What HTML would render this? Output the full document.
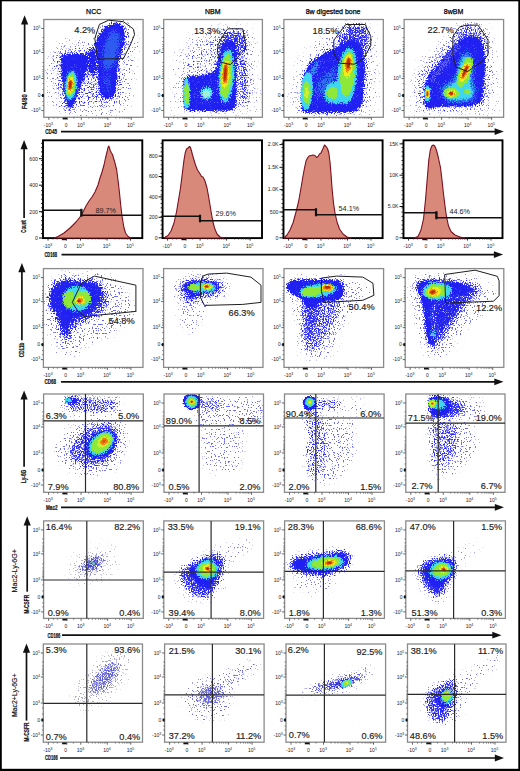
<!DOCTYPE html>
<html><head><meta charset="utf-8"><style>
html,body{margin:0;padding:0;background:#fff;}
svg{display:block;font-family:"Liberation Sans", sans-serif;}
</style></head><body>
<svg width="520" height="771" viewBox="0 0 520 771">
<defs><filter id="b03" x="-50%" y="-50%" width="200%" height="200%"><feGaussianBlur stdDeviation="0.3"/></filter><filter id="b05" x="-50%" y="-50%" width="200%" height="200%"><feGaussianBlur stdDeviation="0.5"/></filter><filter id="b08" x="-50%" y="-50%" width="200%" height="200%"><feGaussianBlur stdDeviation="0.8"/></filter><filter id="b1" x="-50%" y="-50%" width="200%" height="200%"><feGaussianBlur stdDeviation="1.0"/></filter><filter id="b15" x="-50%" y="-50%" width="200%" height="200%"><feGaussianBlur stdDeviation="1.5"/></filter><filter id="b2" x="-50%" y="-50%" width="200%" height="200%"><feGaussianBlur stdDeviation="2.0"/></filter><filter id="b3" x="-50%" y="-50%" width="200%" height="200%"><feGaussianBlur stdDeviation="3.0"/></filter><filter id="b4" x="-50%" y="-50%" width="200%" height="200%"><feGaussianBlur stdDeviation="4.0"/></filter><filter id="d1" x="-40%" y="-40%" width="180%" height="180%" color-interpolation-filters="sRGB"><feGaussianBlur in="SourceGraphic" stdDeviation="1.0" result="b"/><feTurbulence type="fractalNoise" baseFrequency="0.83" numOctaves="1" seed="1" result="n"/><feComponentTransfer in="n" result="n2"><feFuncA type="table" tableValues="0 0 0.03 0.19 0.39 0.57 0.72 0.78 0.78"/></feComponentTransfer><feComposite in="b" in2="n2" operator="arithmetic" k1="0" k2="5" k3="-5" k4="0" result="m"/><feColorMatrix in="b" type="matrix" values="1 0 0 0 0 0 1 0 0 0 0 0 1 0 0 0 0 0 40 0" result="bo"/><feComposite in="bo" in2="m" operator="in"/><feGaussianBlur stdDeviation="0.3"/></filter><filter id="d15" x="-40%" y="-40%" width="180%" height="180%" color-interpolation-filters="sRGB"><feGaussianBlur in="SourceGraphic" stdDeviation="1.5" result="b"/><feTurbulence type="fractalNoise" baseFrequency="0.79" numOctaves="1" seed="2" result="n"/><feComponentTransfer in="n" result="n2"><feFuncA type="table" tableValues="0 0 0.03 0.19 0.39 0.57 0.72 0.78 0.78"/></feComponentTransfer><feComposite in="b" in2="n2" operator="arithmetic" k1="0" k2="5" k3="-5" k4="0" result="m"/><feColorMatrix in="b" type="matrix" values="1 0 0 0 0 0 1 0 0 0 0 0 1 0 0 0 0 0 40 0" result="bo"/><feComposite in="bo" in2="m" operator="in"/><feGaussianBlur stdDeviation="0.3"/></filter><filter id="d2" x="-40%" y="-40%" width="180%" height="180%" color-interpolation-filters="sRGB"><feGaussianBlur in="SourceGraphic" stdDeviation="2.0" result="b"/><feTurbulence type="fractalNoise" baseFrequency="0.87" numOctaves="1" seed="3" result="n"/><feComponentTransfer in="n" result="n2"><feFuncA type="table" tableValues="0 0 0.03 0.19 0.39 0.57 0.72 0.78 0.78"/></feComponentTransfer><feComposite in="b" in2="n2" operator="arithmetic" k1="0" k2="5" k3="-5" k4="0" result="m"/><feColorMatrix in="b" type="matrix" values="1 0 0 0 0 0 1 0 0 0 0 0 1 0 0 0 0 0 40 0" result="bo"/><feComposite in="bo" in2="m" operator="in"/><feGaussianBlur stdDeviation="0.3"/></filter><filter id="d3" x="-40%" y="-40%" width="180%" height="180%" color-interpolation-filters="sRGB"><feGaussianBlur in="SourceGraphic" stdDeviation="3.0" result="b"/><feTurbulence type="fractalNoise" baseFrequency="0.81" numOctaves="1" seed="4" result="n"/><feComponentTransfer in="n" result="n2"><feFuncA type="table" tableValues="0 0 0.03 0.19 0.39 0.57 0.72 0.78 0.78"/></feComponentTransfer><feComposite in="b" in2="n2" operator="arithmetic" k1="0" k2="5" k3="-5" k4="0" result="m"/><feColorMatrix in="b" type="matrix" values="1 0 0 0 0 0 1 0 0 0 0 0 1 0 0 0 0 0 40 0" result="bo"/><feComposite in="bo" in2="m" operator="in"/><feGaussianBlur stdDeviation="0.3"/></filter><filter id="d4" x="-40%" y="-40%" width="180%" height="180%" color-interpolation-filters="sRGB"><feGaussianBlur in="SourceGraphic" stdDeviation="4.0" result="b"/><feTurbulence type="fractalNoise" baseFrequency="0.77" numOctaves="1" seed="5" result="n"/><feComponentTransfer in="n" result="n2"><feFuncA type="table" tableValues="0 0 0.03 0.19 0.39 0.57 0.72 0.78 0.78"/></feComponentTransfer><feComposite in="b" in2="n2" operator="arithmetic" k1="0" k2="5" k3="-5" k4="0" result="m"/><feColorMatrix in="b" type="matrix" values="1 0 0 0 0 0 1 0 0 0 0 0 1 0 0 0 0 0 40 0" result="bo"/><feComposite in="bo" in2="m" operator="in"/><feGaussianBlur stdDeviation="0.3"/></filter><filter id="e1" x="-40%" y="-40%" width="180%" height="180%" color-interpolation-filters="sRGB"><feGaussianBlur in="SourceGraphic" stdDeviation="1.0" result="b"/><feTurbulence type="fractalNoise" baseFrequency="0.85" numOctaves="1" seed="6" result="n"/><feComponentTransfer in="n" result="n2"><feFuncA type="table" tableValues="0 0 0.03 0.19 0.39 0.57 0.72 0.78 0.78"/></feComponentTransfer><feComposite in="b" in2="n2" operator="arithmetic" k1="0" k2="5" k3="-5" k4="0" result="m"/><feColorMatrix in="b" type="matrix" values="1 0 0 0 0 0 1 0 0 0 0 0 1 0 0 0 0 0 40 0" result="bo"/><feComposite in="bo" in2="m" operator="in"/><feGaussianBlur stdDeviation="0.3"/></filter><filter id="e2" x="-40%" y="-40%" width="180%" height="180%" color-interpolation-filters="sRGB"><feGaussianBlur in="SourceGraphic" stdDeviation="2.0" result="b"/><feTurbulence type="fractalNoise" baseFrequency="0.8" numOctaves="1" seed="7" result="n"/><feComponentTransfer in="n" result="n2"><feFuncA type="table" tableValues="0 0 0.03 0.19 0.39 0.57 0.72 0.78 0.78"/></feComponentTransfer><feComposite in="b" in2="n2" operator="arithmetic" k1="0" k2="5" k3="-5" k4="0" result="m"/><feColorMatrix in="b" type="matrix" values="1 0 0 0 0 0 1 0 0 0 0 0 1 0 0 0 0 0 40 0" result="bo"/><feComposite in="bo" in2="m" operator="in"/><feGaussianBlur stdDeviation="0.3"/></filter><filter id="e3" x="-40%" y="-40%" width="180%" height="180%" color-interpolation-filters="sRGB"><feGaussianBlur in="SourceGraphic" stdDeviation="3.0" result="b"/><feTurbulence type="fractalNoise" baseFrequency="0.84" numOctaves="1" seed="8" result="n"/><feComponentTransfer in="n" result="n2"><feFuncA type="table" tableValues="0 0 0.03 0.19 0.39 0.57 0.72 0.78 0.78"/></feComponentTransfer><feComposite in="b" in2="n2" operator="arithmetic" k1="0" k2="5" k3="-5" k4="0" result="m"/><feColorMatrix in="b" type="matrix" values="1 0 0 0 0 0 1 0 0 0 0 0 1 0 0 0 0 0 40 0" result="bo"/><feComposite in="bo" in2="m" operator="in"/><feGaussianBlur stdDeviation="0.3"/></filter><filter id="e4" x="-40%" y="-40%" width="180%" height="180%" color-interpolation-filters="sRGB"><feGaussianBlur in="SourceGraphic" stdDeviation="4.0" result="b"/><feTurbulence type="fractalNoise" baseFrequency="0.86" numOctaves="1" seed="9" result="n"/><feComponentTransfer in="n" result="n2"><feFuncA type="table" tableValues="0 0 0.03 0.19 0.39 0.57 0.72 0.78 0.78"/></feComponentTransfer><feComposite in="b" in2="n2" operator="arithmetic" k1="0" k2="5" k3="-5" k4="0" result="m"/><feColorMatrix in="b" type="matrix" values="1 0 0 0 0 0 1 0 0 0 0 0 1 0 0 0 0 0 40 0" result="bo"/><feComposite in="bo" in2="m" operator="in"/><feGaussianBlur stdDeviation="0.3"/></filter><filter id="s3" x="-40%" y="-40%" width="180%" height="180%" color-interpolation-filters="sRGB"><feGaussianBlur in="SourceGraphic" stdDeviation="3.0" result="b"/><feTurbulence type="fractalNoise" baseFrequency="0.82" numOctaves="1" seed="10" result="n"/><feComponentTransfer in="n" result="n2"><feFuncA type="table" tableValues="0.000 0.000 0.000 0.000 0.004 0.032 0.107 0.237 0.444 0.644 0.769 0.847 0.877 0.880 0.880 0.880 0.880"/></feComponentTransfer><feComposite in="b" in2="n2" operator="arithmetic" k1="0" k2="14" k3="-14" k4="0" result="m"/><feColorMatrix in="b" type="matrix" values="1 0 0 0 0 0 1 0 0 0 0 0 1 0 0 0 0 0 40 0" result="bo"/><feComposite in="bo" in2="m" operator="in"/><feGaussianBlur stdDeviation="0.3"/></filter><filter id="s4" x="-40%" y="-40%" width="180%" height="180%" color-interpolation-filters="sRGB"><feGaussianBlur in="SourceGraphic" stdDeviation="4.0" result="b"/><feTurbulence type="fractalNoise" baseFrequency="0.78" numOctaves="1" seed="11" result="n"/><feComponentTransfer in="n" result="n2"><feFuncA type="table" tableValues="0.000 0.000 0.000 0.000 0.004 0.032 0.107 0.237 0.444 0.644 0.769 0.847 0.877 0.880 0.880 0.880 0.880"/></feComponentTransfer><feComposite in="b" in2="n2" operator="arithmetic" k1="0" k2="14" k3="-14" k4="0" result="m"/><feColorMatrix in="b" type="matrix" values="1 0 0 0 0 0 1 0 0 0 0 0 1 0 0 0 0 0 40 0" result="bo"/><feComposite in="bo" in2="m" operator="in"/><feGaussianBlur stdDeviation="0.3"/></filter></defs>
<rect x="0" y="0" width="520" height="771" fill="#fff"/>
<text x="93.7" y="13.7" font-size="7" text-anchor="middle" font-weight="normal" fill="#000" stroke="#000" stroke-width="0.25">NCC</text>
<text x="212.7" y="13.7" font-size="7" text-anchor="middle" font-weight="normal" fill="#000" stroke="#000" stroke-width="0.25">NBM</text>
<text x="333.1" y="13.7" font-size="7" text-anchor="middle" font-weight="normal" fill="#000" stroke="#000" stroke-width="0.25">8w digested bone</text>
<text x="453.6" y="13.7" font-size="7" text-anchor="middle" font-weight="normal" fill="#000" stroke="#000" stroke-width="0.25">8wBM</text>
<clipPath id="c00"><rect x="43.8" y="19.5" width="99.3" height="97.8"/></clipPath>
<g clip-path="url(#c00)">
<g filter="url(#s4)"><polygon opacity="0.1" points="46,60 60,40 90,38 100,22 130,20 140,40 136,70 130,110 115,116 70,118 50,110 44,80" fill="#6a6aee"/></g>
<g filter="url(#d4)"><polygon opacity="0.34" points="52,56 62,47 93,46 98,28 110,19 128,20 131,40 126,62 122,100 112,108 100,107 90,102 78,114 64,116 58,100 53,76" fill="#2a2af0"/></g>
<g filter="url(#d2)"><polygon opacity="0.75" points="86,52 97,44 99,66 94,80 86,70" fill="#2020f2"/></g>
<g filter="url(#d2)"><polygon points="60.6,54.9 75,53.5 90.2,54.9 86.5,71.5 80,88.2 75.4,101 70.8,109.4 68,108.5 64.3,95.5 61.5,73.4" fill="#2020f2"/></g>
<g filter="url(#d2)"><polygon points="104.9,27.2 97.5,36.5 95.7,45.7 96.6,64.2 98.5,82.6 100.3,95.5 106.8,99.2 114.2,97.4 116.9,82.6 117.8,64.2 123.4,45.7 125.2,32.8 121.5,23.5 114.2,22.6" fill="#2020f2"/></g>
<g filter="url(#e4)"><polygon opacity="0.2" points="62,58 88,56 84,72 76,96 70,106 64,96" fill="#6070f6"/></g>
<g filter="url(#e4)"><polygon opacity="0.22" points="98,40 106,28 120,25 122,45 116,70 114,95 102,96 98,70" fill="#6070f6"/></g>
<g filter="url(#e3)"><ellipse cx="111" cy="50" rx="7.5" ry="22" fill="#2e5cf0" fill-opacity="0.85" transform="rotate(12 111 50)"/></g>
<g filter="url(#e3)"><ellipse cx="107" cy="82" rx="4.5" ry="12" fill="#2e5cf0" fill-opacity="0.6"/></g>
<g filter="url(#e2)"><ellipse cx="71" cy="85.2" rx="6.2" ry="15.5" fill="#2e7cf2" transform="rotate(6 71 85.2)"/></g>
<g filter="url(#e1)"><ellipse cx="71" cy="85.2" rx="5.4" ry="14" fill="#3fd6ee" transform="rotate(6 71 85.2)"/></g>
<g filter="url(#d1)"><ellipse cx="70.8" cy="85" rx="4.2" ry="11.5" fill="#8ee83a" transform="rotate(6 70.8 85)"/></g>
<g filter="url(#e1)"><ellipse cx="70.5" cy="85" rx="3" ry="8.5" fill="#f2ea1a" transform="rotate(6 70.5 85)"/></g>
<g filter="url(#d1)"><ellipse cx="70.3" cy="84.9" rx="2.2" ry="6" fill="#f08010" transform="rotate(6 70.3 84.9)"/></g>
<ellipse cx="70.2" cy="84.8" rx="1.4" ry="4.2" fill="#b82a05" transform="rotate(6 70.2 84.8)" filter="url(#b05)"/>
</g>
<rect x="43.8" y="19.5" width="99.3" height="97.8" fill="none" stroke="#8a8a8a" stroke-width="1.3"/>
<line x1="48.8" y1="117.3" x2="48.8" y2="119.8" stroke="#555" stroke-width="0.9"/>
<text x="48.4" y="127.3" font-size="5" text-anchor="middle" fill="#222">-10<tspan font-size="3.5" dy="-2">3</tspan></text>
<line x1="67.3" y1="117.3" x2="67.3" y2="119.8" stroke="#555" stroke-width="0.9"/>
<text x="66.1" y="127.3" font-size="5" text-anchor="middle" fill="#222">0</text>
<line x1="81.3" y1="117.3" x2="81.3" y2="119.8" stroke="#555" stroke-width="0.9"/>
<text x="80.9" y="127.3" font-size="5" text-anchor="middle" fill="#222">10<tspan font-size="3.5" dy="-2">3</tspan></text>
<line x1="107.8" y1="117.3" x2="107.8" y2="119.8" stroke="#555" stroke-width="0.9"/>
<text x="107.4" y="127.3" font-size="5" text-anchor="middle" fill="#222">10<tspan font-size="3.5" dy="-2">4</tspan></text>
<line x1="131.3" y1="117.3" x2="131.3" y2="119.8" stroke="#555" stroke-width="0.9"/>
<text x="130.9" y="127.3" font-size="5" text-anchor="middle" fill="#222">10<tspan font-size="3.5" dy="-2">5</tspan></text>
<line x1="53.8" y1="117.3" x2="53.8" y2="118.7" stroke="#555" stroke-width="0.7"/>
<line x1="57.8" y1="117.3" x2="57.8" y2="118.7" stroke="#555" stroke-width="0.7"/>
<line x1="73.8" y1="117.3" x2="73.8" y2="118.7" stroke="#555" stroke-width="0.7"/>
<line x1="88.8" y1="117.3" x2="88.8" y2="118.7" stroke="#555" stroke-width="0.7"/>
<line x1="92.8" y1="117.3" x2="92.8" y2="118.7" stroke="#555" stroke-width="0.7"/>
<line x1="95.8" y1="117.3" x2="95.8" y2="118.7" stroke="#555" stroke-width="0.7"/>
<line x1="98.8" y1="117.3" x2="98.8" y2="118.7" stroke="#555" stroke-width="0.7"/>
<line x1="100.8" y1="117.3" x2="100.8" y2="118.7" stroke="#555" stroke-width="0.7"/>
<line x1="102.8" y1="117.3" x2="102.8" y2="118.7" stroke="#555" stroke-width="0.7"/>
<line x1="104.8" y1="117.3" x2="104.8" y2="118.7" stroke="#555" stroke-width="0.7"/>
<line x1="106.3" y1="117.3" x2="106.3" y2="118.7" stroke="#555" stroke-width="0.7"/>
<line x1="115.8" y1="117.3" x2="115.8" y2="118.7" stroke="#555" stroke-width="0.7"/>
<line x1="119.8" y1="117.3" x2="119.8" y2="118.7" stroke="#555" stroke-width="0.7"/>
<line x1="122.8" y1="117.3" x2="122.8" y2="118.7" stroke="#555" stroke-width="0.7"/>
<line x1="124.8" y1="117.3" x2="124.8" y2="118.7" stroke="#555" stroke-width="0.7"/>
<line x1="126.8" y1="117.3" x2="126.8" y2="118.7" stroke="#555" stroke-width="0.7"/>
<line x1="128.3" y1="117.3" x2="128.3" y2="118.7" stroke="#555" stroke-width="0.7"/>
<line x1="129.8" y1="117.3" x2="129.8" y2="118.7" stroke="#555" stroke-width="0.7"/>
<rect x="62.6" y="117.6" width="4.5" height="1.8" fill="#111"/>
<line x1="41.3" y1="28.5" x2="43.8" y2="28.5" stroke="#555" stroke-width="0.9"/>
<text x="40.5" y="30.2" font-size="5" text-anchor="end" fill="#222">10<tspan font-size="3.5" dy="-2">5</tspan></text>
<line x1="41.3" y1="52.5" x2="43.8" y2="52.5" stroke="#555" stroke-width="0.9"/>
<text x="40.5" y="54.2" font-size="5" text-anchor="end" fill="#222">10<tspan font-size="3.5" dy="-2">4</tspan></text>
<line x1="41.3" y1="78.5" x2="43.8" y2="78.5" stroke="#555" stroke-width="0.9"/>
<text x="40.5" y="80.2" font-size="5" text-anchor="end" fill="#222">10<tspan font-size="3.5" dy="-2">3</tspan></text>
<line x1="41.3" y1="95.5" x2="43.8" y2="95.5" stroke="#555" stroke-width="0.9"/>
<text x="40.5" y="97.2" font-size="5" text-anchor="end" fill="#222">0</text>
<line x1="41.3" y1="110.5" x2="43.8" y2="110.5" stroke="#555" stroke-width="0.9"/>
<text x="40.5" y="112.2" font-size="5" text-anchor="end" fill="#222">-10<tspan font-size="3.5" dy="-2">3</tspan></text>
<line x1="42.4" y1="37.5" x2="43.8" y2="37.5" stroke="#555" stroke-width="0.7"/>
<line x1="42.4" y1="41.5" x2="43.8" y2="41.5" stroke="#555" stroke-width="0.7"/>
<line x1="42.4" y1="44.5" x2="43.8" y2="44.5" stroke="#555" stroke-width="0.7"/>
<line x1="42.4" y1="46.5" x2="43.8" y2="46.5" stroke="#555" stroke-width="0.7"/>
<line x1="42.4" y1="48.5" x2="43.8" y2="48.5" stroke="#555" stroke-width="0.7"/>
<line x1="42.4" y1="50" x2="43.8" y2="50" stroke="#555" stroke-width="0.7"/>
<line x1="42.4" y1="62.5" x2="43.8" y2="62.5" stroke="#555" stroke-width="0.7"/>
<line x1="42.4" y1="66.5" x2="43.8" y2="66.5" stroke="#555" stroke-width="0.7"/>
<line x1="42.4" y1="69.5" x2="43.8" y2="69.5" stroke="#555" stroke-width="0.7"/>
<line x1="42.4" y1="71.5" x2="43.8" y2="71.5" stroke="#555" stroke-width="0.7"/>
<line x1="42.4" y1="73.5" x2="43.8" y2="73.5" stroke="#555" stroke-width="0.7"/>
<line x1="42.4" y1="75" x2="43.8" y2="75" stroke="#555" stroke-width="0.7"/>
<line x1="42.4" y1="76.5" x2="43.8" y2="76.5" stroke="#555" stroke-width="0.7"/>
<line x1="42.4" y1="83.5" x2="43.8" y2="83.5" stroke="#555" stroke-width="0.7"/>
<line x1="42.4" y1="89.5" x2="43.8" y2="89.5" stroke="#555" stroke-width="0.7"/>
<line x1="42.4" y1="101.5" x2="43.8" y2="101.5" stroke="#555" stroke-width="0.7"/>
<line x1="42.4" y1="105.5" x2="43.8" y2="105.5" stroke="#555" stroke-width="0.7"/>
<rect x="42" y="94" width="1.8" height="3" fill="#111"/>
<clipPath id="c01"><rect x="163.7" y="19.5" width="98.7" height="97.8"/></clipPath>
<g clip-path="url(#c01)">
<g filter="url(#s4)"><polygon opacity="0.08" points="170,60 190,35 215,25 250,22 262,50 262,115 170,115" fill="#6a6aee"/></g>
<g filter="url(#d4)"><polygon opacity="0.26" points="184,50 196,38 212,34 222,26 248,28 254,60 254,108 186,112 182,80" fill="#2a2af0"/></g>
<g filter="url(#d3)"><polygon opacity="0.55" points="220,30 246,30 248,50 236,62 222,60 217,50" fill="#2a2af0"/></g>
<g filter="url(#d3)"><polygon opacity="0.5" points="236,50 248,60 250,100 240,108" fill="#2a2af0"/></g>
<g filter="url(#d2)"><polygon points="183.5,77.3 193,76 200,75.8 208,74 215,71 219,56 222,44 230,40 236,44 237,70 236,108 228,111 200,111 184,110" fill="#2020f2"/></g>
<g filter="url(#e4)"><polygon opacity="0.22" points="184,80 215,72 222,44 234,44 236,108 186,110" fill="#6070f6"/></g>
<g filter="url(#e1)"><ellipse cx="186.6" cy="93.5" rx="3.6" ry="15.5" fill="#3fd6ee"/></g>
<g filter="url(#d1)"><ellipse cx="186.6" cy="93.5" rx="2.4" ry="11" fill="#8ee83a"/></g>
<g filter="url(#e2)"><ellipse cx="206.5" cy="93.5" rx="6.4" ry="6.4" fill="#3fd6ee"/></g>
<g filter="url(#d1)"><ellipse cx="206.5" cy="93.5" rx="4.2" ry="4.2" fill="#a0f0d8"/></g>
<g filter="url(#e2)"><ellipse cx="226.5" cy="76" rx="7.4" ry="27.5" fill="#3fd6ee" transform="rotate(4 226.5 76)"/></g>
<g filter="url(#d1)"><ellipse cx="226" cy="76" rx="5.6" ry="22.5" fill="#8ee83a" transform="rotate(4 226 76)"/></g>
<g filter="url(#e1)"><ellipse cx="225.5" cy="74" rx="3.8" ry="14" fill="#f2ea1a" transform="rotate(4 225.5 74)"/></g>
<g filter="url(#d1)"><ellipse cx="225.3" cy="73.5" rx="2.6" ry="11" fill="#f08010" transform="rotate(4 225.3 73.5)"/></g>
<ellipse cx="225.3" cy="73.5" rx="1.4" ry="8.5" fill="#b82a05" transform="rotate(4 225.3 73.5)" filter="url(#b05)"/>
</g>
<rect x="163.7" y="19.5" width="98.7" height="97.8" fill="none" stroke="#8a8a8a" stroke-width="1.3"/>
<line x1="168.7" y1="117.3" x2="168.7" y2="119.8" stroke="#555" stroke-width="0.9"/>
<text x="168.3" y="127.3" font-size="5" text-anchor="middle" fill="#222">-10<tspan font-size="3.5" dy="-2">3</tspan></text>
<line x1="187.2" y1="117.3" x2="187.2" y2="119.8" stroke="#555" stroke-width="0.9"/>
<text x="186" y="127.3" font-size="5" text-anchor="middle" fill="#222">0</text>
<line x1="201.2" y1="117.3" x2="201.2" y2="119.8" stroke="#555" stroke-width="0.9"/>
<text x="200.8" y="127.3" font-size="5" text-anchor="middle" fill="#222">10<tspan font-size="3.5" dy="-2">3</tspan></text>
<line x1="227.7" y1="117.3" x2="227.7" y2="119.8" stroke="#555" stroke-width="0.9"/>
<text x="227.3" y="127.3" font-size="5" text-anchor="middle" fill="#222">10<tspan font-size="3.5" dy="-2">4</tspan></text>
<line x1="251.2" y1="117.3" x2="251.2" y2="119.8" stroke="#555" stroke-width="0.9"/>
<text x="250.8" y="127.3" font-size="5" text-anchor="middle" fill="#222">10<tspan font-size="3.5" dy="-2">5</tspan></text>
<line x1="173.7" y1="117.3" x2="173.7" y2="118.7" stroke="#555" stroke-width="0.7"/>
<line x1="177.7" y1="117.3" x2="177.7" y2="118.7" stroke="#555" stroke-width="0.7"/>
<line x1="193.7" y1="117.3" x2="193.7" y2="118.7" stroke="#555" stroke-width="0.7"/>
<line x1="208.7" y1="117.3" x2="208.7" y2="118.7" stroke="#555" stroke-width="0.7"/>
<line x1="212.7" y1="117.3" x2="212.7" y2="118.7" stroke="#555" stroke-width="0.7"/>
<line x1="215.7" y1="117.3" x2="215.7" y2="118.7" stroke="#555" stroke-width="0.7"/>
<line x1="218.7" y1="117.3" x2="218.7" y2="118.7" stroke="#555" stroke-width="0.7"/>
<line x1="220.7" y1="117.3" x2="220.7" y2="118.7" stroke="#555" stroke-width="0.7"/>
<line x1="222.7" y1="117.3" x2="222.7" y2="118.7" stroke="#555" stroke-width="0.7"/>
<line x1="224.7" y1="117.3" x2="224.7" y2="118.7" stroke="#555" stroke-width="0.7"/>
<line x1="226.2" y1="117.3" x2="226.2" y2="118.7" stroke="#555" stroke-width="0.7"/>
<line x1="235.7" y1="117.3" x2="235.7" y2="118.7" stroke="#555" stroke-width="0.7"/>
<line x1="239.7" y1="117.3" x2="239.7" y2="118.7" stroke="#555" stroke-width="0.7"/>
<line x1="242.7" y1="117.3" x2="242.7" y2="118.7" stroke="#555" stroke-width="0.7"/>
<line x1="244.7" y1="117.3" x2="244.7" y2="118.7" stroke="#555" stroke-width="0.7"/>
<line x1="246.7" y1="117.3" x2="246.7" y2="118.7" stroke="#555" stroke-width="0.7"/>
<line x1="248.2" y1="117.3" x2="248.2" y2="118.7" stroke="#555" stroke-width="0.7"/>
<line x1="249.7" y1="117.3" x2="249.7" y2="118.7" stroke="#555" stroke-width="0.7"/>
<rect x="182.5" y="117.6" width="4.5" height="1.8" fill="#111"/>
<line x1="161.2" y1="28.5" x2="163.7" y2="28.5" stroke="#555" stroke-width="0.9"/>
<text x="160.4" y="30.2" font-size="5" text-anchor="end" fill="#222">10<tspan font-size="3.5" dy="-2">5</tspan></text>
<line x1="161.2" y1="52.5" x2="163.7" y2="52.5" stroke="#555" stroke-width="0.9"/>
<text x="160.4" y="54.2" font-size="5" text-anchor="end" fill="#222">10<tspan font-size="3.5" dy="-2">4</tspan></text>
<line x1="161.2" y1="78.5" x2="163.7" y2="78.5" stroke="#555" stroke-width="0.9"/>
<text x="160.4" y="80.2" font-size="5" text-anchor="end" fill="#222">10<tspan font-size="3.5" dy="-2">3</tspan></text>
<line x1="161.2" y1="95.5" x2="163.7" y2="95.5" stroke="#555" stroke-width="0.9"/>
<text x="160.4" y="97.2" font-size="5" text-anchor="end" fill="#222">0</text>
<line x1="161.2" y1="110.5" x2="163.7" y2="110.5" stroke="#555" stroke-width="0.9"/>
<text x="160.4" y="112.2" font-size="5" text-anchor="end" fill="#222">-10<tspan font-size="3.5" dy="-2">3</tspan></text>
<line x1="162.3" y1="37.5" x2="163.7" y2="37.5" stroke="#555" stroke-width="0.7"/>
<line x1="162.3" y1="41.5" x2="163.7" y2="41.5" stroke="#555" stroke-width="0.7"/>
<line x1="162.3" y1="44.5" x2="163.7" y2="44.5" stroke="#555" stroke-width="0.7"/>
<line x1="162.3" y1="46.5" x2="163.7" y2="46.5" stroke="#555" stroke-width="0.7"/>
<line x1="162.3" y1="48.5" x2="163.7" y2="48.5" stroke="#555" stroke-width="0.7"/>
<line x1="162.3" y1="50" x2="163.7" y2="50" stroke="#555" stroke-width="0.7"/>
<line x1="162.3" y1="62.5" x2="163.7" y2="62.5" stroke="#555" stroke-width="0.7"/>
<line x1="162.3" y1="66.5" x2="163.7" y2="66.5" stroke="#555" stroke-width="0.7"/>
<line x1="162.3" y1="69.5" x2="163.7" y2="69.5" stroke="#555" stroke-width="0.7"/>
<line x1="162.3" y1="71.5" x2="163.7" y2="71.5" stroke="#555" stroke-width="0.7"/>
<line x1="162.3" y1="73.5" x2="163.7" y2="73.5" stroke="#555" stroke-width="0.7"/>
<line x1="162.3" y1="75" x2="163.7" y2="75" stroke="#555" stroke-width="0.7"/>
<line x1="162.3" y1="76.5" x2="163.7" y2="76.5" stroke="#555" stroke-width="0.7"/>
<line x1="162.3" y1="83.5" x2="163.7" y2="83.5" stroke="#555" stroke-width="0.7"/>
<line x1="162.3" y1="89.5" x2="163.7" y2="89.5" stroke="#555" stroke-width="0.7"/>
<line x1="162.3" y1="101.5" x2="163.7" y2="101.5" stroke="#555" stroke-width="0.7"/>
<line x1="162.3" y1="105.5" x2="163.7" y2="105.5" stroke="#555" stroke-width="0.7"/>
<rect x="161.9" y="94" width="1.8" height="3" fill="#111"/>
<clipPath id="c02"><rect x="283.9" y="19.5" width="99.4" height="97.8"/></clipPath>
<g clip-path="url(#c02)">
<g filter="url(#s4)"><polygon opacity="0.08" points="290,80 300,55 320,35 340,20 375,20 380,60 378,115 290,115" fill="#6a6aee"/></g>
<g filter="url(#d4)"><polygon opacity="0.33" points="296,112 298,80 306,62 320,50 334,36 346,22 366,22 373,40 370,80 368,110 356,116 306,116" fill="#2a2af0"/></g>
<g filter="url(#d3)"><polygon opacity="0.55" points="336,40 348,24 366,24 372,38 366,57 350,56 340,52" fill="#2a2af0"/></g>
<g filter="url(#d2)"><polygon points="301.5,112.1 301.5,91.8 304.3,73.4 309.8,62.3 320.9,54.9 332,50 344.9,42 354.2,38.3 361.5,45.7 365.2,64.2 363.4,91.8 361.5,106.6 354.2,112.1 320.9,113.1" fill="#2020f2"/></g>
<g filter="url(#e4)"><polygon opacity="0.22" points="302,110 303,80 312,62 332,52 354,40 362,48 364,92 358,110" fill="#6070f6"/></g>
<g filter="url(#e2)"><polygon opacity="0.7" points="306,76 314,62 322,58 318,70 310,84" fill="#3a8af2"/></g>
<g filter="url(#e3)"><polygon opacity="0.6" points="312,96 318,80 328,70 336,64 338,80 330,88 320,98" fill="#3070f0"/></g>
<g filter="url(#e1)"><ellipse cx="306.8" cy="91" rx="6" ry="19" fill="#3fd6ee" transform="rotate(4 306.8 91)"/></g>
<g filter="url(#d1)"><ellipse cx="306.7" cy="92.5" rx="3.8" ry="12" fill="#8ee83a"/></g>
<g filter="url(#e1)"><ellipse cx="306.7" cy="93" rx="2" ry="6" fill="#d8ec30"/></g>
<g filter="url(#e2)"><polygon points="324,92 328,84 338,81 350,83 354,92 350,102 336,104 326,102" fill="#3fd6ee"/></g>
<g filter="url(#d1)"><ellipse cx="333" cy="93" rx="5.8" ry="6" fill="#8ee83a"/></g>
<g filter="url(#d1)"><ellipse cx="345.5" cy="95" rx="4.5" ry="5" fill="#8ee83a"/></g>
<g filter="url(#e2)"><ellipse cx="347" cy="76" rx="9.6" ry="28.5" fill="#3fd6ee" transform="rotate(5 347 76)"/></g>
<g filter="url(#d1)"><ellipse cx="347.5" cy="74" rx="7" ry="22.5" fill="#8ee83a" transform="rotate(5 347.5 74)"/></g>
<g filter="url(#e1)"><ellipse cx="348" cy="66" rx="4.4" ry="12" fill="#f2ea1a" transform="rotate(5 348 66)"/></g>
<g filter="url(#d1)"><ellipse cx="348.2" cy="64.5" rx="3" ry="8" fill="#f08010" transform="rotate(5 348.2 64.5)"/></g>
<ellipse cx="348.4" cy="63.5" rx="1.7" ry="5.2" fill="#b82a05" transform="rotate(5 348.4 63.5)" filter="url(#b05)"/>
</g>
<rect x="283.9" y="19.5" width="99.4" height="97.8" fill="none" stroke="#8a8a8a" stroke-width="1.3"/>
<line x1="288.9" y1="117.3" x2="288.9" y2="119.8" stroke="#555" stroke-width="0.9"/>
<text x="288.5" y="127.3" font-size="5" text-anchor="middle" fill="#222">-10<tspan font-size="3.5" dy="-2">3</tspan></text>
<line x1="307.4" y1="117.3" x2="307.4" y2="119.8" stroke="#555" stroke-width="0.9"/>
<text x="306.2" y="127.3" font-size="5" text-anchor="middle" fill="#222">0</text>
<line x1="321.4" y1="117.3" x2="321.4" y2="119.8" stroke="#555" stroke-width="0.9"/>
<text x="321" y="127.3" font-size="5" text-anchor="middle" fill="#222">10<tspan font-size="3.5" dy="-2">3</tspan></text>
<line x1="347.9" y1="117.3" x2="347.9" y2="119.8" stroke="#555" stroke-width="0.9"/>
<text x="347.5" y="127.3" font-size="5" text-anchor="middle" fill="#222">10<tspan font-size="3.5" dy="-2">4</tspan></text>
<line x1="371.4" y1="117.3" x2="371.4" y2="119.8" stroke="#555" stroke-width="0.9"/>
<text x="371" y="127.3" font-size="5" text-anchor="middle" fill="#222">10<tspan font-size="3.5" dy="-2">5</tspan></text>
<line x1="293.9" y1="117.3" x2="293.9" y2="118.7" stroke="#555" stroke-width="0.7"/>
<line x1="297.9" y1="117.3" x2="297.9" y2="118.7" stroke="#555" stroke-width="0.7"/>
<line x1="313.9" y1="117.3" x2="313.9" y2="118.7" stroke="#555" stroke-width="0.7"/>
<line x1="328.9" y1="117.3" x2="328.9" y2="118.7" stroke="#555" stroke-width="0.7"/>
<line x1="332.9" y1="117.3" x2="332.9" y2="118.7" stroke="#555" stroke-width="0.7"/>
<line x1="335.9" y1="117.3" x2="335.9" y2="118.7" stroke="#555" stroke-width="0.7"/>
<line x1="338.9" y1="117.3" x2="338.9" y2="118.7" stroke="#555" stroke-width="0.7"/>
<line x1="340.9" y1="117.3" x2="340.9" y2="118.7" stroke="#555" stroke-width="0.7"/>
<line x1="342.9" y1="117.3" x2="342.9" y2="118.7" stroke="#555" stroke-width="0.7"/>
<line x1="344.9" y1="117.3" x2="344.9" y2="118.7" stroke="#555" stroke-width="0.7"/>
<line x1="346.4" y1="117.3" x2="346.4" y2="118.7" stroke="#555" stroke-width="0.7"/>
<line x1="355.9" y1="117.3" x2="355.9" y2="118.7" stroke="#555" stroke-width="0.7"/>
<line x1="359.9" y1="117.3" x2="359.9" y2="118.7" stroke="#555" stroke-width="0.7"/>
<line x1="362.9" y1="117.3" x2="362.9" y2="118.7" stroke="#555" stroke-width="0.7"/>
<line x1="364.9" y1="117.3" x2="364.9" y2="118.7" stroke="#555" stroke-width="0.7"/>
<line x1="366.9" y1="117.3" x2="366.9" y2="118.7" stroke="#555" stroke-width="0.7"/>
<line x1="368.4" y1="117.3" x2="368.4" y2="118.7" stroke="#555" stroke-width="0.7"/>
<line x1="369.9" y1="117.3" x2="369.9" y2="118.7" stroke="#555" stroke-width="0.7"/>
<rect x="302.7" y="117.6" width="4.5" height="1.8" fill="#111"/>
<line x1="281.4" y1="28.5" x2="283.9" y2="28.5" stroke="#555" stroke-width="0.9"/>
<text x="280.6" y="30.2" font-size="5" text-anchor="end" fill="#222">10<tspan font-size="3.5" dy="-2">5</tspan></text>
<line x1="281.4" y1="52.5" x2="283.9" y2="52.5" stroke="#555" stroke-width="0.9"/>
<text x="280.6" y="54.2" font-size="5" text-anchor="end" fill="#222">10<tspan font-size="3.5" dy="-2">4</tspan></text>
<line x1="281.4" y1="78.5" x2="283.9" y2="78.5" stroke="#555" stroke-width="0.9"/>
<text x="280.6" y="80.2" font-size="5" text-anchor="end" fill="#222">10<tspan font-size="3.5" dy="-2">3</tspan></text>
<line x1="281.4" y1="95.5" x2="283.9" y2="95.5" stroke="#555" stroke-width="0.9"/>
<text x="280.6" y="97.2" font-size="5" text-anchor="end" fill="#222">0</text>
<line x1="281.4" y1="110.5" x2="283.9" y2="110.5" stroke="#555" stroke-width="0.9"/>
<text x="280.6" y="112.2" font-size="5" text-anchor="end" fill="#222">-10<tspan font-size="3.5" dy="-2">3</tspan></text>
<line x1="282.5" y1="37.5" x2="283.9" y2="37.5" stroke="#555" stroke-width="0.7"/>
<line x1="282.5" y1="41.5" x2="283.9" y2="41.5" stroke="#555" stroke-width="0.7"/>
<line x1="282.5" y1="44.5" x2="283.9" y2="44.5" stroke="#555" stroke-width="0.7"/>
<line x1="282.5" y1="46.5" x2="283.9" y2="46.5" stroke="#555" stroke-width="0.7"/>
<line x1="282.5" y1="48.5" x2="283.9" y2="48.5" stroke="#555" stroke-width="0.7"/>
<line x1="282.5" y1="50" x2="283.9" y2="50" stroke="#555" stroke-width="0.7"/>
<line x1="282.5" y1="62.5" x2="283.9" y2="62.5" stroke="#555" stroke-width="0.7"/>
<line x1="282.5" y1="66.5" x2="283.9" y2="66.5" stroke="#555" stroke-width="0.7"/>
<line x1="282.5" y1="69.5" x2="283.9" y2="69.5" stroke="#555" stroke-width="0.7"/>
<line x1="282.5" y1="71.5" x2="283.9" y2="71.5" stroke="#555" stroke-width="0.7"/>
<line x1="282.5" y1="73.5" x2="283.9" y2="73.5" stroke="#555" stroke-width="0.7"/>
<line x1="282.5" y1="75" x2="283.9" y2="75" stroke="#555" stroke-width="0.7"/>
<line x1="282.5" y1="76.5" x2="283.9" y2="76.5" stroke="#555" stroke-width="0.7"/>
<line x1="282.5" y1="83.5" x2="283.9" y2="83.5" stroke="#555" stroke-width="0.7"/>
<line x1="282.5" y1="89.5" x2="283.9" y2="89.5" stroke="#555" stroke-width="0.7"/>
<line x1="282.5" y1="101.5" x2="283.9" y2="101.5" stroke="#555" stroke-width="0.7"/>
<line x1="282.5" y1="105.5" x2="283.9" y2="105.5" stroke="#555" stroke-width="0.7"/>
<rect x="282.1" y="94" width="1.8" height="3" fill="#111"/>
<clipPath id="c03"><rect x="404.1" y="19.5" width="99.5" height="97.8"/></clipPath>
<g clip-path="url(#c03)">
<g filter="url(#s4)"><polygon opacity="0.08" points="408,80 420,60 440,40 460,20 490,20 500,60 500,115 408,115" fill="#6a6aee"/></g>
<g filter="url(#d4)"><polygon opacity="0.33" points="414,104 414,72 426,60 440,46 452,30 462,21 480,22 492,38 492,70 490,106 476,113 420,113" fill="#2a2af0"/></g>
<g filter="url(#d3)"><polygon opacity="0.42" points="455,32 466,24 480,26 488,40 488,56 472,70 458,66 452,50" fill="#2a2af0"/></g>
<g filter="url(#d2)"><polygon points="424.3,106.6 424.3,84.5 429.8,73.4 440.9,60.5 452,47 459.4,40 468.6,36 477.8,37 483.4,45 485.2,64.2 483.4,91.8 481.5,102.9 468.6,106.6 440.9,106.6 426.2,108.5" fill="#2020f2"/></g>
<g filter="url(#e4)"><polygon opacity="0.22" points="426,104 426,84 442,62 456,44 470,38 482,46 484,90 480,104" fill="#6070f6"/></g>
<g filter="url(#d2)"><polygon opacity="0.55" points="428,80 440,63 452,46 460,40 462,46 450,62 438,78 432,84" fill="#6a6af0"/></g>
<g filter="url(#e3)"><polygon opacity="0.9" points="440,90 446,82 455,80 458,62 463,52 470,51 474,62 473,80 476,90 474,101 462,103 445,102" fill="#2a78f0"/></g>
<g filter="url(#e2)"><polygon points="443,92 449,85 456,84 459,66 464,56 469,56 471,66 470,82 473,92 471,99 460,100 447,99" fill="#3fd6ee"/></g>
<g filter="url(#e1)"><ellipse cx="427.5" cy="93.7" rx="3" ry="8.5" fill="#3fd6ee"/></g>
<g filter="url(#d1)"><ellipse cx="427.5" cy="93.7" rx="1.9" ry="5.2" fill="#f2ea1a"/></g>
<ellipse cx="427.4" cy="93.7" rx="1.1" ry="2.8" fill="#d04010" filter="url(#b05)"/>
<g filter="url(#d1)"><ellipse cx="465" cy="72.5" rx="5.8" ry="16" fill="#8ee83a" transform="rotate(20 465 72.5)"/></g>
<g filter="url(#e1)"><ellipse cx="465" cy="72" rx="3.8" ry="11" fill="#f2ea1a" transform="rotate(22 465 72)"/></g>
<g filter="url(#d1)"><ellipse cx="465" cy="71.5" rx="2.4" ry="8.5" fill="#f08010" transform="rotate(25 465 71.5)"/></g>
<ellipse cx="465" cy="71.5" rx="1.3" ry="6.2" fill="#b82a05" transform="rotate(25 465 71.5)" filter="url(#b05)"/>
<g filter="url(#d1)"><ellipse cx="451.5" cy="93" rx="8" ry="5.6" fill="#8ee83a"/></g>
<g filter="url(#d1)"><ellipse cx="467.7" cy="91.8" rx="3.2" ry="3.2" fill="#8ee83a"/></g>
<g filter="url(#e1)"><ellipse cx="451.3" cy="93.3" rx="4.4" ry="3.4" fill="#f2ea1a"/></g>
<g filter="url(#d1)"><ellipse cx="451.2" cy="93.3" rx="3" ry="2.4" fill="#f08010"/></g>
<ellipse cx="451.2" cy="93.3" rx="1.8" ry="1.5" fill="#b82a05" filter="url(#b05)"/>
</g>
<rect x="404.1" y="19.5" width="99.5" height="97.8" fill="none" stroke="#8a8a8a" stroke-width="1.3"/>
<line x1="409.1" y1="117.3" x2="409.1" y2="119.8" stroke="#555" stroke-width="0.9"/>
<text x="408.7" y="127.3" font-size="5" text-anchor="middle" fill="#222">-10<tspan font-size="3.5" dy="-2">3</tspan></text>
<line x1="427.6" y1="117.3" x2="427.6" y2="119.8" stroke="#555" stroke-width="0.9"/>
<text x="426.4" y="127.3" font-size="5" text-anchor="middle" fill="#222">0</text>
<line x1="441.6" y1="117.3" x2="441.6" y2="119.8" stroke="#555" stroke-width="0.9"/>
<text x="441.2" y="127.3" font-size="5" text-anchor="middle" fill="#222">10<tspan font-size="3.5" dy="-2">3</tspan></text>
<line x1="468.1" y1="117.3" x2="468.1" y2="119.8" stroke="#555" stroke-width="0.9"/>
<text x="467.7" y="127.3" font-size="5" text-anchor="middle" fill="#222">10<tspan font-size="3.5" dy="-2">4</tspan></text>
<line x1="491.6" y1="117.3" x2="491.6" y2="119.8" stroke="#555" stroke-width="0.9"/>
<text x="491.2" y="127.3" font-size="5" text-anchor="middle" fill="#222">10<tspan font-size="3.5" dy="-2">5</tspan></text>
<line x1="414.1" y1="117.3" x2="414.1" y2="118.7" stroke="#555" stroke-width="0.7"/>
<line x1="418.1" y1="117.3" x2="418.1" y2="118.7" stroke="#555" stroke-width="0.7"/>
<line x1="434.1" y1="117.3" x2="434.1" y2="118.7" stroke="#555" stroke-width="0.7"/>
<line x1="449.1" y1="117.3" x2="449.1" y2="118.7" stroke="#555" stroke-width="0.7"/>
<line x1="453.1" y1="117.3" x2="453.1" y2="118.7" stroke="#555" stroke-width="0.7"/>
<line x1="456.1" y1="117.3" x2="456.1" y2="118.7" stroke="#555" stroke-width="0.7"/>
<line x1="459.1" y1="117.3" x2="459.1" y2="118.7" stroke="#555" stroke-width="0.7"/>
<line x1="461.1" y1="117.3" x2="461.1" y2="118.7" stroke="#555" stroke-width="0.7"/>
<line x1="463.1" y1="117.3" x2="463.1" y2="118.7" stroke="#555" stroke-width="0.7"/>
<line x1="465.1" y1="117.3" x2="465.1" y2="118.7" stroke="#555" stroke-width="0.7"/>
<line x1="466.6" y1="117.3" x2="466.6" y2="118.7" stroke="#555" stroke-width="0.7"/>
<line x1="476.1" y1="117.3" x2="476.1" y2="118.7" stroke="#555" stroke-width="0.7"/>
<line x1="480.1" y1="117.3" x2="480.1" y2="118.7" stroke="#555" stroke-width="0.7"/>
<line x1="483.1" y1="117.3" x2="483.1" y2="118.7" stroke="#555" stroke-width="0.7"/>
<line x1="485.1" y1="117.3" x2="485.1" y2="118.7" stroke="#555" stroke-width="0.7"/>
<line x1="487.1" y1="117.3" x2="487.1" y2="118.7" stroke="#555" stroke-width="0.7"/>
<line x1="488.6" y1="117.3" x2="488.6" y2="118.7" stroke="#555" stroke-width="0.7"/>
<line x1="490.1" y1="117.3" x2="490.1" y2="118.7" stroke="#555" stroke-width="0.7"/>
<rect x="422.9" y="117.6" width="4.5" height="1.8" fill="#111"/>
<line x1="401.6" y1="28.5" x2="404.1" y2="28.5" stroke="#555" stroke-width="0.9"/>
<text x="400.8" y="30.2" font-size="5" text-anchor="end" fill="#222">10<tspan font-size="3.5" dy="-2">5</tspan></text>
<line x1="401.6" y1="52.5" x2="404.1" y2="52.5" stroke="#555" stroke-width="0.9"/>
<text x="400.8" y="54.2" font-size="5" text-anchor="end" fill="#222">10<tspan font-size="3.5" dy="-2">4</tspan></text>
<line x1="401.6" y1="78.5" x2="404.1" y2="78.5" stroke="#555" stroke-width="0.9"/>
<text x="400.8" y="80.2" font-size="5" text-anchor="end" fill="#222">10<tspan font-size="3.5" dy="-2">3</tspan></text>
<line x1="401.6" y1="95.5" x2="404.1" y2="95.5" stroke="#555" stroke-width="0.9"/>
<text x="400.8" y="97.2" font-size="5" text-anchor="end" fill="#222">0</text>
<line x1="401.6" y1="110.5" x2="404.1" y2="110.5" stroke="#555" stroke-width="0.9"/>
<text x="400.8" y="112.2" font-size="5" text-anchor="end" fill="#222">-10<tspan font-size="3.5" dy="-2">3</tspan></text>
<line x1="402.7" y1="37.5" x2="404.1" y2="37.5" stroke="#555" stroke-width="0.7"/>
<line x1="402.7" y1="41.5" x2="404.1" y2="41.5" stroke="#555" stroke-width="0.7"/>
<line x1="402.7" y1="44.5" x2="404.1" y2="44.5" stroke="#555" stroke-width="0.7"/>
<line x1="402.7" y1="46.5" x2="404.1" y2="46.5" stroke="#555" stroke-width="0.7"/>
<line x1="402.7" y1="48.5" x2="404.1" y2="48.5" stroke="#555" stroke-width="0.7"/>
<line x1="402.7" y1="50" x2="404.1" y2="50" stroke="#555" stroke-width="0.7"/>
<line x1="402.7" y1="62.5" x2="404.1" y2="62.5" stroke="#555" stroke-width="0.7"/>
<line x1="402.7" y1="66.5" x2="404.1" y2="66.5" stroke="#555" stroke-width="0.7"/>
<line x1="402.7" y1="69.5" x2="404.1" y2="69.5" stroke="#555" stroke-width="0.7"/>
<line x1="402.7" y1="71.5" x2="404.1" y2="71.5" stroke="#555" stroke-width="0.7"/>
<line x1="402.7" y1="73.5" x2="404.1" y2="73.5" stroke="#555" stroke-width="0.7"/>
<line x1="402.7" y1="75" x2="404.1" y2="75" stroke="#555" stroke-width="0.7"/>
<line x1="402.7" y1="76.5" x2="404.1" y2="76.5" stroke="#555" stroke-width="0.7"/>
<line x1="402.7" y1="83.5" x2="404.1" y2="83.5" stroke="#555" stroke-width="0.7"/>
<line x1="402.7" y1="89.5" x2="404.1" y2="89.5" stroke="#555" stroke-width="0.7"/>
<line x1="402.7" y1="101.5" x2="404.1" y2="101.5" stroke="#555" stroke-width="0.7"/>
<line x1="402.7" y1="105.5" x2="404.1" y2="105.5" stroke="#555" stroke-width="0.7"/>
<rect x="402.3" y="94" width="1.8" height="3" fill="#111"/>
<clipPath id="c10"><rect x="43" y="140.3" width="99.3" height="97.8"/></clipPath>
<g clip-path="url(#c10)">
</g>
<rect x="43" y="140.3" width="99.3" height="97.8" fill="none" stroke="#000" stroke-width="1.9"/>
<line x1="48" y1="238.1" x2="48" y2="240.6" stroke="#222" stroke-width="0.9"/>
<text x="47.6" y="248.1" font-size="5" text-anchor="middle" fill="#222">-10<tspan font-size="3.5" dy="-2">3</tspan></text>
<line x1="66.5" y1="238.1" x2="66.5" y2="240.6" stroke="#222" stroke-width="0.9"/>
<text x="65.3" y="248.1" font-size="5" text-anchor="middle" fill="#222">0</text>
<line x1="80.5" y1="238.1" x2="80.5" y2="240.6" stroke="#222" stroke-width="0.9"/>
<text x="80.1" y="248.1" font-size="5" text-anchor="middle" fill="#222">10<tspan font-size="3.5" dy="-2">3</tspan></text>
<line x1="107" y1="238.1" x2="107" y2="240.6" stroke="#222" stroke-width="0.9"/>
<text x="106.6" y="248.1" font-size="5" text-anchor="middle" fill="#222">10<tspan font-size="3.5" dy="-2">4</tspan></text>
<line x1="130.5" y1="238.1" x2="130.5" y2="240.6" stroke="#222" stroke-width="0.9"/>
<text x="130.1" y="248.1" font-size="5" text-anchor="middle" fill="#222">10<tspan font-size="3.5" dy="-2">5</tspan></text>
<line x1="53" y1="238.1" x2="53" y2="239.5" stroke="#222" stroke-width="0.7"/>
<line x1="57" y1="238.1" x2="57" y2="239.5" stroke="#222" stroke-width="0.7"/>
<line x1="73" y1="238.1" x2="73" y2="239.5" stroke="#222" stroke-width="0.7"/>
<line x1="88" y1="238.1" x2="88" y2="239.5" stroke="#222" stroke-width="0.7"/>
<line x1="92" y1="238.1" x2="92" y2="239.5" stroke="#222" stroke-width="0.7"/>
<line x1="95" y1="238.1" x2="95" y2="239.5" stroke="#222" stroke-width="0.7"/>
<line x1="98" y1="238.1" x2="98" y2="239.5" stroke="#222" stroke-width="0.7"/>
<line x1="100" y1="238.1" x2="100" y2="239.5" stroke="#222" stroke-width="0.7"/>
<line x1="102" y1="238.1" x2="102" y2="239.5" stroke="#222" stroke-width="0.7"/>
<line x1="104" y1="238.1" x2="104" y2="239.5" stroke="#222" stroke-width="0.7"/>
<line x1="105.5" y1="238.1" x2="105.5" y2="239.5" stroke="#222" stroke-width="0.7"/>
<line x1="115" y1="238.1" x2="115" y2="239.5" stroke="#222" stroke-width="0.7"/>
<line x1="119" y1="238.1" x2="119" y2="239.5" stroke="#222" stroke-width="0.7"/>
<line x1="122" y1="238.1" x2="122" y2="239.5" stroke="#222" stroke-width="0.7"/>
<line x1="124" y1="238.1" x2="124" y2="239.5" stroke="#222" stroke-width="0.7"/>
<line x1="126" y1="238.1" x2="126" y2="239.5" stroke="#222" stroke-width="0.7"/>
<line x1="127.5" y1="238.1" x2="127.5" y2="239.5" stroke="#222" stroke-width="0.7"/>
<line x1="129" y1="238.1" x2="129" y2="239.5" stroke="#222" stroke-width="0.7"/>
<rect x="61.8" y="238.4" width="4.5" height="1.8" fill="#111"/>
<clipPath id="c11"><rect x="162.6" y="140.3" width="99.4" height="97.8"/></clipPath>
<g clip-path="url(#c11)">
</g>
<rect x="162.6" y="140.3" width="99.4" height="97.8" fill="none" stroke="#000" stroke-width="1.9"/>
<line x1="167.6" y1="238.1" x2="167.6" y2="240.6" stroke="#222" stroke-width="0.9"/>
<text x="167.2" y="248.1" font-size="5" text-anchor="middle" fill="#222">-10<tspan font-size="3.5" dy="-2">3</tspan></text>
<line x1="186.1" y1="238.1" x2="186.1" y2="240.6" stroke="#222" stroke-width="0.9"/>
<text x="184.9" y="248.1" font-size="5" text-anchor="middle" fill="#222">0</text>
<line x1="200.1" y1="238.1" x2="200.1" y2="240.6" stroke="#222" stroke-width="0.9"/>
<text x="199.7" y="248.1" font-size="5" text-anchor="middle" fill="#222">10<tspan font-size="3.5" dy="-2">3</tspan></text>
<line x1="226.6" y1="238.1" x2="226.6" y2="240.6" stroke="#222" stroke-width="0.9"/>
<text x="226.2" y="248.1" font-size="5" text-anchor="middle" fill="#222">10<tspan font-size="3.5" dy="-2">4</tspan></text>
<line x1="250.1" y1="238.1" x2="250.1" y2="240.6" stroke="#222" stroke-width="0.9"/>
<text x="249.7" y="248.1" font-size="5" text-anchor="middle" fill="#222">10<tspan font-size="3.5" dy="-2">5</tspan></text>
<line x1="172.6" y1="238.1" x2="172.6" y2="239.5" stroke="#222" stroke-width="0.7"/>
<line x1="176.6" y1="238.1" x2="176.6" y2="239.5" stroke="#222" stroke-width="0.7"/>
<line x1="192.6" y1="238.1" x2="192.6" y2="239.5" stroke="#222" stroke-width="0.7"/>
<line x1="207.6" y1="238.1" x2="207.6" y2="239.5" stroke="#222" stroke-width="0.7"/>
<line x1="211.6" y1="238.1" x2="211.6" y2="239.5" stroke="#222" stroke-width="0.7"/>
<line x1="214.6" y1="238.1" x2="214.6" y2="239.5" stroke="#222" stroke-width="0.7"/>
<line x1="217.6" y1="238.1" x2="217.6" y2="239.5" stroke="#222" stroke-width="0.7"/>
<line x1="219.6" y1="238.1" x2="219.6" y2="239.5" stroke="#222" stroke-width="0.7"/>
<line x1="221.6" y1="238.1" x2="221.6" y2="239.5" stroke="#222" stroke-width="0.7"/>
<line x1="223.6" y1="238.1" x2="223.6" y2="239.5" stroke="#222" stroke-width="0.7"/>
<line x1="225.1" y1="238.1" x2="225.1" y2="239.5" stroke="#222" stroke-width="0.7"/>
<line x1="234.6" y1="238.1" x2="234.6" y2="239.5" stroke="#222" stroke-width="0.7"/>
<line x1="238.6" y1="238.1" x2="238.6" y2="239.5" stroke="#222" stroke-width="0.7"/>
<line x1="241.6" y1="238.1" x2="241.6" y2="239.5" stroke="#222" stroke-width="0.7"/>
<line x1="243.6" y1="238.1" x2="243.6" y2="239.5" stroke="#222" stroke-width="0.7"/>
<line x1="245.6" y1="238.1" x2="245.6" y2="239.5" stroke="#222" stroke-width="0.7"/>
<line x1="247.1" y1="238.1" x2="247.1" y2="239.5" stroke="#222" stroke-width="0.7"/>
<line x1="248.6" y1="238.1" x2="248.6" y2="239.5" stroke="#222" stroke-width="0.7"/>
<rect x="181.4" y="238.4" width="4.5" height="1.8" fill="#111"/>
<clipPath id="c12"><rect x="283.5" y="140.3" width="99.1" height="97.8"/></clipPath>
<g clip-path="url(#c12)">
</g>
<rect x="283.5" y="140.3" width="99.1" height="97.8" fill="none" stroke="#000" stroke-width="1.9"/>
<line x1="288.5" y1="238.1" x2="288.5" y2="240.6" stroke="#222" stroke-width="0.9"/>
<text x="288.1" y="248.1" font-size="5" text-anchor="middle" fill="#222">-10<tspan font-size="3.5" dy="-2">3</tspan></text>
<line x1="307" y1="238.1" x2="307" y2="240.6" stroke="#222" stroke-width="0.9"/>
<text x="305.8" y="248.1" font-size="5" text-anchor="middle" fill="#222">0</text>
<line x1="321" y1="238.1" x2="321" y2="240.6" stroke="#222" stroke-width="0.9"/>
<text x="320.6" y="248.1" font-size="5" text-anchor="middle" fill="#222">10<tspan font-size="3.5" dy="-2">3</tspan></text>
<line x1="347.5" y1="238.1" x2="347.5" y2="240.6" stroke="#222" stroke-width="0.9"/>
<text x="347.1" y="248.1" font-size="5" text-anchor="middle" fill="#222">10<tspan font-size="3.5" dy="-2">4</tspan></text>
<line x1="371" y1="238.1" x2="371" y2="240.6" stroke="#222" stroke-width="0.9"/>
<text x="370.6" y="248.1" font-size="5" text-anchor="middle" fill="#222">10<tspan font-size="3.5" dy="-2">5</tspan></text>
<line x1="293.5" y1="238.1" x2="293.5" y2="239.5" stroke="#222" stroke-width="0.7"/>
<line x1="297.5" y1="238.1" x2="297.5" y2="239.5" stroke="#222" stroke-width="0.7"/>
<line x1="313.5" y1="238.1" x2="313.5" y2="239.5" stroke="#222" stroke-width="0.7"/>
<line x1="328.5" y1="238.1" x2="328.5" y2="239.5" stroke="#222" stroke-width="0.7"/>
<line x1="332.5" y1="238.1" x2="332.5" y2="239.5" stroke="#222" stroke-width="0.7"/>
<line x1="335.5" y1="238.1" x2="335.5" y2="239.5" stroke="#222" stroke-width="0.7"/>
<line x1="338.5" y1="238.1" x2="338.5" y2="239.5" stroke="#222" stroke-width="0.7"/>
<line x1="340.5" y1="238.1" x2="340.5" y2="239.5" stroke="#222" stroke-width="0.7"/>
<line x1="342.5" y1="238.1" x2="342.5" y2="239.5" stroke="#222" stroke-width="0.7"/>
<line x1="344.5" y1="238.1" x2="344.5" y2="239.5" stroke="#222" stroke-width="0.7"/>
<line x1="346" y1="238.1" x2="346" y2="239.5" stroke="#222" stroke-width="0.7"/>
<line x1="355.5" y1="238.1" x2="355.5" y2="239.5" stroke="#222" stroke-width="0.7"/>
<line x1="359.5" y1="238.1" x2="359.5" y2="239.5" stroke="#222" stroke-width="0.7"/>
<line x1="362.5" y1="238.1" x2="362.5" y2="239.5" stroke="#222" stroke-width="0.7"/>
<line x1="364.5" y1="238.1" x2="364.5" y2="239.5" stroke="#222" stroke-width="0.7"/>
<line x1="366.5" y1="238.1" x2="366.5" y2="239.5" stroke="#222" stroke-width="0.7"/>
<line x1="368" y1="238.1" x2="368" y2="239.5" stroke="#222" stroke-width="0.7"/>
<line x1="369.5" y1="238.1" x2="369.5" y2="239.5" stroke="#222" stroke-width="0.7"/>
<rect x="302.3" y="238.4" width="4.5" height="1.8" fill="#111"/>
<clipPath id="c13"><rect x="403.5" y="140.3" width="99" height="97.8"/></clipPath>
<g clip-path="url(#c13)">
</g>
<rect x="403.5" y="140.3" width="99" height="97.8" fill="none" stroke="#000" stroke-width="1.9"/>
<line x1="408.5" y1="238.1" x2="408.5" y2="240.6" stroke="#222" stroke-width="0.9"/>
<text x="408.1" y="248.1" font-size="5" text-anchor="middle" fill="#222">-10<tspan font-size="3.5" dy="-2">3</tspan></text>
<line x1="427" y1="238.1" x2="427" y2="240.6" stroke="#222" stroke-width="0.9"/>
<text x="425.8" y="248.1" font-size="5" text-anchor="middle" fill="#222">0</text>
<line x1="441" y1="238.1" x2="441" y2="240.6" stroke="#222" stroke-width="0.9"/>
<text x="440.6" y="248.1" font-size="5" text-anchor="middle" fill="#222">10<tspan font-size="3.5" dy="-2">3</tspan></text>
<line x1="467.5" y1="238.1" x2="467.5" y2="240.6" stroke="#222" stroke-width="0.9"/>
<text x="467.1" y="248.1" font-size="5" text-anchor="middle" fill="#222">10<tspan font-size="3.5" dy="-2">4</tspan></text>
<line x1="491" y1="238.1" x2="491" y2="240.6" stroke="#222" stroke-width="0.9"/>
<text x="490.6" y="248.1" font-size="5" text-anchor="middle" fill="#222">10<tspan font-size="3.5" dy="-2">5</tspan></text>
<line x1="413.5" y1="238.1" x2="413.5" y2="239.5" stroke="#222" stroke-width="0.7"/>
<line x1="417.5" y1="238.1" x2="417.5" y2="239.5" stroke="#222" stroke-width="0.7"/>
<line x1="433.5" y1="238.1" x2="433.5" y2="239.5" stroke="#222" stroke-width="0.7"/>
<line x1="448.5" y1="238.1" x2="448.5" y2="239.5" stroke="#222" stroke-width="0.7"/>
<line x1="452.5" y1="238.1" x2="452.5" y2="239.5" stroke="#222" stroke-width="0.7"/>
<line x1="455.5" y1="238.1" x2="455.5" y2="239.5" stroke="#222" stroke-width="0.7"/>
<line x1="458.5" y1="238.1" x2="458.5" y2="239.5" stroke="#222" stroke-width="0.7"/>
<line x1="460.5" y1="238.1" x2="460.5" y2="239.5" stroke="#222" stroke-width="0.7"/>
<line x1="462.5" y1="238.1" x2="462.5" y2="239.5" stroke="#222" stroke-width="0.7"/>
<line x1="464.5" y1="238.1" x2="464.5" y2="239.5" stroke="#222" stroke-width="0.7"/>
<line x1="466" y1="238.1" x2="466" y2="239.5" stroke="#222" stroke-width="0.7"/>
<line x1="475.5" y1="238.1" x2="475.5" y2="239.5" stroke="#222" stroke-width="0.7"/>
<line x1="479.5" y1="238.1" x2="479.5" y2="239.5" stroke="#222" stroke-width="0.7"/>
<line x1="482.5" y1="238.1" x2="482.5" y2="239.5" stroke="#222" stroke-width="0.7"/>
<line x1="484.5" y1="238.1" x2="484.5" y2="239.5" stroke="#222" stroke-width="0.7"/>
<line x1="486.5" y1="238.1" x2="486.5" y2="239.5" stroke="#222" stroke-width="0.7"/>
<line x1="488" y1="238.1" x2="488" y2="239.5" stroke="#222" stroke-width="0.7"/>
<line x1="489.5" y1="238.1" x2="489.5" y2="239.5" stroke="#222" stroke-width="0.7"/>
<rect x="422.3" y="238.4" width="4.5" height="1.8" fill="#111"/>
<clipPath id="c20"><rect x="43.4" y="268.6" width="99.6" height="98.8"/></clipPath>
<g clip-path="url(#c20)">
<g filter="url(#s4)"><polygon opacity="0.16" points="44,300 56,274 104,272 124,290 136,312 112,334 84,344 74,356 58,354 46,322" fill="#6a6aee"/></g>
<g filter="url(#d3)"><polygon opacity="0.55" points="46,296 51,284 60,278 72,277 81,280 91,278 101,282 108,292 110,304 102,314 92,320 82,324 74,330 70,342 63,344 59,330 54,318 48,308" fill="#2a2af0"/></g>
<g filter="url(#d3)"><polygon opacity="0.9" points="49.5,295.7 53.2,286.5 60.6,280.9 71.7,280 80.9,282.8 90.2,280.9 99.4,284.6 103.1,293.8 99.4,304.9 90.2,314.2 80.9,317.8 71.7,321.5 68,332.6 64.3,338.1 61.5,328.9 56.9,316 51.4,306.8" fill="#2424ee" stroke="#2424ee" stroke-width="2" stroke-linejoin="round"/></g>
<g filter="url(#d2)"><polygon points="56,296 59,288 64,284 72,284 81,286 90,284 96,288 97,294 94,303 87,310 80,313 72,317 67,322 61,313 57,304" fill="#2020f2"/></g>
<g filter="url(#e4)"><polygon opacity="0.2" points="52,294 60,282 96,282 102,294 92,312 70,322 66,336 56,312" fill="#6070f6"/></g>
<g filter="url(#e2)"><ellipse cx="77" cy="298.5" rx="14" ry="12.5" fill="#3fd6ee"/></g>
<g filter="url(#d2)"><ellipse cx="68.9" cy="299.4" rx="5.5" ry="9" fill="#8ee83a"/></g>
<g filter="url(#e2)"><ellipse cx="83" cy="297.8" rx="8" ry="7.5" fill="#8ee83a"/></g>
<g filter="url(#d1)"><ellipse cx="80" cy="300.5" rx="4.8" ry="4.2" fill="#f2ea1a" transform="rotate(-20 80 300.5)"/></g>
<g filter="url(#e1)"><ellipse cx="79.5" cy="300.8" rx="3.2" ry="2.6" fill="#f08010" transform="rotate(-20 79.5 300.8)"/></g>
<ellipse cx="79" cy="301" rx="1.8" ry="1.4" fill="#b82a05" filter="url(#b05)"/>
</g>
<rect x="43.4" y="268.6" width="99.6" height="98.8" fill="none" stroke="#8a8a8a" stroke-width="1.3"/>
<line x1="48.4" y1="367.4" x2="48.4" y2="369.9" stroke="#555" stroke-width="0.9"/>
<text x="48" y="377.4" font-size="5" text-anchor="middle" fill="#222">-10<tspan font-size="3.5" dy="-2">3</tspan></text>
<line x1="66.9" y1="367.4" x2="66.9" y2="369.9" stroke="#555" stroke-width="0.9"/>
<text x="65.7" y="377.4" font-size="5" text-anchor="middle" fill="#222">0</text>
<line x1="80.9" y1="367.4" x2="80.9" y2="369.9" stroke="#555" stroke-width="0.9"/>
<text x="80.5" y="377.4" font-size="5" text-anchor="middle" fill="#222">10<tspan font-size="3.5" dy="-2">3</tspan></text>
<line x1="107.4" y1="367.4" x2="107.4" y2="369.9" stroke="#555" stroke-width="0.9"/>
<text x="107" y="377.4" font-size="5" text-anchor="middle" fill="#222">10<tspan font-size="3.5" dy="-2">4</tspan></text>
<line x1="130.9" y1="367.4" x2="130.9" y2="369.9" stroke="#555" stroke-width="0.9"/>
<text x="130.5" y="377.4" font-size="5" text-anchor="middle" fill="#222">10<tspan font-size="3.5" dy="-2">5</tspan></text>
<line x1="53.4" y1="367.4" x2="53.4" y2="368.8" stroke="#555" stroke-width="0.7"/>
<line x1="57.4" y1="367.4" x2="57.4" y2="368.8" stroke="#555" stroke-width="0.7"/>
<line x1="73.4" y1="367.4" x2="73.4" y2="368.8" stroke="#555" stroke-width="0.7"/>
<line x1="88.4" y1="367.4" x2="88.4" y2="368.8" stroke="#555" stroke-width="0.7"/>
<line x1="92.4" y1="367.4" x2="92.4" y2="368.8" stroke="#555" stroke-width="0.7"/>
<line x1="95.4" y1="367.4" x2="95.4" y2="368.8" stroke="#555" stroke-width="0.7"/>
<line x1="98.4" y1="367.4" x2="98.4" y2="368.8" stroke="#555" stroke-width="0.7"/>
<line x1="100.4" y1="367.4" x2="100.4" y2="368.8" stroke="#555" stroke-width="0.7"/>
<line x1="102.4" y1="367.4" x2="102.4" y2="368.8" stroke="#555" stroke-width="0.7"/>
<line x1="104.4" y1="367.4" x2="104.4" y2="368.8" stroke="#555" stroke-width="0.7"/>
<line x1="105.9" y1="367.4" x2="105.9" y2="368.8" stroke="#555" stroke-width="0.7"/>
<line x1="115.4" y1="367.4" x2="115.4" y2="368.8" stroke="#555" stroke-width="0.7"/>
<line x1="119.4" y1="367.4" x2="119.4" y2="368.8" stroke="#555" stroke-width="0.7"/>
<line x1="122.4" y1="367.4" x2="122.4" y2="368.8" stroke="#555" stroke-width="0.7"/>
<line x1="124.4" y1="367.4" x2="124.4" y2="368.8" stroke="#555" stroke-width="0.7"/>
<line x1="126.4" y1="367.4" x2="126.4" y2="368.8" stroke="#555" stroke-width="0.7"/>
<line x1="127.9" y1="367.4" x2="127.9" y2="368.8" stroke="#555" stroke-width="0.7"/>
<line x1="129.4" y1="367.4" x2="129.4" y2="368.8" stroke="#555" stroke-width="0.7"/>
<rect x="62.2" y="367.7" width="4.5" height="1.8" fill="#111"/>
<line x1="40.9" y1="277.6" x2="43.4" y2="277.6" stroke="#555" stroke-width="0.9"/>
<text x="40.1" y="279.3" font-size="5" text-anchor="end" fill="#222">10<tspan font-size="3.5" dy="-2">5</tspan></text>
<line x1="40.9" y1="301.6" x2="43.4" y2="301.6" stroke="#555" stroke-width="0.9"/>
<text x="40.1" y="303.3" font-size="5" text-anchor="end" fill="#222">10<tspan font-size="3.5" dy="-2">4</tspan></text>
<line x1="40.9" y1="327.6" x2="43.4" y2="327.6" stroke="#555" stroke-width="0.9"/>
<text x="40.1" y="329.3" font-size="5" text-anchor="end" fill="#222">10<tspan font-size="3.5" dy="-2">3</tspan></text>
<line x1="40.9" y1="344.6" x2="43.4" y2="344.6" stroke="#555" stroke-width="0.9"/>
<text x="40.1" y="346.3" font-size="5" text-anchor="end" fill="#222">0</text>
<line x1="40.9" y1="359.6" x2="43.4" y2="359.6" stroke="#555" stroke-width="0.9"/>
<text x="40.1" y="361.3" font-size="5" text-anchor="end" fill="#222">-10<tspan font-size="3.5" dy="-2">3</tspan></text>
<line x1="42" y1="286.6" x2="43.4" y2="286.6" stroke="#555" stroke-width="0.7"/>
<line x1="42" y1="290.6" x2="43.4" y2="290.6" stroke="#555" stroke-width="0.7"/>
<line x1="42" y1="293.6" x2="43.4" y2="293.6" stroke="#555" stroke-width="0.7"/>
<line x1="42" y1="295.6" x2="43.4" y2="295.6" stroke="#555" stroke-width="0.7"/>
<line x1="42" y1="297.6" x2="43.4" y2="297.6" stroke="#555" stroke-width="0.7"/>
<line x1="42" y1="299.1" x2="43.4" y2="299.1" stroke="#555" stroke-width="0.7"/>
<line x1="42" y1="311.6" x2="43.4" y2="311.6" stroke="#555" stroke-width="0.7"/>
<line x1="42" y1="315.6" x2="43.4" y2="315.6" stroke="#555" stroke-width="0.7"/>
<line x1="42" y1="318.6" x2="43.4" y2="318.6" stroke="#555" stroke-width="0.7"/>
<line x1="42" y1="320.6" x2="43.4" y2="320.6" stroke="#555" stroke-width="0.7"/>
<line x1="42" y1="322.6" x2="43.4" y2="322.6" stroke="#555" stroke-width="0.7"/>
<line x1="42" y1="324.1" x2="43.4" y2="324.1" stroke="#555" stroke-width="0.7"/>
<line x1="42" y1="325.6" x2="43.4" y2="325.6" stroke="#555" stroke-width="0.7"/>
<line x1="42" y1="332.6" x2="43.4" y2="332.6" stroke="#555" stroke-width="0.7"/>
<line x1="42" y1="338.6" x2="43.4" y2="338.6" stroke="#555" stroke-width="0.7"/>
<line x1="42" y1="350.6" x2="43.4" y2="350.6" stroke="#555" stroke-width="0.7"/>
<line x1="42" y1="354.6" x2="43.4" y2="354.6" stroke="#555" stroke-width="0.7"/>
<rect x="41.6" y="343.1" width="1.8" height="3" fill="#111"/>
<clipPath id="c21"><rect x="163.6" y="268.6" width="99.4" height="98.8"/></clipPath>
<g clip-path="url(#c21)">
<g filter="url(#s4)"><polygon opacity="0.12" points="172,284 196,274 226,276 232,292 210,302 198,326 186,338 178,312" fill="#6a6aee"/></g>
<g filter="url(#d3)"><polygon opacity="0.45" points="177,286 183,279 196,277 210,277 221,280 225,288 220,296 205,298 196,303 188,306 181,298" fill="#2a2af0" stroke="#2a2af0" stroke-width="2" stroke-linejoin="round"/></g>
<g filter="url(#d2)"><polygon opacity="0.72" points="182,286 186,281 196,280 210,280 218,282 220,288 216,293 205,295 196,298 189,300 184,294" fill="#2020f2"/></g>
<g filter="url(#e2)"><ellipse cx="203" cy="287.4" rx="14" ry="4.6" fill="#3fd6ee"/></g>
<g filter="url(#d1)"><ellipse cx="194" cy="287.6" rx="6" ry="3.3" fill="#8ee83a"/></g>
<g filter="url(#e1)"><ellipse cx="207" cy="286.8" rx="6.8" ry="3.2" fill="#8ee83a"/></g>
<g filter="url(#d1)"><ellipse cx="207.4" cy="286.5" rx="4.5" ry="2.5" fill="#f2ea1a"/></g>
<g filter="url(#e1)"><ellipse cx="207" cy="286.5" rx="3" ry="1.7" fill="#f08010"/></g>
<ellipse cx="206.6" cy="286.5" rx="1.6" ry="1.1" fill="#b82a05" filter="url(#b05)"/>
</g>
<rect x="163.6" y="268.6" width="99.4" height="98.8" fill="none" stroke="#8a8a8a" stroke-width="1.3"/>
<line x1="168.6" y1="367.4" x2="168.6" y2="369.9" stroke="#555" stroke-width="0.9"/>
<text x="168.2" y="377.4" font-size="5" text-anchor="middle" fill="#222">-10<tspan font-size="3.5" dy="-2">3</tspan></text>
<line x1="187.1" y1="367.4" x2="187.1" y2="369.9" stroke="#555" stroke-width="0.9"/>
<text x="185.9" y="377.4" font-size="5" text-anchor="middle" fill="#222">0</text>
<line x1="201.1" y1="367.4" x2="201.1" y2="369.9" stroke="#555" stroke-width="0.9"/>
<text x="200.7" y="377.4" font-size="5" text-anchor="middle" fill="#222">10<tspan font-size="3.5" dy="-2">3</tspan></text>
<line x1="227.6" y1="367.4" x2="227.6" y2="369.9" stroke="#555" stroke-width="0.9"/>
<text x="227.2" y="377.4" font-size="5" text-anchor="middle" fill="#222">10<tspan font-size="3.5" dy="-2">4</tspan></text>
<line x1="251.1" y1="367.4" x2="251.1" y2="369.9" stroke="#555" stroke-width="0.9"/>
<text x="250.7" y="377.4" font-size="5" text-anchor="middle" fill="#222">10<tspan font-size="3.5" dy="-2">5</tspan></text>
<line x1="173.6" y1="367.4" x2="173.6" y2="368.8" stroke="#555" stroke-width="0.7"/>
<line x1="177.6" y1="367.4" x2="177.6" y2="368.8" stroke="#555" stroke-width="0.7"/>
<line x1="193.6" y1="367.4" x2="193.6" y2="368.8" stroke="#555" stroke-width="0.7"/>
<line x1="208.6" y1="367.4" x2="208.6" y2="368.8" stroke="#555" stroke-width="0.7"/>
<line x1="212.6" y1="367.4" x2="212.6" y2="368.8" stroke="#555" stroke-width="0.7"/>
<line x1="215.6" y1="367.4" x2="215.6" y2="368.8" stroke="#555" stroke-width="0.7"/>
<line x1="218.6" y1="367.4" x2="218.6" y2="368.8" stroke="#555" stroke-width="0.7"/>
<line x1="220.6" y1="367.4" x2="220.6" y2="368.8" stroke="#555" stroke-width="0.7"/>
<line x1="222.6" y1="367.4" x2="222.6" y2="368.8" stroke="#555" stroke-width="0.7"/>
<line x1="224.6" y1="367.4" x2="224.6" y2="368.8" stroke="#555" stroke-width="0.7"/>
<line x1="226.1" y1="367.4" x2="226.1" y2="368.8" stroke="#555" stroke-width="0.7"/>
<line x1="235.6" y1="367.4" x2="235.6" y2="368.8" stroke="#555" stroke-width="0.7"/>
<line x1="239.6" y1="367.4" x2="239.6" y2="368.8" stroke="#555" stroke-width="0.7"/>
<line x1="242.6" y1="367.4" x2="242.6" y2="368.8" stroke="#555" stroke-width="0.7"/>
<line x1="244.6" y1="367.4" x2="244.6" y2="368.8" stroke="#555" stroke-width="0.7"/>
<line x1="246.6" y1="367.4" x2="246.6" y2="368.8" stroke="#555" stroke-width="0.7"/>
<line x1="248.1" y1="367.4" x2="248.1" y2="368.8" stroke="#555" stroke-width="0.7"/>
<line x1="249.6" y1="367.4" x2="249.6" y2="368.8" stroke="#555" stroke-width="0.7"/>
<rect x="182.4" y="367.7" width="4.5" height="1.8" fill="#111"/>
<line x1="161.1" y1="277.6" x2="163.6" y2="277.6" stroke="#555" stroke-width="0.9"/>
<text x="160.3" y="279.3" font-size="5" text-anchor="end" fill="#222">10<tspan font-size="3.5" dy="-2">5</tspan></text>
<line x1="161.1" y1="301.6" x2="163.6" y2="301.6" stroke="#555" stroke-width="0.9"/>
<text x="160.3" y="303.3" font-size="5" text-anchor="end" fill="#222">10<tspan font-size="3.5" dy="-2">4</tspan></text>
<line x1="161.1" y1="327.6" x2="163.6" y2="327.6" stroke="#555" stroke-width="0.9"/>
<text x="160.3" y="329.3" font-size="5" text-anchor="end" fill="#222">10<tspan font-size="3.5" dy="-2">3</tspan></text>
<line x1="161.1" y1="344.6" x2="163.6" y2="344.6" stroke="#555" stroke-width="0.9"/>
<text x="160.3" y="346.3" font-size="5" text-anchor="end" fill="#222">0</text>
<line x1="161.1" y1="359.6" x2="163.6" y2="359.6" stroke="#555" stroke-width="0.9"/>
<text x="160.3" y="361.3" font-size="5" text-anchor="end" fill="#222">-10<tspan font-size="3.5" dy="-2">3</tspan></text>
<line x1="162.2" y1="286.6" x2="163.6" y2="286.6" stroke="#555" stroke-width="0.7"/>
<line x1="162.2" y1="290.6" x2="163.6" y2="290.6" stroke="#555" stroke-width="0.7"/>
<line x1="162.2" y1="293.6" x2="163.6" y2="293.6" stroke="#555" stroke-width="0.7"/>
<line x1="162.2" y1="295.6" x2="163.6" y2="295.6" stroke="#555" stroke-width="0.7"/>
<line x1="162.2" y1="297.6" x2="163.6" y2="297.6" stroke="#555" stroke-width="0.7"/>
<line x1="162.2" y1="299.1" x2="163.6" y2="299.1" stroke="#555" stroke-width="0.7"/>
<line x1="162.2" y1="311.6" x2="163.6" y2="311.6" stroke="#555" stroke-width="0.7"/>
<line x1="162.2" y1="315.6" x2="163.6" y2="315.6" stroke="#555" stroke-width="0.7"/>
<line x1="162.2" y1="318.6" x2="163.6" y2="318.6" stroke="#555" stroke-width="0.7"/>
<line x1="162.2" y1="320.6" x2="163.6" y2="320.6" stroke="#555" stroke-width="0.7"/>
<line x1="162.2" y1="322.6" x2="163.6" y2="322.6" stroke="#555" stroke-width="0.7"/>
<line x1="162.2" y1="324.1" x2="163.6" y2="324.1" stroke="#555" stroke-width="0.7"/>
<line x1="162.2" y1="325.6" x2="163.6" y2="325.6" stroke="#555" stroke-width="0.7"/>
<line x1="162.2" y1="332.6" x2="163.6" y2="332.6" stroke="#555" stroke-width="0.7"/>
<line x1="162.2" y1="338.6" x2="163.6" y2="338.6" stroke="#555" stroke-width="0.7"/>
<line x1="162.2" y1="350.6" x2="163.6" y2="350.6" stroke="#555" stroke-width="0.7"/>
<line x1="162.2" y1="354.6" x2="163.6" y2="354.6" stroke="#555" stroke-width="0.7"/>
<rect x="161.8" y="343.1" width="1.8" height="3" fill="#111"/>
<clipPath id="c22"><rect x="284" y="268.6" width="99.6" height="98.8"/></clipPath>
<g clip-path="url(#c22)">
<g filter="url(#s4)"><polygon opacity="0.16" points="284,284 300,276 346,277 364,290 352,308 342,328 334,352 318,360 300,356 298,320" fill="#6a6aee"/></g>
<g filter="url(#s4)"><polygon opacity="0.1" points="330,282 372,282 374,296 340,300" fill="#6a6aee"/></g>
<g filter="url(#d3)"><polygon opacity="0.45" points="299,298 342,298 340,314 330,334 320,350 305,354 301,330" fill="#2a2af0"/></g>
<g filter="url(#d2)"><polygon opacity="0.5" points="303,300 322,300 318,320 312,340 306,344 304,325" fill="#2a2af0"/></g>
<g filter="url(#d2)"><polygon points="285,286.5 291,280 310,279.5 330,279.5 342,281 345,292 340,300 320.9,302 313.5,309 307,309 301.5,299 290,293" fill="#2020f2"/></g>
<g filter="url(#e4)"><polygon opacity="0.2" points="287,286 300,281 340,281 343,293 322,301 312,308 302,298" fill="#6070f6"/></g>
<g filter="url(#e2)"><ellipse cx="318" cy="290.5" rx="18.5" ry="6.5" fill="#3fd6ee" transform="rotate(-6 318 290.5)"/></g>
<g filter="url(#d1)"><ellipse cx="312" cy="291.5" rx="12" ry="4.8" fill="#8ee83a" transform="rotate(-8 312 291.5)"/></g>
<g filter="url(#e1)"><ellipse cx="327.4" cy="287.8" rx="7" ry="3.4" fill="#f2ea1a"/></g>
<g filter="url(#d1)"><ellipse cx="327.4" cy="287.6" rx="4.8" ry="2.3" fill="#f08010"/></g>
<ellipse cx="327.4" cy="287.4" rx="2.8" ry="1.4" fill="#b82a05" filter="url(#b05)"/>
</g>
<rect x="284" y="268.6" width="99.6" height="98.8" fill="none" stroke="#8a8a8a" stroke-width="1.3"/>
<line x1="289" y1="367.4" x2="289" y2="369.9" stroke="#555" stroke-width="0.9"/>
<text x="288.6" y="377.4" font-size="5" text-anchor="middle" fill="#222">-10<tspan font-size="3.5" dy="-2">3</tspan></text>
<line x1="307.5" y1="367.4" x2="307.5" y2="369.9" stroke="#555" stroke-width="0.9"/>
<text x="306.3" y="377.4" font-size="5" text-anchor="middle" fill="#222">0</text>
<line x1="321.5" y1="367.4" x2="321.5" y2="369.9" stroke="#555" stroke-width="0.9"/>
<text x="321.1" y="377.4" font-size="5" text-anchor="middle" fill="#222">10<tspan font-size="3.5" dy="-2">3</tspan></text>
<line x1="348" y1="367.4" x2="348" y2="369.9" stroke="#555" stroke-width="0.9"/>
<text x="347.6" y="377.4" font-size="5" text-anchor="middle" fill="#222">10<tspan font-size="3.5" dy="-2">4</tspan></text>
<line x1="371.5" y1="367.4" x2="371.5" y2="369.9" stroke="#555" stroke-width="0.9"/>
<text x="371.1" y="377.4" font-size="5" text-anchor="middle" fill="#222">10<tspan font-size="3.5" dy="-2">5</tspan></text>
<line x1="294" y1="367.4" x2="294" y2="368.8" stroke="#555" stroke-width="0.7"/>
<line x1="298" y1="367.4" x2="298" y2="368.8" stroke="#555" stroke-width="0.7"/>
<line x1="314" y1="367.4" x2="314" y2="368.8" stroke="#555" stroke-width="0.7"/>
<line x1="329" y1="367.4" x2="329" y2="368.8" stroke="#555" stroke-width="0.7"/>
<line x1="333" y1="367.4" x2="333" y2="368.8" stroke="#555" stroke-width="0.7"/>
<line x1="336" y1="367.4" x2="336" y2="368.8" stroke="#555" stroke-width="0.7"/>
<line x1="339" y1="367.4" x2="339" y2="368.8" stroke="#555" stroke-width="0.7"/>
<line x1="341" y1="367.4" x2="341" y2="368.8" stroke="#555" stroke-width="0.7"/>
<line x1="343" y1="367.4" x2="343" y2="368.8" stroke="#555" stroke-width="0.7"/>
<line x1="345" y1="367.4" x2="345" y2="368.8" stroke="#555" stroke-width="0.7"/>
<line x1="346.5" y1="367.4" x2="346.5" y2="368.8" stroke="#555" stroke-width="0.7"/>
<line x1="356" y1="367.4" x2="356" y2="368.8" stroke="#555" stroke-width="0.7"/>
<line x1="360" y1="367.4" x2="360" y2="368.8" stroke="#555" stroke-width="0.7"/>
<line x1="363" y1="367.4" x2="363" y2="368.8" stroke="#555" stroke-width="0.7"/>
<line x1="365" y1="367.4" x2="365" y2="368.8" stroke="#555" stroke-width="0.7"/>
<line x1="367" y1="367.4" x2="367" y2="368.8" stroke="#555" stroke-width="0.7"/>
<line x1="368.5" y1="367.4" x2="368.5" y2="368.8" stroke="#555" stroke-width="0.7"/>
<line x1="370" y1="367.4" x2="370" y2="368.8" stroke="#555" stroke-width="0.7"/>
<rect x="302.8" y="367.7" width="4.5" height="1.8" fill="#111"/>
<line x1="281.5" y1="277.6" x2="284" y2="277.6" stroke="#555" stroke-width="0.9"/>
<text x="280.7" y="279.3" font-size="5" text-anchor="end" fill="#222">10<tspan font-size="3.5" dy="-2">5</tspan></text>
<line x1="281.5" y1="301.6" x2="284" y2="301.6" stroke="#555" stroke-width="0.9"/>
<text x="280.7" y="303.3" font-size="5" text-anchor="end" fill="#222">10<tspan font-size="3.5" dy="-2">4</tspan></text>
<line x1="281.5" y1="327.6" x2="284" y2="327.6" stroke="#555" stroke-width="0.9"/>
<text x="280.7" y="329.3" font-size="5" text-anchor="end" fill="#222">10<tspan font-size="3.5" dy="-2">3</tspan></text>
<line x1="281.5" y1="344.6" x2="284" y2="344.6" stroke="#555" stroke-width="0.9"/>
<text x="280.7" y="346.3" font-size="5" text-anchor="end" fill="#222">0</text>
<line x1="281.5" y1="359.6" x2="284" y2="359.6" stroke="#555" stroke-width="0.9"/>
<text x="280.7" y="361.3" font-size="5" text-anchor="end" fill="#222">-10<tspan font-size="3.5" dy="-2">3</tspan></text>
<line x1="282.6" y1="286.6" x2="284" y2="286.6" stroke="#555" stroke-width="0.7"/>
<line x1="282.6" y1="290.6" x2="284" y2="290.6" stroke="#555" stroke-width="0.7"/>
<line x1="282.6" y1="293.6" x2="284" y2="293.6" stroke="#555" stroke-width="0.7"/>
<line x1="282.6" y1="295.6" x2="284" y2="295.6" stroke="#555" stroke-width="0.7"/>
<line x1="282.6" y1="297.6" x2="284" y2="297.6" stroke="#555" stroke-width="0.7"/>
<line x1="282.6" y1="299.1" x2="284" y2="299.1" stroke="#555" stroke-width="0.7"/>
<line x1="282.6" y1="311.6" x2="284" y2="311.6" stroke="#555" stroke-width="0.7"/>
<line x1="282.6" y1="315.6" x2="284" y2="315.6" stroke="#555" stroke-width="0.7"/>
<line x1="282.6" y1="318.6" x2="284" y2="318.6" stroke="#555" stroke-width="0.7"/>
<line x1="282.6" y1="320.6" x2="284" y2="320.6" stroke="#555" stroke-width="0.7"/>
<line x1="282.6" y1="322.6" x2="284" y2="322.6" stroke="#555" stroke-width="0.7"/>
<line x1="282.6" y1="324.1" x2="284" y2="324.1" stroke="#555" stroke-width="0.7"/>
<line x1="282.6" y1="325.6" x2="284" y2="325.6" stroke="#555" stroke-width="0.7"/>
<line x1="282.6" y1="332.6" x2="284" y2="332.6" stroke="#555" stroke-width="0.7"/>
<line x1="282.6" y1="338.6" x2="284" y2="338.6" stroke="#555" stroke-width="0.7"/>
<line x1="282.6" y1="350.6" x2="284" y2="350.6" stroke="#555" stroke-width="0.7"/>
<line x1="282.6" y1="354.6" x2="284" y2="354.6" stroke="#555" stroke-width="0.7"/>
<rect x="282.2" y="343.1" width="1.8" height="3" fill="#111"/>
<clipPath id="c23"><rect x="405.2" y="268.6" width="98.6" height="98.8"/></clipPath>
<g clip-path="url(#c23)">
<g filter="url(#s4)"><polygon opacity="0.16" points="408,284 420,274 472,276 498,292 482,312 462,332 446,356 428,358 418,330 412,300" fill="#6a6aee"/></g>
<g filter="url(#d3)"><polygon opacity="0.62" points="415.2,284.6 419.8,280.9 432.7,279.1 451.2,280.9 469.6,282.8 480,288.3 478,294 465.9,304.9 456.7,317.8 447.5,330.8 440.1,343.7 430.8,349.2 427.2,341.8 425.3,323.4 423.5,304.9 419.8,295.7 416.1,290.2" fill="#2a2af0" stroke="#2a2af0" stroke-width="2" stroke-linejoin="round"/></g>
<g filter="url(#d2)"><polygon points="417,285 422,281 433,280 450,281.5 466,284 472,289 464,295 450,297 436,300 430,310 432,330 436,342 430,347 427,338 425,320 423,305 420,296" fill="#2020f2"/></g>
<g filter="url(#d2)"><polygon opacity="0.6" points="436,298 452,296 464,298 456,312 446,326 438,338 434,320" fill="#2020f2"/></g>
<g filter="url(#e4)"><polygon opacity="0.2" points="417,285 430,280 470,284 476,292 462,302 448,324 438,344 428,346 424,310" fill="#6070f6"/></g>
<g filter="url(#e2)"><ellipse cx="437" cy="291" rx="15" ry="8.8" fill="#3fd6ee" transform="rotate(-5 437 291)"/></g>
<g filter="url(#d1)"><ellipse cx="436" cy="291" rx="11" ry="6.8" fill="#8ee83a" transform="rotate(-5 436 291)"/></g>
<g filter="url(#e1)"><ellipse cx="434.5" cy="291.5" rx="6.8" ry="4.6" fill="#f2ea1a" transform="rotate(-10 434.5 291.5)"/></g>
<g filter="url(#d1)"><ellipse cx="433" cy="292" rx="4.3" ry="3" fill="#f08010" transform="rotate(-20 433 292)"/></g>
<ellipse cx="432.7" cy="292" rx="2.6" ry="1.8" fill="#b82a05" transform="rotate(-20 432.7 292)" filter="url(#b05)"/>
<g filter="url(#e2)"><ellipse cx="432.7" cy="334.5" rx="2.8" ry="6" fill="#3fd6ee" fill-opacity="0.8"/></g>
<g filter="url(#e2)"><ellipse cx="430" cy="315" rx="2" ry="10" fill="#3fd6ee" fill-opacity="0.4"/></g>
</g>
<rect x="405.2" y="268.6" width="98.6" height="98.8" fill="none" stroke="#8a8a8a" stroke-width="1.3"/>
<line x1="410.2" y1="367.4" x2="410.2" y2="369.9" stroke="#555" stroke-width="0.9"/>
<text x="409.8" y="377.4" font-size="5" text-anchor="middle" fill="#222">-10<tspan font-size="3.5" dy="-2">3</tspan></text>
<line x1="428.7" y1="367.4" x2="428.7" y2="369.9" stroke="#555" stroke-width="0.9"/>
<text x="427.5" y="377.4" font-size="5" text-anchor="middle" fill="#222">0</text>
<line x1="442.7" y1="367.4" x2="442.7" y2="369.9" stroke="#555" stroke-width="0.9"/>
<text x="442.3" y="377.4" font-size="5" text-anchor="middle" fill="#222">10<tspan font-size="3.5" dy="-2">3</tspan></text>
<line x1="469.2" y1="367.4" x2="469.2" y2="369.9" stroke="#555" stroke-width="0.9"/>
<text x="468.8" y="377.4" font-size="5" text-anchor="middle" fill="#222">10<tspan font-size="3.5" dy="-2">4</tspan></text>
<line x1="492.7" y1="367.4" x2="492.7" y2="369.9" stroke="#555" stroke-width="0.9"/>
<text x="492.3" y="377.4" font-size="5" text-anchor="middle" fill="#222">10<tspan font-size="3.5" dy="-2">5</tspan></text>
<line x1="415.2" y1="367.4" x2="415.2" y2="368.8" stroke="#555" stroke-width="0.7"/>
<line x1="419.2" y1="367.4" x2="419.2" y2="368.8" stroke="#555" stroke-width="0.7"/>
<line x1="435.2" y1="367.4" x2="435.2" y2="368.8" stroke="#555" stroke-width="0.7"/>
<line x1="450.2" y1="367.4" x2="450.2" y2="368.8" stroke="#555" stroke-width="0.7"/>
<line x1="454.2" y1="367.4" x2="454.2" y2="368.8" stroke="#555" stroke-width="0.7"/>
<line x1="457.2" y1="367.4" x2="457.2" y2="368.8" stroke="#555" stroke-width="0.7"/>
<line x1="460.2" y1="367.4" x2="460.2" y2="368.8" stroke="#555" stroke-width="0.7"/>
<line x1="462.2" y1="367.4" x2="462.2" y2="368.8" stroke="#555" stroke-width="0.7"/>
<line x1="464.2" y1="367.4" x2="464.2" y2="368.8" stroke="#555" stroke-width="0.7"/>
<line x1="466.2" y1="367.4" x2="466.2" y2="368.8" stroke="#555" stroke-width="0.7"/>
<line x1="467.7" y1="367.4" x2="467.7" y2="368.8" stroke="#555" stroke-width="0.7"/>
<line x1="477.2" y1="367.4" x2="477.2" y2="368.8" stroke="#555" stroke-width="0.7"/>
<line x1="481.2" y1="367.4" x2="481.2" y2="368.8" stroke="#555" stroke-width="0.7"/>
<line x1="484.2" y1="367.4" x2="484.2" y2="368.8" stroke="#555" stroke-width="0.7"/>
<line x1="486.2" y1="367.4" x2="486.2" y2="368.8" stroke="#555" stroke-width="0.7"/>
<line x1="488.2" y1="367.4" x2="488.2" y2="368.8" stroke="#555" stroke-width="0.7"/>
<line x1="489.7" y1="367.4" x2="489.7" y2="368.8" stroke="#555" stroke-width="0.7"/>
<line x1="491.2" y1="367.4" x2="491.2" y2="368.8" stroke="#555" stroke-width="0.7"/>
<rect x="424" y="367.7" width="4.5" height="1.8" fill="#111"/>
<line x1="402.7" y1="277.6" x2="405.2" y2="277.6" stroke="#555" stroke-width="0.9"/>
<text x="401.9" y="279.3" font-size="5" text-anchor="end" fill="#222">10<tspan font-size="3.5" dy="-2">5</tspan></text>
<line x1="402.7" y1="301.6" x2="405.2" y2="301.6" stroke="#555" stroke-width="0.9"/>
<text x="401.9" y="303.3" font-size="5" text-anchor="end" fill="#222">10<tspan font-size="3.5" dy="-2">4</tspan></text>
<line x1="402.7" y1="327.6" x2="405.2" y2="327.6" stroke="#555" stroke-width="0.9"/>
<text x="401.9" y="329.3" font-size="5" text-anchor="end" fill="#222">10<tspan font-size="3.5" dy="-2">3</tspan></text>
<line x1="402.7" y1="344.6" x2="405.2" y2="344.6" stroke="#555" stroke-width="0.9"/>
<text x="401.9" y="346.3" font-size="5" text-anchor="end" fill="#222">0</text>
<line x1="402.7" y1="359.6" x2="405.2" y2="359.6" stroke="#555" stroke-width="0.9"/>
<text x="401.9" y="361.3" font-size="5" text-anchor="end" fill="#222">-10<tspan font-size="3.5" dy="-2">3</tspan></text>
<line x1="403.8" y1="286.6" x2="405.2" y2="286.6" stroke="#555" stroke-width="0.7"/>
<line x1="403.8" y1="290.6" x2="405.2" y2="290.6" stroke="#555" stroke-width="0.7"/>
<line x1="403.8" y1="293.6" x2="405.2" y2="293.6" stroke="#555" stroke-width="0.7"/>
<line x1="403.8" y1="295.6" x2="405.2" y2="295.6" stroke="#555" stroke-width="0.7"/>
<line x1="403.8" y1="297.6" x2="405.2" y2="297.6" stroke="#555" stroke-width="0.7"/>
<line x1="403.8" y1="299.1" x2="405.2" y2="299.1" stroke="#555" stroke-width="0.7"/>
<line x1="403.8" y1="311.6" x2="405.2" y2="311.6" stroke="#555" stroke-width="0.7"/>
<line x1="403.8" y1="315.6" x2="405.2" y2="315.6" stroke="#555" stroke-width="0.7"/>
<line x1="403.8" y1="318.6" x2="405.2" y2="318.6" stroke="#555" stroke-width="0.7"/>
<line x1="403.8" y1="320.6" x2="405.2" y2="320.6" stroke="#555" stroke-width="0.7"/>
<line x1="403.8" y1="322.6" x2="405.2" y2="322.6" stroke="#555" stroke-width="0.7"/>
<line x1="403.8" y1="324.1" x2="405.2" y2="324.1" stroke="#555" stroke-width="0.7"/>
<line x1="403.8" y1="325.6" x2="405.2" y2="325.6" stroke="#555" stroke-width="0.7"/>
<line x1="403.8" y1="332.6" x2="405.2" y2="332.6" stroke="#555" stroke-width="0.7"/>
<line x1="403.8" y1="338.6" x2="405.2" y2="338.6" stroke="#555" stroke-width="0.7"/>
<line x1="403.8" y1="350.6" x2="405.2" y2="350.6" stroke="#555" stroke-width="0.7"/>
<line x1="403.8" y1="354.6" x2="405.2" y2="354.6" stroke="#555" stroke-width="0.7"/>
<rect x="403.4" y="343.1" width="1.8" height="3" fill="#111"/>
<clipPath id="c30"><rect x="43.6" y="394" width="99.7" height="98.3"/></clipPath>
<g clip-path="url(#c30)">
<g filter="url(#s4)"><polygon opacity="0.14" points="60,396 122,396 122,416 60,416" fill="#6a6aee"/></g>
<g filter="url(#d2)"><polygon opacity="0.45" points="64.3,396 85,396 100,397 117.8,400 117,410 100,413 80,412 66,408" fill="#2a2af0"/></g>
<g filter="url(#d1)"><polygon opacity="0.6" points="65,396 78,396 80,403 70,406 65,403" fill="#2020f2"/></g>
<g filter="url(#e1)"><ellipse cx="68" cy="400.5" rx="4" ry="3" fill="#3fd6ee" fill-opacity="0.75"/></g>
<g filter="url(#s4)"><polygon opacity="0.16" points="56,445 70,428 95,419 122,419 128,440 118,468 95,476 70,472 58,460" fill="#6a6aee"/></g>
<g filter="url(#d3)"><polygon opacity="0.5" points="66.2,449.4 75.4,436.5 86.5,427.2 99.4,421.7 114.2,421.7 119.7,430.9 117.8,449.4 108.6,462.3 99.4,467.8 86.5,467.8 75.4,464.1 68,458.6" fill="#2a2af0"/></g>
<g filter="url(#d2)"><ellipse cx="101.2" cy="444.5" rx="17.5" ry="12.5" fill="#2020f2" transform="rotate(-40 101.2 444.5)"/></g>
<g filter="url(#e2)"><ellipse cx="101.5" cy="443.5" rx="14.5" ry="9.6" fill="#3fd6ee" transform="rotate(-40 101.5 443.5)"/></g>
<g filter="url(#d1)"><ellipse cx="102" cy="443" rx="12" ry="7.8" fill="#8ee83a" transform="rotate(-40 102 443)"/></g>
<g filter="url(#e1)"><ellipse cx="103.5" cy="441.8" rx="7.5" ry="4.8" fill="#c8ee30" transform="rotate(-40 103.5 441.8)"/></g>
<g filter="url(#d1)"><ellipse cx="104" cy="441.3" rx="4.4" ry="3" fill="#f08010" transform="rotate(-40 104 441.3)"/></g>
<ellipse cx="104" cy="441.3" rx="2" ry="1.4" fill="#d85010" transform="rotate(-40 104 441.3)" filter="url(#b05)"/>
</g>
<rect x="43.6" y="394" width="99.7" height="98.3" fill="none" stroke="#8a8a8a" stroke-width="1.3"/>
<line x1="48.6" y1="492.3" x2="48.6" y2="494.8" stroke="#555" stroke-width="0.9"/>
<text x="48.2" y="502.3" font-size="5" text-anchor="middle" fill="#222">-10<tspan font-size="3.5" dy="-2">3</tspan></text>
<line x1="67.1" y1="492.3" x2="67.1" y2="494.8" stroke="#555" stroke-width="0.9"/>
<text x="65.9" y="502.3" font-size="5" text-anchor="middle" fill="#222">0</text>
<line x1="81.1" y1="492.3" x2="81.1" y2="494.8" stroke="#555" stroke-width="0.9"/>
<text x="80.7" y="502.3" font-size="5" text-anchor="middle" fill="#222">10<tspan font-size="3.5" dy="-2">3</tspan></text>
<line x1="107.6" y1="492.3" x2="107.6" y2="494.8" stroke="#555" stroke-width="0.9"/>
<text x="107.2" y="502.3" font-size="5" text-anchor="middle" fill="#222">10<tspan font-size="3.5" dy="-2">4</tspan></text>
<line x1="131.1" y1="492.3" x2="131.1" y2="494.8" stroke="#555" stroke-width="0.9"/>
<text x="130.7" y="502.3" font-size="5" text-anchor="middle" fill="#222">10<tspan font-size="3.5" dy="-2">5</tspan></text>
<line x1="53.6" y1="492.3" x2="53.6" y2="493.7" stroke="#555" stroke-width="0.7"/>
<line x1="57.6" y1="492.3" x2="57.6" y2="493.7" stroke="#555" stroke-width="0.7"/>
<line x1="73.6" y1="492.3" x2="73.6" y2="493.7" stroke="#555" stroke-width="0.7"/>
<line x1="88.6" y1="492.3" x2="88.6" y2="493.7" stroke="#555" stroke-width="0.7"/>
<line x1="92.6" y1="492.3" x2="92.6" y2="493.7" stroke="#555" stroke-width="0.7"/>
<line x1="95.6" y1="492.3" x2="95.6" y2="493.7" stroke="#555" stroke-width="0.7"/>
<line x1="98.6" y1="492.3" x2="98.6" y2="493.7" stroke="#555" stroke-width="0.7"/>
<line x1="100.6" y1="492.3" x2="100.6" y2="493.7" stroke="#555" stroke-width="0.7"/>
<line x1="102.6" y1="492.3" x2="102.6" y2="493.7" stroke="#555" stroke-width="0.7"/>
<line x1="104.6" y1="492.3" x2="104.6" y2="493.7" stroke="#555" stroke-width="0.7"/>
<line x1="106.1" y1="492.3" x2="106.1" y2="493.7" stroke="#555" stroke-width="0.7"/>
<line x1="115.6" y1="492.3" x2="115.6" y2="493.7" stroke="#555" stroke-width="0.7"/>
<line x1="119.6" y1="492.3" x2="119.6" y2="493.7" stroke="#555" stroke-width="0.7"/>
<line x1="122.6" y1="492.3" x2="122.6" y2="493.7" stroke="#555" stroke-width="0.7"/>
<line x1="124.6" y1="492.3" x2="124.6" y2="493.7" stroke="#555" stroke-width="0.7"/>
<line x1="126.6" y1="492.3" x2="126.6" y2="493.7" stroke="#555" stroke-width="0.7"/>
<line x1="128.1" y1="492.3" x2="128.1" y2="493.7" stroke="#555" stroke-width="0.7"/>
<line x1="129.6" y1="492.3" x2="129.6" y2="493.7" stroke="#555" stroke-width="0.7"/>
<rect x="62.4" y="492.6" width="4.5" height="1.8" fill="#111"/>
<line x1="41.1" y1="403" x2="43.6" y2="403" stroke="#555" stroke-width="0.9"/>
<text x="40.3" y="404.7" font-size="5" text-anchor="end" fill="#222">10<tspan font-size="3.5" dy="-2">5</tspan></text>
<line x1="41.1" y1="427" x2="43.6" y2="427" stroke="#555" stroke-width="0.9"/>
<text x="40.3" y="428.7" font-size="5" text-anchor="end" fill="#222">10<tspan font-size="3.5" dy="-2">4</tspan></text>
<line x1="41.1" y1="453" x2="43.6" y2="453" stroke="#555" stroke-width="0.9"/>
<text x="40.3" y="454.7" font-size="5" text-anchor="end" fill="#222">10<tspan font-size="3.5" dy="-2">3</tspan></text>
<line x1="41.1" y1="470" x2="43.6" y2="470" stroke="#555" stroke-width="0.9"/>
<text x="40.3" y="471.7" font-size="5" text-anchor="end" fill="#222">0</text>
<line x1="41.1" y1="485" x2="43.6" y2="485" stroke="#555" stroke-width="0.9"/>
<text x="40.3" y="486.7" font-size="5" text-anchor="end" fill="#222">-10<tspan font-size="3.5" dy="-2">3</tspan></text>
<line x1="42.2" y1="412" x2="43.6" y2="412" stroke="#555" stroke-width="0.7"/>
<line x1="42.2" y1="416" x2="43.6" y2="416" stroke="#555" stroke-width="0.7"/>
<line x1="42.2" y1="419" x2="43.6" y2="419" stroke="#555" stroke-width="0.7"/>
<line x1="42.2" y1="421" x2="43.6" y2="421" stroke="#555" stroke-width="0.7"/>
<line x1="42.2" y1="423" x2="43.6" y2="423" stroke="#555" stroke-width="0.7"/>
<line x1="42.2" y1="424.5" x2="43.6" y2="424.5" stroke="#555" stroke-width="0.7"/>
<line x1="42.2" y1="437" x2="43.6" y2="437" stroke="#555" stroke-width="0.7"/>
<line x1="42.2" y1="441" x2="43.6" y2="441" stroke="#555" stroke-width="0.7"/>
<line x1="42.2" y1="444" x2="43.6" y2="444" stroke="#555" stroke-width="0.7"/>
<line x1="42.2" y1="446" x2="43.6" y2="446" stroke="#555" stroke-width="0.7"/>
<line x1="42.2" y1="448" x2="43.6" y2="448" stroke="#555" stroke-width="0.7"/>
<line x1="42.2" y1="449.5" x2="43.6" y2="449.5" stroke="#555" stroke-width="0.7"/>
<line x1="42.2" y1="451" x2="43.6" y2="451" stroke="#555" stroke-width="0.7"/>
<line x1="42.2" y1="458" x2="43.6" y2="458" stroke="#555" stroke-width="0.7"/>
<line x1="42.2" y1="464" x2="43.6" y2="464" stroke="#555" stroke-width="0.7"/>
<line x1="42.2" y1="476" x2="43.6" y2="476" stroke="#555" stroke-width="0.7"/>
<line x1="42.2" y1="480" x2="43.6" y2="480" stroke="#555" stroke-width="0.7"/>
<rect x="41.8" y="468.5" width="1.8" height="3" fill="#111"/>
<clipPath id="c31"><rect x="164" y="394" width="99.5" height="98.3"/></clipPath>
<g clip-path="url(#c31)">
<g filter="url(#d3)"><polygon opacity="0.45" points="196,396 212,398 226,404 218,410 205,410 196,408" fill="#2a2af0"/></g>
<g filter="url(#s4)"><polygon opacity="0.17" points="196,398 262,398 262,425 196,425" fill="#6a6aee"/></g>
<g filter="url(#s4)"><polygon opacity="0.13" points="200,427 245,427 240,472 205,472" fill="#6a6aee"/></g>
<g filter="url(#d1)"><ellipse cx="191.7" cy="401.8" rx="8.8" ry="8.4" fill="#2020f2"/></g>
<g filter="url(#e1)"><ellipse cx="191.7" cy="401.8" rx="6.4" ry="6.2" fill="#3fd6ee"/></g>
<g filter="url(#d1)"><ellipse cx="191.7" cy="401.8" rx="4.2" ry="4.1" fill="#8ee83a"/></g>
<g filter="url(#e1)"><ellipse cx="191.7" cy="401.8" rx="2.5" ry="2.4" fill="#f2ea1a"/></g>
<ellipse cx="191.7" cy="401.8" rx="1.2" ry="1.2" fill="#b82a05" filter="url(#b05)"/>
</g>
<rect x="164" y="394" width="99.5" height="98.3" fill="none" stroke="#8a8a8a" stroke-width="1.3"/>
<line x1="169" y1="492.3" x2="169" y2="494.8" stroke="#555" stroke-width="0.9"/>
<text x="168.6" y="502.3" font-size="5" text-anchor="middle" fill="#222">-10<tspan font-size="3.5" dy="-2">3</tspan></text>
<line x1="187.5" y1="492.3" x2="187.5" y2="494.8" stroke="#555" stroke-width="0.9"/>
<text x="186.3" y="502.3" font-size="5" text-anchor="middle" fill="#222">0</text>
<line x1="201.5" y1="492.3" x2="201.5" y2="494.8" stroke="#555" stroke-width="0.9"/>
<text x="201.1" y="502.3" font-size="5" text-anchor="middle" fill="#222">10<tspan font-size="3.5" dy="-2">3</tspan></text>
<line x1="228" y1="492.3" x2="228" y2="494.8" stroke="#555" stroke-width="0.9"/>
<text x="227.6" y="502.3" font-size="5" text-anchor="middle" fill="#222">10<tspan font-size="3.5" dy="-2">4</tspan></text>
<line x1="251.5" y1="492.3" x2="251.5" y2="494.8" stroke="#555" stroke-width="0.9"/>
<text x="251.1" y="502.3" font-size="5" text-anchor="middle" fill="#222">10<tspan font-size="3.5" dy="-2">5</tspan></text>
<line x1="174" y1="492.3" x2="174" y2="493.7" stroke="#555" stroke-width="0.7"/>
<line x1="178" y1="492.3" x2="178" y2="493.7" stroke="#555" stroke-width="0.7"/>
<line x1="194" y1="492.3" x2="194" y2="493.7" stroke="#555" stroke-width="0.7"/>
<line x1="209" y1="492.3" x2="209" y2="493.7" stroke="#555" stroke-width="0.7"/>
<line x1="213" y1="492.3" x2="213" y2="493.7" stroke="#555" stroke-width="0.7"/>
<line x1="216" y1="492.3" x2="216" y2="493.7" stroke="#555" stroke-width="0.7"/>
<line x1="219" y1="492.3" x2="219" y2="493.7" stroke="#555" stroke-width="0.7"/>
<line x1="221" y1="492.3" x2="221" y2="493.7" stroke="#555" stroke-width="0.7"/>
<line x1="223" y1="492.3" x2="223" y2="493.7" stroke="#555" stroke-width="0.7"/>
<line x1="225" y1="492.3" x2="225" y2="493.7" stroke="#555" stroke-width="0.7"/>
<line x1="226.5" y1="492.3" x2="226.5" y2="493.7" stroke="#555" stroke-width="0.7"/>
<line x1="236" y1="492.3" x2="236" y2="493.7" stroke="#555" stroke-width="0.7"/>
<line x1="240" y1="492.3" x2="240" y2="493.7" stroke="#555" stroke-width="0.7"/>
<line x1="243" y1="492.3" x2="243" y2="493.7" stroke="#555" stroke-width="0.7"/>
<line x1="245" y1="492.3" x2="245" y2="493.7" stroke="#555" stroke-width="0.7"/>
<line x1="247" y1="492.3" x2="247" y2="493.7" stroke="#555" stroke-width="0.7"/>
<line x1="248.5" y1="492.3" x2="248.5" y2="493.7" stroke="#555" stroke-width="0.7"/>
<line x1="250" y1="492.3" x2="250" y2="493.7" stroke="#555" stroke-width="0.7"/>
<rect x="182.8" y="492.6" width="4.5" height="1.8" fill="#111"/>
<line x1="161.5" y1="403" x2="164" y2="403" stroke="#555" stroke-width="0.9"/>
<text x="160.7" y="404.7" font-size="5" text-anchor="end" fill="#222">10<tspan font-size="3.5" dy="-2">5</tspan></text>
<line x1="161.5" y1="427" x2="164" y2="427" stroke="#555" stroke-width="0.9"/>
<text x="160.7" y="428.7" font-size="5" text-anchor="end" fill="#222">10<tspan font-size="3.5" dy="-2">4</tspan></text>
<line x1="161.5" y1="453" x2="164" y2="453" stroke="#555" stroke-width="0.9"/>
<text x="160.7" y="454.7" font-size="5" text-anchor="end" fill="#222">10<tspan font-size="3.5" dy="-2">3</tspan></text>
<line x1="161.5" y1="470" x2="164" y2="470" stroke="#555" stroke-width="0.9"/>
<text x="160.7" y="471.7" font-size="5" text-anchor="end" fill="#222">0</text>
<line x1="161.5" y1="485" x2="164" y2="485" stroke="#555" stroke-width="0.9"/>
<text x="160.7" y="486.7" font-size="5" text-anchor="end" fill="#222">-10<tspan font-size="3.5" dy="-2">3</tspan></text>
<line x1="162.6" y1="412" x2="164" y2="412" stroke="#555" stroke-width="0.7"/>
<line x1="162.6" y1="416" x2="164" y2="416" stroke="#555" stroke-width="0.7"/>
<line x1="162.6" y1="419" x2="164" y2="419" stroke="#555" stroke-width="0.7"/>
<line x1="162.6" y1="421" x2="164" y2="421" stroke="#555" stroke-width="0.7"/>
<line x1="162.6" y1="423" x2="164" y2="423" stroke="#555" stroke-width="0.7"/>
<line x1="162.6" y1="424.5" x2="164" y2="424.5" stroke="#555" stroke-width="0.7"/>
<line x1="162.6" y1="437" x2="164" y2="437" stroke="#555" stroke-width="0.7"/>
<line x1="162.6" y1="441" x2="164" y2="441" stroke="#555" stroke-width="0.7"/>
<line x1="162.6" y1="444" x2="164" y2="444" stroke="#555" stroke-width="0.7"/>
<line x1="162.6" y1="446" x2="164" y2="446" stroke="#555" stroke-width="0.7"/>
<line x1="162.6" y1="448" x2="164" y2="448" stroke="#555" stroke-width="0.7"/>
<line x1="162.6" y1="449.5" x2="164" y2="449.5" stroke="#555" stroke-width="0.7"/>
<line x1="162.6" y1="451" x2="164" y2="451" stroke="#555" stroke-width="0.7"/>
<line x1="162.6" y1="458" x2="164" y2="458" stroke="#555" stroke-width="0.7"/>
<line x1="162.6" y1="464" x2="164" y2="464" stroke="#555" stroke-width="0.7"/>
<line x1="162.6" y1="476" x2="164" y2="476" stroke="#555" stroke-width="0.7"/>
<line x1="162.6" y1="480" x2="164" y2="480" stroke="#555" stroke-width="0.7"/>
<rect x="162.2" y="468.5" width="1.8" height="3" fill="#111"/>
<clipPath id="c32"><rect x="284.5" y="394" width="99.6" height="98.3"/></clipPath>
<g clip-path="url(#c32)">
<g filter="url(#d3)"><polygon opacity="0.45" points="314,397 324,397 345,402 340,410 324,411 314,411" fill="#2a2af0"/></g>
<g filter="url(#s4)"><polygon opacity="0.08" points="316,398 370,398 370,415 316,415" fill="#6a6aee"/></g>
<g filter="url(#s4)"><polygon opacity="0.16" points="316,418 352,418 356,450 338,480 316,484" fill="#6a6aee"/></g>
<g filter="url(#d3)"><polygon opacity="0.38" points="304,408 320,408 326,425 328,450 322,476 312,482 305,470" fill="#2a2af0"/></g>
<g filter="url(#d1)"><ellipse cx="310" cy="405" rx="6.5" ry="5.5" fill="#2020f2"/></g>
<g filter="url(#d1)"><ellipse cx="309.8" cy="402.3" rx="6.8" ry="6.5" fill="#2020f2"/></g>
<g filter="url(#e1)"><ellipse cx="309.8" cy="402.3" rx="4.8" ry="4.6" fill="#3fd6ee"/></g>
<g filter="url(#d1)"><ellipse cx="309.8" cy="402.3" rx="2.9" ry="2.8" fill="#8ee83a"/></g>
<ellipse cx="309.8" cy="402.3" rx="1.4" ry="1.4" fill="#f2ea1a" filter="url(#b05)"/>
</g>
<rect x="284.5" y="394" width="99.6" height="98.3" fill="none" stroke="#8a8a8a" stroke-width="1.3"/>
<line x1="289.5" y1="492.3" x2="289.5" y2="494.8" stroke="#555" stroke-width="0.9"/>
<text x="289.1" y="502.3" font-size="5" text-anchor="middle" fill="#222">-10<tspan font-size="3.5" dy="-2">3</tspan></text>
<line x1="308" y1="492.3" x2="308" y2="494.8" stroke="#555" stroke-width="0.9"/>
<text x="306.8" y="502.3" font-size="5" text-anchor="middle" fill="#222">0</text>
<line x1="322" y1="492.3" x2="322" y2="494.8" stroke="#555" stroke-width="0.9"/>
<text x="321.6" y="502.3" font-size="5" text-anchor="middle" fill="#222">10<tspan font-size="3.5" dy="-2">3</tspan></text>
<line x1="348.5" y1="492.3" x2="348.5" y2="494.8" stroke="#555" stroke-width="0.9"/>
<text x="348.1" y="502.3" font-size="5" text-anchor="middle" fill="#222">10<tspan font-size="3.5" dy="-2">4</tspan></text>
<line x1="372" y1="492.3" x2="372" y2="494.8" stroke="#555" stroke-width="0.9"/>
<text x="371.6" y="502.3" font-size="5" text-anchor="middle" fill="#222">10<tspan font-size="3.5" dy="-2">5</tspan></text>
<line x1="294.5" y1="492.3" x2="294.5" y2="493.7" stroke="#555" stroke-width="0.7"/>
<line x1="298.5" y1="492.3" x2="298.5" y2="493.7" stroke="#555" stroke-width="0.7"/>
<line x1="314.5" y1="492.3" x2="314.5" y2="493.7" stroke="#555" stroke-width="0.7"/>
<line x1="329.5" y1="492.3" x2="329.5" y2="493.7" stroke="#555" stroke-width="0.7"/>
<line x1="333.5" y1="492.3" x2="333.5" y2="493.7" stroke="#555" stroke-width="0.7"/>
<line x1="336.5" y1="492.3" x2="336.5" y2="493.7" stroke="#555" stroke-width="0.7"/>
<line x1="339.5" y1="492.3" x2="339.5" y2="493.7" stroke="#555" stroke-width="0.7"/>
<line x1="341.5" y1="492.3" x2="341.5" y2="493.7" stroke="#555" stroke-width="0.7"/>
<line x1="343.5" y1="492.3" x2="343.5" y2="493.7" stroke="#555" stroke-width="0.7"/>
<line x1="345.5" y1="492.3" x2="345.5" y2="493.7" stroke="#555" stroke-width="0.7"/>
<line x1="347" y1="492.3" x2="347" y2="493.7" stroke="#555" stroke-width="0.7"/>
<line x1="356.5" y1="492.3" x2="356.5" y2="493.7" stroke="#555" stroke-width="0.7"/>
<line x1="360.5" y1="492.3" x2="360.5" y2="493.7" stroke="#555" stroke-width="0.7"/>
<line x1="363.5" y1="492.3" x2="363.5" y2="493.7" stroke="#555" stroke-width="0.7"/>
<line x1="365.5" y1="492.3" x2="365.5" y2="493.7" stroke="#555" stroke-width="0.7"/>
<line x1="367.5" y1="492.3" x2="367.5" y2="493.7" stroke="#555" stroke-width="0.7"/>
<line x1="369" y1="492.3" x2="369" y2="493.7" stroke="#555" stroke-width="0.7"/>
<line x1="370.5" y1="492.3" x2="370.5" y2="493.7" stroke="#555" stroke-width="0.7"/>
<rect x="303.3" y="492.6" width="4.5" height="1.8" fill="#111"/>
<line x1="282" y1="403" x2="284.5" y2="403" stroke="#555" stroke-width="0.9"/>
<text x="281.2" y="404.7" font-size="5" text-anchor="end" fill="#222">10<tspan font-size="3.5" dy="-2">5</tspan></text>
<line x1="282" y1="427" x2="284.5" y2="427" stroke="#555" stroke-width="0.9"/>
<text x="281.2" y="428.7" font-size="5" text-anchor="end" fill="#222">10<tspan font-size="3.5" dy="-2">4</tspan></text>
<line x1="282" y1="453" x2="284.5" y2="453" stroke="#555" stroke-width="0.9"/>
<text x="281.2" y="454.7" font-size="5" text-anchor="end" fill="#222">10<tspan font-size="3.5" dy="-2">3</tspan></text>
<line x1="282" y1="470" x2="284.5" y2="470" stroke="#555" stroke-width="0.9"/>
<text x="281.2" y="471.7" font-size="5" text-anchor="end" fill="#222">0</text>
<line x1="282" y1="485" x2="284.5" y2="485" stroke="#555" stroke-width="0.9"/>
<text x="281.2" y="486.7" font-size="5" text-anchor="end" fill="#222">-10<tspan font-size="3.5" dy="-2">3</tspan></text>
<line x1="283.1" y1="412" x2="284.5" y2="412" stroke="#555" stroke-width="0.7"/>
<line x1="283.1" y1="416" x2="284.5" y2="416" stroke="#555" stroke-width="0.7"/>
<line x1="283.1" y1="419" x2="284.5" y2="419" stroke="#555" stroke-width="0.7"/>
<line x1="283.1" y1="421" x2="284.5" y2="421" stroke="#555" stroke-width="0.7"/>
<line x1="283.1" y1="423" x2="284.5" y2="423" stroke="#555" stroke-width="0.7"/>
<line x1="283.1" y1="424.5" x2="284.5" y2="424.5" stroke="#555" stroke-width="0.7"/>
<line x1="283.1" y1="437" x2="284.5" y2="437" stroke="#555" stroke-width="0.7"/>
<line x1="283.1" y1="441" x2="284.5" y2="441" stroke="#555" stroke-width="0.7"/>
<line x1="283.1" y1="444" x2="284.5" y2="444" stroke="#555" stroke-width="0.7"/>
<line x1="283.1" y1="446" x2="284.5" y2="446" stroke="#555" stroke-width="0.7"/>
<line x1="283.1" y1="448" x2="284.5" y2="448" stroke="#555" stroke-width="0.7"/>
<line x1="283.1" y1="449.5" x2="284.5" y2="449.5" stroke="#555" stroke-width="0.7"/>
<line x1="283.1" y1="451" x2="284.5" y2="451" stroke="#555" stroke-width="0.7"/>
<line x1="283.1" y1="458" x2="284.5" y2="458" stroke="#555" stroke-width="0.7"/>
<line x1="283.1" y1="464" x2="284.5" y2="464" stroke="#555" stroke-width="0.7"/>
<line x1="283.1" y1="476" x2="284.5" y2="476" stroke="#555" stroke-width="0.7"/>
<line x1="283.1" y1="480" x2="284.5" y2="480" stroke="#555" stroke-width="0.7"/>
<rect x="282.7" y="468.5" width="1.8" height="3" fill="#111"/>
<clipPath id="c33"><rect x="405.8" y="394" width="99.2" height="98.3"/></clipPath>
<g clip-path="url(#c33)">
<g filter="url(#s4)"><polygon opacity="0.14" points="428,396 480,398 485,420 428,420" fill="#6a6aee"/></g>
<g filter="url(#d3)"><polygon opacity="0.6" points="429,397 440,396 455,399 468,405 462,416 445,419 432,419 429,410" fill="#2a2af0"/></g>
<g filter="url(#d2)"><polygon opacity="0.95" points="429,397 440,396 450,400 452,410 445,416 432,417 429,410" fill="#2020f2"/></g>
<g filter="url(#s4)"><polygon opacity="0.16" points="428,420 470,420 478,445 460,470 438,478 430,460" fill="#6a6aee"/></g>
<g filter="url(#d3)"><polygon opacity="0.42" points="430.8,420 445,420 460,424 460,440 454,456 445,466 438,470 432,460 430,440" fill="#2a2af0"/></g>
<g filter="url(#e2)"><ellipse cx="439" cy="404.5" rx="7.5" ry="5.2" fill="#3fd6ee" fill-opacity="0.9"/></g>
<g filter="url(#d1)"><ellipse cx="432.6" cy="403.8" rx="4.2" ry="4.8" fill="#8ee83a"/></g>
<g filter="url(#e1)"><ellipse cx="432.3" cy="403.6" rx="2.6" ry="2.8" fill="#f2ea1a"/></g>
<ellipse cx="432.3" cy="403.6" rx="1.2" ry="1.2" fill="#c04008" filter="url(#b05)"/>
</g>
<rect x="405.8" y="394" width="99.2" height="98.3" fill="none" stroke="#8a8a8a" stroke-width="1.3"/>
<line x1="410.8" y1="492.3" x2="410.8" y2="494.8" stroke="#555" stroke-width="0.9"/>
<text x="410.4" y="502.3" font-size="5" text-anchor="middle" fill="#222">-10<tspan font-size="3.5" dy="-2">3</tspan></text>
<line x1="429.3" y1="492.3" x2="429.3" y2="494.8" stroke="#555" stroke-width="0.9"/>
<text x="428.1" y="502.3" font-size="5" text-anchor="middle" fill="#222">0</text>
<line x1="443.3" y1="492.3" x2="443.3" y2="494.8" stroke="#555" stroke-width="0.9"/>
<text x="442.9" y="502.3" font-size="5" text-anchor="middle" fill="#222">10<tspan font-size="3.5" dy="-2">3</tspan></text>
<line x1="469.8" y1="492.3" x2="469.8" y2="494.8" stroke="#555" stroke-width="0.9"/>
<text x="469.4" y="502.3" font-size="5" text-anchor="middle" fill="#222">10<tspan font-size="3.5" dy="-2">4</tspan></text>
<line x1="493.3" y1="492.3" x2="493.3" y2="494.8" stroke="#555" stroke-width="0.9"/>
<text x="492.9" y="502.3" font-size="5" text-anchor="middle" fill="#222">10<tspan font-size="3.5" dy="-2">5</tspan></text>
<line x1="415.8" y1="492.3" x2="415.8" y2="493.7" stroke="#555" stroke-width="0.7"/>
<line x1="419.8" y1="492.3" x2="419.8" y2="493.7" stroke="#555" stroke-width="0.7"/>
<line x1="435.8" y1="492.3" x2="435.8" y2="493.7" stroke="#555" stroke-width="0.7"/>
<line x1="450.8" y1="492.3" x2="450.8" y2="493.7" stroke="#555" stroke-width="0.7"/>
<line x1="454.8" y1="492.3" x2="454.8" y2="493.7" stroke="#555" stroke-width="0.7"/>
<line x1="457.8" y1="492.3" x2="457.8" y2="493.7" stroke="#555" stroke-width="0.7"/>
<line x1="460.8" y1="492.3" x2="460.8" y2="493.7" stroke="#555" stroke-width="0.7"/>
<line x1="462.8" y1="492.3" x2="462.8" y2="493.7" stroke="#555" stroke-width="0.7"/>
<line x1="464.8" y1="492.3" x2="464.8" y2="493.7" stroke="#555" stroke-width="0.7"/>
<line x1="466.8" y1="492.3" x2="466.8" y2="493.7" stroke="#555" stroke-width="0.7"/>
<line x1="468.3" y1="492.3" x2="468.3" y2="493.7" stroke="#555" stroke-width="0.7"/>
<line x1="477.8" y1="492.3" x2="477.8" y2="493.7" stroke="#555" stroke-width="0.7"/>
<line x1="481.8" y1="492.3" x2="481.8" y2="493.7" stroke="#555" stroke-width="0.7"/>
<line x1="484.8" y1="492.3" x2="484.8" y2="493.7" stroke="#555" stroke-width="0.7"/>
<line x1="486.8" y1="492.3" x2="486.8" y2="493.7" stroke="#555" stroke-width="0.7"/>
<line x1="488.8" y1="492.3" x2="488.8" y2="493.7" stroke="#555" stroke-width="0.7"/>
<line x1="490.3" y1="492.3" x2="490.3" y2="493.7" stroke="#555" stroke-width="0.7"/>
<line x1="491.8" y1="492.3" x2="491.8" y2="493.7" stroke="#555" stroke-width="0.7"/>
<rect x="424.6" y="492.6" width="4.5" height="1.8" fill="#111"/>
<line x1="403.3" y1="403" x2="405.8" y2="403" stroke="#555" stroke-width="0.9"/>
<text x="402.5" y="404.7" font-size="5" text-anchor="end" fill="#222">10<tspan font-size="3.5" dy="-2">5</tspan></text>
<line x1="403.3" y1="427" x2="405.8" y2="427" stroke="#555" stroke-width="0.9"/>
<text x="402.5" y="428.7" font-size="5" text-anchor="end" fill="#222">10<tspan font-size="3.5" dy="-2">4</tspan></text>
<line x1="403.3" y1="453" x2="405.8" y2="453" stroke="#555" stroke-width="0.9"/>
<text x="402.5" y="454.7" font-size="5" text-anchor="end" fill="#222">10<tspan font-size="3.5" dy="-2">3</tspan></text>
<line x1="403.3" y1="470" x2="405.8" y2="470" stroke="#555" stroke-width="0.9"/>
<text x="402.5" y="471.7" font-size="5" text-anchor="end" fill="#222">0</text>
<line x1="403.3" y1="485" x2="405.8" y2="485" stroke="#555" stroke-width="0.9"/>
<text x="402.5" y="486.7" font-size="5" text-anchor="end" fill="#222">-10<tspan font-size="3.5" dy="-2">3</tspan></text>
<line x1="404.4" y1="412" x2="405.8" y2="412" stroke="#555" stroke-width="0.7"/>
<line x1="404.4" y1="416" x2="405.8" y2="416" stroke="#555" stroke-width="0.7"/>
<line x1="404.4" y1="419" x2="405.8" y2="419" stroke="#555" stroke-width="0.7"/>
<line x1="404.4" y1="421" x2="405.8" y2="421" stroke="#555" stroke-width="0.7"/>
<line x1="404.4" y1="423" x2="405.8" y2="423" stroke="#555" stroke-width="0.7"/>
<line x1="404.4" y1="424.5" x2="405.8" y2="424.5" stroke="#555" stroke-width="0.7"/>
<line x1="404.4" y1="437" x2="405.8" y2="437" stroke="#555" stroke-width="0.7"/>
<line x1="404.4" y1="441" x2="405.8" y2="441" stroke="#555" stroke-width="0.7"/>
<line x1="404.4" y1="444" x2="405.8" y2="444" stroke="#555" stroke-width="0.7"/>
<line x1="404.4" y1="446" x2="405.8" y2="446" stroke="#555" stroke-width="0.7"/>
<line x1="404.4" y1="448" x2="405.8" y2="448" stroke="#555" stroke-width="0.7"/>
<line x1="404.4" y1="449.5" x2="405.8" y2="449.5" stroke="#555" stroke-width="0.7"/>
<line x1="404.4" y1="451" x2="405.8" y2="451" stroke="#555" stroke-width="0.7"/>
<line x1="404.4" y1="458" x2="405.8" y2="458" stroke="#555" stroke-width="0.7"/>
<line x1="404.4" y1="464" x2="405.8" y2="464" stroke="#555" stroke-width="0.7"/>
<line x1="404.4" y1="476" x2="405.8" y2="476" stroke="#555" stroke-width="0.7"/>
<line x1="404.4" y1="480" x2="405.8" y2="480" stroke="#555" stroke-width="0.7"/>
<rect x="404" y="468.5" width="1.8" height="3" fill="#111"/>
<clipPath id="c40"><rect x="43.6" y="520.9" width="99.7" height="97.5"/></clipPath>
<g clip-path="url(#c40)">
<g filter="url(#s4)"><polygon opacity="0.1" points="66,572 76,552 100,542 120,548 116,572 98,584 76,586" fill="#a8a8c0"/></g>
<g filter="url(#d3)"><ellipse cx="92" cy="564.5" rx="16" ry="9.5" fill="#6a6ad8" fill-opacity="0.5" transform="rotate(-28 92 564.5)"/></g>
<g filter="url(#d2)"><ellipse cx="92.5" cy="564" rx="9" ry="5.5" fill="#4848d0" fill-opacity="0.6" transform="rotate(-28 92.5 564)"/></g>
<g filter="url(#e1)"><ellipse cx="93" cy="563" rx="3" ry="2" fill="#70b8a0" fill-opacity="0.7"/></g>
</g>
<rect x="43.6" y="520.9" width="99.7" height="97.5" fill="none" stroke="#8a8a8a" stroke-width="1.3"/>
<line x1="48.6" y1="618.4" x2="48.6" y2="620.9" stroke="#555" stroke-width="0.9"/>
<text x="48.2" y="628.4" font-size="5" text-anchor="middle" fill="#222">-10<tspan font-size="3.5" dy="-2">3</tspan></text>
<line x1="67.1" y1="618.4" x2="67.1" y2="620.9" stroke="#555" stroke-width="0.9"/>
<text x="65.9" y="628.4" font-size="5" text-anchor="middle" fill="#222">0</text>
<line x1="81.1" y1="618.4" x2="81.1" y2="620.9" stroke="#555" stroke-width="0.9"/>
<text x="80.7" y="628.4" font-size="5" text-anchor="middle" fill="#222">10<tspan font-size="3.5" dy="-2">3</tspan></text>
<line x1="107.6" y1="618.4" x2="107.6" y2="620.9" stroke="#555" stroke-width="0.9"/>
<text x="107.2" y="628.4" font-size="5" text-anchor="middle" fill="#222">10<tspan font-size="3.5" dy="-2">4</tspan></text>
<line x1="131.1" y1="618.4" x2="131.1" y2="620.9" stroke="#555" stroke-width="0.9"/>
<text x="130.7" y="628.4" font-size="5" text-anchor="middle" fill="#222">10<tspan font-size="3.5" dy="-2">5</tspan></text>
<line x1="53.6" y1="618.4" x2="53.6" y2="619.8" stroke="#555" stroke-width="0.7"/>
<line x1="57.6" y1="618.4" x2="57.6" y2="619.8" stroke="#555" stroke-width="0.7"/>
<line x1="73.6" y1="618.4" x2="73.6" y2="619.8" stroke="#555" stroke-width="0.7"/>
<line x1="88.6" y1="618.4" x2="88.6" y2="619.8" stroke="#555" stroke-width="0.7"/>
<line x1="92.6" y1="618.4" x2="92.6" y2="619.8" stroke="#555" stroke-width="0.7"/>
<line x1="95.6" y1="618.4" x2="95.6" y2="619.8" stroke="#555" stroke-width="0.7"/>
<line x1="98.6" y1="618.4" x2="98.6" y2="619.8" stroke="#555" stroke-width="0.7"/>
<line x1="100.6" y1="618.4" x2="100.6" y2="619.8" stroke="#555" stroke-width="0.7"/>
<line x1="102.6" y1="618.4" x2="102.6" y2="619.8" stroke="#555" stroke-width="0.7"/>
<line x1="104.6" y1="618.4" x2="104.6" y2="619.8" stroke="#555" stroke-width="0.7"/>
<line x1="106.1" y1="618.4" x2="106.1" y2="619.8" stroke="#555" stroke-width="0.7"/>
<line x1="115.6" y1="618.4" x2="115.6" y2="619.8" stroke="#555" stroke-width="0.7"/>
<line x1="119.6" y1="618.4" x2="119.6" y2="619.8" stroke="#555" stroke-width="0.7"/>
<line x1="122.6" y1="618.4" x2="122.6" y2="619.8" stroke="#555" stroke-width="0.7"/>
<line x1="124.6" y1="618.4" x2="124.6" y2="619.8" stroke="#555" stroke-width="0.7"/>
<line x1="126.6" y1="618.4" x2="126.6" y2="619.8" stroke="#555" stroke-width="0.7"/>
<line x1="128.1" y1="618.4" x2="128.1" y2="619.8" stroke="#555" stroke-width="0.7"/>
<line x1="129.6" y1="618.4" x2="129.6" y2="619.8" stroke="#555" stroke-width="0.7"/>
<rect x="62.4" y="618.7" width="4.5" height="1.8" fill="#111"/>
<line x1="41.1" y1="529.9" x2="43.6" y2="529.9" stroke="#555" stroke-width="0.9"/>
<text x="40.3" y="531.6" font-size="5" text-anchor="end" fill="#222">10<tspan font-size="3.5" dy="-2">5</tspan></text>
<line x1="41.1" y1="553.9" x2="43.6" y2="553.9" stroke="#555" stroke-width="0.9"/>
<text x="40.3" y="555.6" font-size="5" text-anchor="end" fill="#222">10<tspan font-size="3.5" dy="-2">4</tspan></text>
<line x1="41.1" y1="579.9" x2="43.6" y2="579.9" stroke="#555" stroke-width="0.9"/>
<text x="40.3" y="581.6" font-size="5" text-anchor="end" fill="#222">10<tspan font-size="3.5" dy="-2">3</tspan></text>
<line x1="41.1" y1="596.9" x2="43.6" y2="596.9" stroke="#555" stroke-width="0.9"/>
<text x="40.3" y="598.6" font-size="5" text-anchor="end" fill="#222">0</text>
<line x1="41.1" y1="611.9" x2="43.6" y2="611.9" stroke="#555" stroke-width="0.9"/>
<text x="40.3" y="613.6" font-size="5" text-anchor="end" fill="#222">-10<tspan font-size="3.5" dy="-2">3</tspan></text>
<line x1="42.2" y1="538.9" x2="43.6" y2="538.9" stroke="#555" stroke-width="0.7"/>
<line x1="42.2" y1="542.9" x2="43.6" y2="542.9" stroke="#555" stroke-width="0.7"/>
<line x1="42.2" y1="545.9" x2="43.6" y2="545.9" stroke="#555" stroke-width="0.7"/>
<line x1="42.2" y1="547.9" x2="43.6" y2="547.9" stroke="#555" stroke-width="0.7"/>
<line x1="42.2" y1="549.9" x2="43.6" y2="549.9" stroke="#555" stroke-width="0.7"/>
<line x1="42.2" y1="551.4" x2="43.6" y2="551.4" stroke="#555" stroke-width="0.7"/>
<line x1="42.2" y1="563.9" x2="43.6" y2="563.9" stroke="#555" stroke-width="0.7"/>
<line x1="42.2" y1="567.9" x2="43.6" y2="567.9" stroke="#555" stroke-width="0.7"/>
<line x1="42.2" y1="570.9" x2="43.6" y2="570.9" stroke="#555" stroke-width="0.7"/>
<line x1="42.2" y1="572.9" x2="43.6" y2="572.9" stroke="#555" stroke-width="0.7"/>
<line x1="42.2" y1="574.9" x2="43.6" y2="574.9" stroke="#555" stroke-width="0.7"/>
<line x1="42.2" y1="576.4" x2="43.6" y2="576.4" stroke="#555" stroke-width="0.7"/>
<line x1="42.2" y1="577.9" x2="43.6" y2="577.9" stroke="#555" stroke-width="0.7"/>
<line x1="42.2" y1="584.9" x2="43.6" y2="584.9" stroke="#555" stroke-width="0.7"/>
<line x1="42.2" y1="590.9" x2="43.6" y2="590.9" stroke="#555" stroke-width="0.7"/>
<line x1="42.2" y1="602.9" x2="43.6" y2="602.9" stroke="#555" stroke-width="0.7"/>
<line x1="42.2" y1="606.9" x2="43.6" y2="606.9" stroke="#555" stroke-width="0.7"/>
<rect x="41.8" y="595.4" width="1.8" height="3" fill="#111"/>
<clipPath id="c41"><rect x="163.8" y="520.9" width="99.8" height="97.5"/></clipPath>
<g clip-path="url(#c41)">
<g filter="url(#s4)"><polygon opacity="0.09" points="172,575 190,556 215,548 250,536 254,546 230,566 224,592 210,604 186,600" fill="#6a6aee"/></g>
<g filter="url(#d3)"><polygon opacity="0.6" points="178,573 190,563 205,556 218,553 226,560 223,575 216,588 209,598 196,597 185,587" fill="#2a2af0" stroke="#2a2af0" stroke-width="2" stroke-linejoin="round"/></g>
<g filter="url(#d2)"><polygon opacity="0.95" points="188,570 199,562 210,558 218,560 219,572 213,582 207,590 198,584 191,578" fill="#2020f2"/></g>
<g filter="url(#e2)"><ellipse cx="207" cy="569.5" rx="11.5" ry="9.5" fill="#3fd6ee" transform="rotate(-15 207 569.5)"/></g>
<g filter="url(#d1)"><ellipse cx="207" cy="569.5" rx="8.5" ry="7.2" fill="#8ee83a" transform="rotate(-15 207 569.5)"/></g>
<g filter="url(#e1)"><ellipse cx="207.4" cy="568.9" rx="5" ry="4.2" fill="#f2ea1a"/></g>
<g filter="url(#d1)"><ellipse cx="207.6" cy="568.6" rx="3" ry="2.5" fill="#f08010"/></g>
<ellipse cx="207.6" cy="568.6" rx="1.5" ry="1.3" fill="#b82a05" filter="url(#b05)"/>
</g>
<rect x="163.8" y="520.9" width="99.8" height="97.5" fill="none" stroke="#8a8a8a" stroke-width="1.3"/>
<line x1="168.8" y1="618.4" x2="168.8" y2="620.9" stroke="#555" stroke-width="0.9"/>
<text x="168.4" y="628.4" font-size="5" text-anchor="middle" fill="#222">-10<tspan font-size="3.5" dy="-2">3</tspan></text>
<line x1="187.3" y1="618.4" x2="187.3" y2="620.9" stroke="#555" stroke-width="0.9"/>
<text x="186.1" y="628.4" font-size="5" text-anchor="middle" fill="#222">0</text>
<line x1="201.3" y1="618.4" x2="201.3" y2="620.9" stroke="#555" stroke-width="0.9"/>
<text x="200.9" y="628.4" font-size="5" text-anchor="middle" fill="#222">10<tspan font-size="3.5" dy="-2">3</tspan></text>
<line x1="227.8" y1="618.4" x2="227.8" y2="620.9" stroke="#555" stroke-width="0.9"/>
<text x="227.4" y="628.4" font-size="5" text-anchor="middle" fill="#222">10<tspan font-size="3.5" dy="-2">4</tspan></text>
<line x1="251.3" y1="618.4" x2="251.3" y2="620.9" stroke="#555" stroke-width="0.9"/>
<text x="250.9" y="628.4" font-size="5" text-anchor="middle" fill="#222">10<tspan font-size="3.5" dy="-2">5</tspan></text>
<line x1="173.8" y1="618.4" x2="173.8" y2="619.8" stroke="#555" stroke-width="0.7"/>
<line x1="177.8" y1="618.4" x2="177.8" y2="619.8" stroke="#555" stroke-width="0.7"/>
<line x1="193.8" y1="618.4" x2="193.8" y2="619.8" stroke="#555" stroke-width="0.7"/>
<line x1="208.8" y1="618.4" x2="208.8" y2="619.8" stroke="#555" stroke-width="0.7"/>
<line x1="212.8" y1="618.4" x2="212.8" y2="619.8" stroke="#555" stroke-width="0.7"/>
<line x1="215.8" y1="618.4" x2="215.8" y2="619.8" stroke="#555" stroke-width="0.7"/>
<line x1="218.8" y1="618.4" x2="218.8" y2="619.8" stroke="#555" stroke-width="0.7"/>
<line x1="220.8" y1="618.4" x2="220.8" y2="619.8" stroke="#555" stroke-width="0.7"/>
<line x1="222.8" y1="618.4" x2="222.8" y2="619.8" stroke="#555" stroke-width="0.7"/>
<line x1="224.8" y1="618.4" x2="224.8" y2="619.8" stroke="#555" stroke-width="0.7"/>
<line x1="226.3" y1="618.4" x2="226.3" y2="619.8" stroke="#555" stroke-width="0.7"/>
<line x1="235.8" y1="618.4" x2="235.8" y2="619.8" stroke="#555" stroke-width="0.7"/>
<line x1="239.8" y1="618.4" x2="239.8" y2="619.8" stroke="#555" stroke-width="0.7"/>
<line x1="242.8" y1="618.4" x2="242.8" y2="619.8" stroke="#555" stroke-width="0.7"/>
<line x1="244.8" y1="618.4" x2="244.8" y2="619.8" stroke="#555" stroke-width="0.7"/>
<line x1="246.8" y1="618.4" x2="246.8" y2="619.8" stroke="#555" stroke-width="0.7"/>
<line x1="248.3" y1="618.4" x2="248.3" y2="619.8" stroke="#555" stroke-width="0.7"/>
<line x1="249.8" y1="618.4" x2="249.8" y2="619.8" stroke="#555" stroke-width="0.7"/>
<rect x="182.6" y="618.7" width="4.5" height="1.8" fill="#111"/>
<line x1="161.3" y1="529.9" x2="163.8" y2="529.9" stroke="#555" stroke-width="0.9"/>
<text x="160.5" y="531.6" font-size="5" text-anchor="end" fill="#222">10<tspan font-size="3.5" dy="-2">5</tspan></text>
<line x1="161.3" y1="553.9" x2="163.8" y2="553.9" stroke="#555" stroke-width="0.9"/>
<text x="160.5" y="555.6" font-size="5" text-anchor="end" fill="#222">10<tspan font-size="3.5" dy="-2">4</tspan></text>
<line x1="161.3" y1="579.9" x2="163.8" y2="579.9" stroke="#555" stroke-width="0.9"/>
<text x="160.5" y="581.6" font-size="5" text-anchor="end" fill="#222">10<tspan font-size="3.5" dy="-2">3</tspan></text>
<line x1="161.3" y1="596.9" x2="163.8" y2="596.9" stroke="#555" stroke-width="0.9"/>
<text x="160.5" y="598.6" font-size="5" text-anchor="end" fill="#222">0</text>
<line x1="161.3" y1="611.9" x2="163.8" y2="611.9" stroke="#555" stroke-width="0.9"/>
<text x="160.5" y="613.6" font-size="5" text-anchor="end" fill="#222">-10<tspan font-size="3.5" dy="-2">3</tspan></text>
<line x1="162.4" y1="538.9" x2="163.8" y2="538.9" stroke="#555" stroke-width="0.7"/>
<line x1="162.4" y1="542.9" x2="163.8" y2="542.9" stroke="#555" stroke-width="0.7"/>
<line x1="162.4" y1="545.9" x2="163.8" y2="545.9" stroke="#555" stroke-width="0.7"/>
<line x1="162.4" y1="547.9" x2="163.8" y2="547.9" stroke="#555" stroke-width="0.7"/>
<line x1="162.4" y1="549.9" x2="163.8" y2="549.9" stroke="#555" stroke-width="0.7"/>
<line x1="162.4" y1="551.4" x2="163.8" y2="551.4" stroke="#555" stroke-width="0.7"/>
<line x1="162.4" y1="563.9" x2="163.8" y2="563.9" stroke="#555" stroke-width="0.7"/>
<line x1="162.4" y1="567.9" x2="163.8" y2="567.9" stroke="#555" stroke-width="0.7"/>
<line x1="162.4" y1="570.9" x2="163.8" y2="570.9" stroke="#555" stroke-width="0.7"/>
<line x1="162.4" y1="572.9" x2="163.8" y2="572.9" stroke="#555" stroke-width="0.7"/>
<line x1="162.4" y1="574.9" x2="163.8" y2="574.9" stroke="#555" stroke-width="0.7"/>
<line x1="162.4" y1="576.4" x2="163.8" y2="576.4" stroke="#555" stroke-width="0.7"/>
<line x1="162.4" y1="577.9" x2="163.8" y2="577.9" stroke="#555" stroke-width="0.7"/>
<line x1="162.4" y1="584.9" x2="163.8" y2="584.9" stroke="#555" stroke-width="0.7"/>
<line x1="162.4" y1="590.9" x2="163.8" y2="590.9" stroke="#555" stroke-width="0.7"/>
<line x1="162.4" y1="602.9" x2="163.8" y2="602.9" stroke="#555" stroke-width="0.7"/>
<line x1="162.4" y1="606.9" x2="163.8" y2="606.9" stroke="#555" stroke-width="0.7"/>
<rect x="162" y="595.4" width="1.8" height="3" fill="#111"/>
<clipPath id="c42"><rect x="284.6" y="520.9" width="99.8" height="97.5"/></clipPath>
<g clip-path="url(#c42)">
<g filter="url(#s4)"><polygon opacity="0.09" points="286,562 300,550 345,546 358,556 340,574 330,594 300,596 288,578" fill="#6a6aee"/></g>
<g filter="url(#d3)"><polygon opacity="0.75" points="289,564.3 295,558 312.7,555 331.2,553 344.1,551 350.5,556.9 348.5,565 340.4,570 325.6,575 312.7,575 296.1,571" fill="#2a2af0" stroke="#2a2af0" stroke-width="3" stroke-linejoin="round"/></g>
<g filter="url(#d2)"><polygon points="292,564 299,559.5 313,557.5 331,555.5 343,554 347,558 345,564 338,567.5 325,572 312,572 297,569" fill="#2020f2"/></g>
<g filter="url(#e2)"><ellipse cx="325" cy="563" rx="19.5" ry="6.8" fill="#3fd6ee" transform="rotate(-6 325 563)"/></g>
<g filter="url(#d1)"><ellipse cx="326" cy="563" rx="14.5" ry="5.2" fill="#8ee83a" transform="rotate(-6 326 563)"/></g>
<g filter="url(#e1)"><ellipse cx="329" cy="562.8" rx="7.5" ry="3.4" fill="#f2ea1a" transform="rotate(-6 329 562.8)"/></g>
<g filter="url(#d1)"><ellipse cx="329.3" cy="562.8" rx="4.8" ry="2.3" fill="#f08010" transform="rotate(-6 329.3 562.8)"/></g>
<ellipse cx="329.3" cy="562.8" rx="2.6" ry="1.3" fill="#b82a05" transform="rotate(-6 329.3 562.8)" filter="url(#b05)"/>
</g>
<rect x="284.6" y="520.9" width="99.8" height="97.5" fill="none" stroke="#8a8a8a" stroke-width="1.3"/>
<line x1="289.6" y1="618.4" x2="289.6" y2="620.9" stroke="#555" stroke-width="0.9"/>
<text x="289.2" y="628.4" font-size="5" text-anchor="middle" fill="#222">-10<tspan font-size="3.5" dy="-2">3</tspan></text>
<line x1="308.1" y1="618.4" x2="308.1" y2="620.9" stroke="#555" stroke-width="0.9"/>
<text x="306.9" y="628.4" font-size="5" text-anchor="middle" fill="#222">0</text>
<line x1="322.1" y1="618.4" x2="322.1" y2="620.9" stroke="#555" stroke-width="0.9"/>
<text x="321.7" y="628.4" font-size="5" text-anchor="middle" fill="#222">10<tspan font-size="3.5" dy="-2">3</tspan></text>
<line x1="348.6" y1="618.4" x2="348.6" y2="620.9" stroke="#555" stroke-width="0.9"/>
<text x="348.2" y="628.4" font-size="5" text-anchor="middle" fill="#222">10<tspan font-size="3.5" dy="-2">4</tspan></text>
<line x1="372.1" y1="618.4" x2="372.1" y2="620.9" stroke="#555" stroke-width="0.9"/>
<text x="371.7" y="628.4" font-size="5" text-anchor="middle" fill="#222">10<tspan font-size="3.5" dy="-2">5</tspan></text>
<line x1="294.6" y1="618.4" x2="294.6" y2="619.8" stroke="#555" stroke-width="0.7"/>
<line x1="298.6" y1="618.4" x2="298.6" y2="619.8" stroke="#555" stroke-width="0.7"/>
<line x1="314.6" y1="618.4" x2="314.6" y2="619.8" stroke="#555" stroke-width="0.7"/>
<line x1="329.6" y1="618.4" x2="329.6" y2="619.8" stroke="#555" stroke-width="0.7"/>
<line x1="333.6" y1="618.4" x2="333.6" y2="619.8" stroke="#555" stroke-width="0.7"/>
<line x1="336.6" y1="618.4" x2="336.6" y2="619.8" stroke="#555" stroke-width="0.7"/>
<line x1="339.6" y1="618.4" x2="339.6" y2="619.8" stroke="#555" stroke-width="0.7"/>
<line x1="341.6" y1="618.4" x2="341.6" y2="619.8" stroke="#555" stroke-width="0.7"/>
<line x1="343.6" y1="618.4" x2="343.6" y2="619.8" stroke="#555" stroke-width="0.7"/>
<line x1="345.6" y1="618.4" x2="345.6" y2="619.8" stroke="#555" stroke-width="0.7"/>
<line x1="347.1" y1="618.4" x2="347.1" y2="619.8" stroke="#555" stroke-width="0.7"/>
<line x1="356.6" y1="618.4" x2="356.6" y2="619.8" stroke="#555" stroke-width="0.7"/>
<line x1="360.6" y1="618.4" x2="360.6" y2="619.8" stroke="#555" stroke-width="0.7"/>
<line x1="363.6" y1="618.4" x2="363.6" y2="619.8" stroke="#555" stroke-width="0.7"/>
<line x1="365.6" y1="618.4" x2="365.6" y2="619.8" stroke="#555" stroke-width="0.7"/>
<line x1="367.6" y1="618.4" x2="367.6" y2="619.8" stroke="#555" stroke-width="0.7"/>
<line x1="369.1" y1="618.4" x2="369.1" y2="619.8" stroke="#555" stroke-width="0.7"/>
<line x1="370.6" y1="618.4" x2="370.6" y2="619.8" stroke="#555" stroke-width="0.7"/>
<rect x="303.4" y="618.7" width="4.5" height="1.8" fill="#111"/>
<line x1="282.1" y1="529.9" x2="284.6" y2="529.9" stroke="#555" stroke-width="0.9"/>
<text x="281.3" y="531.6" font-size="5" text-anchor="end" fill="#222">10<tspan font-size="3.5" dy="-2">5</tspan></text>
<line x1="282.1" y1="553.9" x2="284.6" y2="553.9" stroke="#555" stroke-width="0.9"/>
<text x="281.3" y="555.6" font-size="5" text-anchor="end" fill="#222">10<tspan font-size="3.5" dy="-2">4</tspan></text>
<line x1="282.1" y1="579.9" x2="284.6" y2="579.9" stroke="#555" stroke-width="0.9"/>
<text x="281.3" y="581.6" font-size="5" text-anchor="end" fill="#222">10<tspan font-size="3.5" dy="-2">3</tspan></text>
<line x1="282.1" y1="596.9" x2="284.6" y2="596.9" stroke="#555" stroke-width="0.9"/>
<text x="281.3" y="598.6" font-size="5" text-anchor="end" fill="#222">0</text>
<line x1="282.1" y1="611.9" x2="284.6" y2="611.9" stroke="#555" stroke-width="0.9"/>
<text x="281.3" y="613.6" font-size="5" text-anchor="end" fill="#222">-10<tspan font-size="3.5" dy="-2">3</tspan></text>
<line x1="283.2" y1="538.9" x2="284.6" y2="538.9" stroke="#555" stroke-width="0.7"/>
<line x1="283.2" y1="542.9" x2="284.6" y2="542.9" stroke="#555" stroke-width="0.7"/>
<line x1="283.2" y1="545.9" x2="284.6" y2="545.9" stroke="#555" stroke-width="0.7"/>
<line x1="283.2" y1="547.9" x2="284.6" y2="547.9" stroke="#555" stroke-width="0.7"/>
<line x1="283.2" y1="549.9" x2="284.6" y2="549.9" stroke="#555" stroke-width="0.7"/>
<line x1="283.2" y1="551.4" x2="284.6" y2="551.4" stroke="#555" stroke-width="0.7"/>
<line x1="283.2" y1="563.9" x2="284.6" y2="563.9" stroke="#555" stroke-width="0.7"/>
<line x1="283.2" y1="567.9" x2="284.6" y2="567.9" stroke="#555" stroke-width="0.7"/>
<line x1="283.2" y1="570.9" x2="284.6" y2="570.9" stroke="#555" stroke-width="0.7"/>
<line x1="283.2" y1="572.9" x2="284.6" y2="572.9" stroke="#555" stroke-width="0.7"/>
<line x1="283.2" y1="574.9" x2="284.6" y2="574.9" stroke="#555" stroke-width="0.7"/>
<line x1="283.2" y1="576.4" x2="284.6" y2="576.4" stroke="#555" stroke-width="0.7"/>
<line x1="283.2" y1="577.9" x2="284.6" y2="577.9" stroke="#555" stroke-width="0.7"/>
<line x1="283.2" y1="584.9" x2="284.6" y2="584.9" stroke="#555" stroke-width="0.7"/>
<line x1="283.2" y1="590.9" x2="284.6" y2="590.9" stroke="#555" stroke-width="0.7"/>
<line x1="283.2" y1="602.9" x2="284.6" y2="602.9" stroke="#555" stroke-width="0.7"/>
<line x1="283.2" y1="606.9" x2="284.6" y2="606.9" stroke="#555" stroke-width="0.7"/>
<rect x="282.8" y="595.4" width="1.8" height="3" fill="#111"/>
<clipPath id="c43"><rect x="405.8" y="520.9" width="99.6" height="97.5"/></clipPath>
<g clip-path="url(#c43)">
<g filter="url(#s4)"><polygon opacity="0.09" points="412,572 428,556 452,552 478,538 482,548 460,566 450,596 436,606 418,590" fill="#6a6aee"/></g>
<g filter="url(#d3)"><polygon opacity="0.7" points="419,568 427,561.5 442.9,557.5 452.2,557.5 456,566.2 453,576 447.5,582 444,592 435.5,596 427,588 421,578" fill="#2a2af0" stroke="#2a2af0" stroke-width="3" stroke-linejoin="round"/></g>
<g filter="url(#d2)"><polygon points="424,568 432,562.5 443,560 451,560 453,567 450,575 445,580 441,588 434,587 427,579" fill="#2020f2"/></g>
<g filter="url(#e2)"><ellipse cx="441" cy="570.5" rx="11.5" ry="9" fill="#3fd6ee" transform="rotate(-10 441 570.5)"/></g>
<g filter="url(#d1)"><ellipse cx="441.5" cy="570" rx="8.5" ry="6.6" fill="#8ee83a" transform="rotate(-10 441.5 570)"/></g>
<g filter="url(#e1)"><ellipse cx="443.5" cy="569.5" rx="4.8" ry="3.5" fill="#f2ea1a"/></g>
<g filter="url(#d1)"><ellipse cx="443.8" cy="569.5" rx="3.1" ry="2.3" fill="#f08010"/></g>
<ellipse cx="443.8" cy="569.5" rx="1.6" ry="1.2" fill="#b82a05" filter="url(#b05)"/>
</g>
<rect x="405.8" y="520.9" width="99.6" height="97.5" fill="none" stroke="#8a8a8a" stroke-width="1.3"/>
<line x1="410.8" y1="618.4" x2="410.8" y2="620.9" stroke="#555" stroke-width="0.9"/>
<text x="410.4" y="628.4" font-size="5" text-anchor="middle" fill="#222">-10<tspan font-size="3.5" dy="-2">3</tspan></text>
<line x1="429.3" y1="618.4" x2="429.3" y2="620.9" stroke="#555" stroke-width="0.9"/>
<text x="428.1" y="628.4" font-size="5" text-anchor="middle" fill="#222">0</text>
<line x1="443.3" y1="618.4" x2="443.3" y2="620.9" stroke="#555" stroke-width="0.9"/>
<text x="442.9" y="628.4" font-size="5" text-anchor="middle" fill="#222">10<tspan font-size="3.5" dy="-2">3</tspan></text>
<line x1="469.8" y1="618.4" x2="469.8" y2="620.9" stroke="#555" stroke-width="0.9"/>
<text x="469.4" y="628.4" font-size="5" text-anchor="middle" fill="#222">10<tspan font-size="3.5" dy="-2">4</tspan></text>
<line x1="493.3" y1="618.4" x2="493.3" y2="620.9" stroke="#555" stroke-width="0.9"/>
<text x="492.9" y="628.4" font-size="5" text-anchor="middle" fill="#222">10<tspan font-size="3.5" dy="-2">5</tspan></text>
<line x1="415.8" y1="618.4" x2="415.8" y2="619.8" stroke="#555" stroke-width="0.7"/>
<line x1="419.8" y1="618.4" x2="419.8" y2="619.8" stroke="#555" stroke-width="0.7"/>
<line x1="435.8" y1="618.4" x2="435.8" y2="619.8" stroke="#555" stroke-width="0.7"/>
<line x1="450.8" y1="618.4" x2="450.8" y2="619.8" stroke="#555" stroke-width="0.7"/>
<line x1="454.8" y1="618.4" x2="454.8" y2="619.8" stroke="#555" stroke-width="0.7"/>
<line x1="457.8" y1="618.4" x2="457.8" y2="619.8" stroke="#555" stroke-width="0.7"/>
<line x1="460.8" y1="618.4" x2="460.8" y2="619.8" stroke="#555" stroke-width="0.7"/>
<line x1="462.8" y1="618.4" x2="462.8" y2="619.8" stroke="#555" stroke-width="0.7"/>
<line x1="464.8" y1="618.4" x2="464.8" y2="619.8" stroke="#555" stroke-width="0.7"/>
<line x1="466.8" y1="618.4" x2="466.8" y2="619.8" stroke="#555" stroke-width="0.7"/>
<line x1="468.3" y1="618.4" x2="468.3" y2="619.8" stroke="#555" stroke-width="0.7"/>
<line x1="477.8" y1="618.4" x2="477.8" y2="619.8" stroke="#555" stroke-width="0.7"/>
<line x1="481.8" y1="618.4" x2="481.8" y2="619.8" stroke="#555" stroke-width="0.7"/>
<line x1="484.8" y1="618.4" x2="484.8" y2="619.8" stroke="#555" stroke-width="0.7"/>
<line x1="486.8" y1="618.4" x2="486.8" y2="619.8" stroke="#555" stroke-width="0.7"/>
<line x1="488.8" y1="618.4" x2="488.8" y2="619.8" stroke="#555" stroke-width="0.7"/>
<line x1="490.3" y1="618.4" x2="490.3" y2="619.8" stroke="#555" stroke-width="0.7"/>
<line x1="491.8" y1="618.4" x2="491.8" y2="619.8" stroke="#555" stroke-width="0.7"/>
<rect x="424.6" y="618.7" width="4.5" height="1.8" fill="#111"/>
<line x1="403.3" y1="529.9" x2="405.8" y2="529.9" stroke="#555" stroke-width="0.9"/>
<text x="402.5" y="531.6" font-size="5" text-anchor="end" fill="#222">10<tspan font-size="3.5" dy="-2">5</tspan></text>
<line x1="403.3" y1="553.9" x2="405.8" y2="553.9" stroke="#555" stroke-width="0.9"/>
<text x="402.5" y="555.6" font-size="5" text-anchor="end" fill="#222">10<tspan font-size="3.5" dy="-2">4</tspan></text>
<line x1="403.3" y1="579.9" x2="405.8" y2="579.9" stroke="#555" stroke-width="0.9"/>
<text x="402.5" y="581.6" font-size="5" text-anchor="end" fill="#222">10<tspan font-size="3.5" dy="-2">3</tspan></text>
<line x1="403.3" y1="596.9" x2="405.8" y2="596.9" stroke="#555" stroke-width="0.9"/>
<text x="402.5" y="598.6" font-size="5" text-anchor="end" fill="#222">0</text>
<line x1="403.3" y1="611.9" x2="405.8" y2="611.9" stroke="#555" stroke-width="0.9"/>
<text x="402.5" y="613.6" font-size="5" text-anchor="end" fill="#222">-10<tspan font-size="3.5" dy="-2">3</tspan></text>
<line x1="404.4" y1="538.9" x2="405.8" y2="538.9" stroke="#555" stroke-width="0.7"/>
<line x1="404.4" y1="542.9" x2="405.8" y2="542.9" stroke="#555" stroke-width="0.7"/>
<line x1="404.4" y1="545.9" x2="405.8" y2="545.9" stroke="#555" stroke-width="0.7"/>
<line x1="404.4" y1="547.9" x2="405.8" y2="547.9" stroke="#555" stroke-width="0.7"/>
<line x1="404.4" y1="549.9" x2="405.8" y2="549.9" stroke="#555" stroke-width="0.7"/>
<line x1="404.4" y1="551.4" x2="405.8" y2="551.4" stroke="#555" stroke-width="0.7"/>
<line x1="404.4" y1="563.9" x2="405.8" y2="563.9" stroke="#555" stroke-width="0.7"/>
<line x1="404.4" y1="567.9" x2="405.8" y2="567.9" stroke="#555" stroke-width="0.7"/>
<line x1="404.4" y1="570.9" x2="405.8" y2="570.9" stroke="#555" stroke-width="0.7"/>
<line x1="404.4" y1="572.9" x2="405.8" y2="572.9" stroke="#555" stroke-width="0.7"/>
<line x1="404.4" y1="574.9" x2="405.8" y2="574.9" stroke="#555" stroke-width="0.7"/>
<line x1="404.4" y1="576.4" x2="405.8" y2="576.4" stroke="#555" stroke-width="0.7"/>
<line x1="404.4" y1="577.9" x2="405.8" y2="577.9" stroke="#555" stroke-width="0.7"/>
<line x1="404.4" y1="584.9" x2="405.8" y2="584.9" stroke="#555" stroke-width="0.7"/>
<line x1="404.4" y1="590.9" x2="405.8" y2="590.9" stroke="#555" stroke-width="0.7"/>
<line x1="404.4" y1="602.9" x2="405.8" y2="602.9" stroke="#555" stroke-width="0.7"/>
<line x1="404.4" y1="606.9" x2="405.8" y2="606.9" stroke="#555" stroke-width="0.7"/>
<rect x="404" y="595.4" width="1.8" height="3" fill="#111"/>
<clipPath id="c50"><rect x="43.3" y="644" width="99.2" height="98.2"/></clipPath>
<g clip-path="url(#c50)">
<g filter="url(#s4)"><polygon opacity="0.16" points="70,700 84,676 108,652 130,655 126,680 104,702 84,710" fill="#a8a8c0"/></g>
<g filter="url(#d3)"><ellipse cx="104.5" cy="678" rx="22" ry="10.5" fill="#6a6ad8" fill-opacity="0.5" transform="rotate(-48 104.5 678)"/></g>
<g filter="url(#d2)"><ellipse cx="106" cy="676" rx="14" ry="6.5" fill="#5050c8" fill-opacity="0.32" transform="rotate(-48 106 676)"/></g>
</g>
<rect x="43.3" y="644" width="99.2" height="98.2" fill="none" stroke="#8a8a8a" stroke-width="1.3"/>
<line x1="48.3" y1="742.2" x2="48.3" y2="744.7" stroke="#555" stroke-width="0.9"/>
<text x="47.9" y="752.2" font-size="5" text-anchor="middle" fill="#222">-10<tspan font-size="3.5" dy="-2">3</tspan></text>
<line x1="66.8" y1="742.2" x2="66.8" y2="744.7" stroke="#555" stroke-width="0.9"/>
<text x="65.6" y="752.2" font-size="5" text-anchor="middle" fill="#222">0</text>
<line x1="80.8" y1="742.2" x2="80.8" y2="744.7" stroke="#555" stroke-width="0.9"/>
<text x="80.4" y="752.2" font-size="5" text-anchor="middle" fill="#222">10<tspan font-size="3.5" dy="-2">3</tspan></text>
<line x1="107.3" y1="742.2" x2="107.3" y2="744.7" stroke="#555" stroke-width="0.9"/>
<text x="106.9" y="752.2" font-size="5" text-anchor="middle" fill="#222">10<tspan font-size="3.5" dy="-2">4</tspan></text>
<line x1="130.8" y1="742.2" x2="130.8" y2="744.7" stroke="#555" stroke-width="0.9"/>
<text x="130.4" y="752.2" font-size="5" text-anchor="middle" fill="#222">10<tspan font-size="3.5" dy="-2">5</tspan></text>
<line x1="53.3" y1="742.2" x2="53.3" y2="743.6" stroke="#555" stroke-width="0.7"/>
<line x1="57.3" y1="742.2" x2="57.3" y2="743.6" stroke="#555" stroke-width="0.7"/>
<line x1="73.3" y1="742.2" x2="73.3" y2="743.6" stroke="#555" stroke-width="0.7"/>
<line x1="88.3" y1="742.2" x2="88.3" y2="743.6" stroke="#555" stroke-width="0.7"/>
<line x1="92.3" y1="742.2" x2="92.3" y2="743.6" stroke="#555" stroke-width="0.7"/>
<line x1="95.3" y1="742.2" x2="95.3" y2="743.6" stroke="#555" stroke-width="0.7"/>
<line x1="98.3" y1="742.2" x2="98.3" y2="743.6" stroke="#555" stroke-width="0.7"/>
<line x1="100.3" y1="742.2" x2="100.3" y2="743.6" stroke="#555" stroke-width="0.7"/>
<line x1="102.3" y1="742.2" x2="102.3" y2="743.6" stroke="#555" stroke-width="0.7"/>
<line x1="104.3" y1="742.2" x2="104.3" y2="743.6" stroke="#555" stroke-width="0.7"/>
<line x1="105.8" y1="742.2" x2="105.8" y2="743.6" stroke="#555" stroke-width="0.7"/>
<line x1="115.3" y1="742.2" x2="115.3" y2="743.6" stroke="#555" stroke-width="0.7"/>
<line x1="119.3" y1="742.2" x2="119.3" y2="743.6" stroke="#555" stroke-width="0.7"/>
<line x1="122.3" y1="742.2" x2="122.3" y2="743.6" stroke="#555" stroke-width="0.7"/>
<line x1="124.3" y1="742.2" x2="124.3" y2="743.6" stroke="#555" stroke-width="0.7"/>
<line x1="126.3" y1="742.2" x2="126.3" y2="743.6" stroke="#555" stroke-width="0.7"/>
<line x1="127.8" y1="742.2" x2="127.8" y2="743.6" stroke="#555" stroke-width="0.7"/>
<line x1="129.3" y1="742.2" x2="129.3" y2="743.6" stroke="#555" stroke-width="0.7"/>
<rect x="62.1" y="742.5" width="4.5" height="1.8" fill="#111"/>
<line x1="40.8" y1="653" x2="43.3" y2="653" stroke="#555" stroke-width="0.9"/>
<text x="40" y="654.7" font-size="5" text-anchor="end" fill="#222">10<tspan font-size="3.5" dy="-2">5</tspan></text>
<line x1="40.8" y1="677" x2="43.3" y2="677" stroke="#555" stroke-width="0.9"/>
<text x="40" y="678.7" font-size="5" text-anchor="end" fill="#222">10<tspan font-size="3.5" dy="-2">4</tspan></text>
<line x1="40.8" y1="703" x2="43.3" y2="703" stroke="#555" stroke-width="0.9"/>
<text x="40" y="704.7" font-size="5" text-anchor="end" fill="#222">10<tspan font-size="3.5" dy="-2">3</tspan></text>
<line x1="40.8" y1="720" x2="43.3" y2="720" stroke="#555" stroke-width="0.9"/>
<text x="40" y="721.7" font-size="5" text-anchor="end" fill="#222">0</text>
<line x1="40.8" y1="735" x2="43.3" y2="735" stroke="#555" stroke-width="0.9"/>
<text x="40" y="736.7" font-size="5" text-anchor="end" fill="#222">-10<tspan font-size="3.5" dy="-2">3</tspan></text>
<line x1="41.9" y1="662" x2="43.3" y2="662" stroke="#555" stroke-width="0.7"/>
<line x1="41.9" y1="666" x2="43.3" y2="666" stroke="#555" stroke-width="0.7"/>
<line x1="41.9" y1="669" x2="43.3" y2="669" stroke="#555" stroke-width="0.7"/>
<line x1="41.9" y1="671" x2="43.3" y2="671" stroke="#555" stroke-width="0.7"/>
<line x1="41.9" y1="673" x2="43.3" y2="673" stroke="#555" stroke-width="0.7"/>
<line x1="41.9" y1="674.5" x2="43.3" y2="674.5" stroke="#555" stroke-width="0.7"/>
<line x1="41.9" y1="687" x2="43.3" y2="687" stroke="#555" stroke-width="0.7"/>
<line x1="41.9" y1="691" x2="43.3" y2="691" stroke="#555" stroke-width="0.7"/>
<line x1="41.9" y1="694" x2="43.3" y2="694" stroke="#555" stroke-width="0.7"/>
<line x1="41.9" y1="696" x2="43.3" y2="696" stroke="#555" stroke-width="0.7"/>
<line x1="41.9" y1="698" x2="43.3" y2="698" stroke="#555" stroke-width="0.7"/>
<line x1="41.9" y1="699.5" x2="43.3" y2="699.5" stroke="#555" stroke-width="0.7"/>
<line x1="41.9" y1="701" x2="43.3" y2="701" stroke="#555" stroke-width="0.7"/>
<line x1="41.9" y1="708" x2="43.3" y2="708" stroke="#555" stroke-width="0.7"/>
<line x1="41.9" y1="714" x2="43.3" y2="714" stroke="#555" stroke-width="0.7"/>
<line x1="41.9" y1="726" x2="43.3" y2="726" stroke="#555" stroke-width="0.7"/>
<line x1="41.9" y1="730" x2="43.3" y2="730" stroke="#555" stroke-width="0.7"/>
<rect x="41.5" y="718.5" width="1.8" height="3" fill="#111"/>
<clipPath id="c51"><rect x="164.6" y="644" width="99.5" height="98.2"/></clipPath>
<g clip-path="url(#c51)">
<g filter="url(#s4)"><polygon opacity="0.14" points="182,695 200,678 225,672 256,658 260,666 232,692 226,716 206,722 186,712" fill="#6a6ad8"/></g>
<g filter="url(#d3)"><ellipse cx="210" cy="695" rx="15" ry="12" fill="#6a6ad8" fill-opacity="0.52" transform="rotate(-20 210 695)"/></g>
<g filter="url(#d2)"><ellipse cx="210" cy="692" rx="8" ry="6" fill="#4848c8" fill-opacity="0.35"/></g>
<g filter="url(#d3)"><ellipse cx="236" cy="678" rx="22" ry="3.5" fill="#6a6ad8" fill-opacity="0.4" transform="rotate(-38 236 678)"/></g>
</g>
<rect x="164.6" y="644" width="99.5" height="98.2" fill="none" stroke="#8a8a8a" stroke-width="1.3"/>
<line x1="169.6" y1="742.2" x2="169.6" y2="744.7" stroke="#555" stroke-width="0.9"/>
<text x="169.2" y="752.2" font-size="5" text-anchor="middle" fill="#222">-10<tspan font-size="3.5" dy="-2">3</tspan></text>
<line x1="188.1" y1="742.2" x2="188.1" y2="744.7" stroke="#555" stroke-width="0.9"/>
<text x="186.9" y="752.2" font-size="5" text-anchor="middle" fill="#222">0</text>
<line x1="202.1" y1="742.2" x2="202.1" y2="744.7" stroke="#555" stroke-width="0.9"/>
<text x="201.7" y="752.2" font-size="5" text-anchor="middle" fill="#222">10<tspan font-size="3.5" dy="-2">3</tspan></text>
<line x1="228.6" y1="742.2" x2="228.6" y2="744.7" stroke="#555" stroke-width="0.9"/>
<text x="228.2" y="752.2" font-size="5" text-anchor="middle" fill="#222">10<tspan font-size="3.5" dy="-2">4</tspan></text>
<line x1="252.1" y1="742.2" x2="252.1" y2="744.7" stroke="#555" stroke-width="0.9"/>
<text x="251.7" y="752.2" font-size="5" text-anchor="middle" fill="#222">10<tspan font-size="3.5" dy="-2">5</tspan></text>
<line x1="174.6" y1="742.2" x2="174.6" y2="743.6" stroke="#555" stroke-width="0.7"/>
<line x1="178.6" y1="742.2" x2="178.6" y2="743.6" stroke="#555" stroke-width="0.7"/>
<line x1="194.6" y1="742.2" x2="194.6" y2="743.6" stroke="#555" stroke-width="0.7"/>
<line x1="209.6" y1="742.2" x2="209.6" y2="743.6" stroke="#555" stroke-width="0.7"/>
<line x1="213.6" y1="742.2" x2="213.6" y2="743.6" stroke="#555" stroke-width="0.7"/>
<line x1="216.6" y1="742.2" x2="216.6" y2="743.6" stroke="#555" stroke-width="0.7"/>
<line x1="219.6" y1="742.2" x2="219.6" y2="743.6" stroke="#555" stroke-width="0.7"/>
<line x1="221.6" y1="742.2" x2="221.6" y2="743.6" stroke="#555" stroke-width="0.7"/>
<line x1="223.6" y1="742.2" x2="223.6" y2="743.6" stroke="#555" stroke-width="0.7"/>
<line x1="225.6" y1="742.2" x2="225.6" y2="743.6" stroke="#555" stroke-width="0.7"/>
<line x1="227.1" y1="742.2" x2="227.1" y2="743.6" stroke="#555" stroke-width="0.7"/>
<line x1="236.6" y1="742.2" x2="236.6" y2="743.6" stroke="#555" stroke-width="0.7"/>
<line x1="240.6" y1="742.2" x2="240.6" y2="743.6" stroke="#555" stroke-width="0.7"/>
<line x1="243.6" y1="742.2" x2="243.6" y2="743.6" stroke="#555" stroke-width="0.7"/>
<line x1="245.6" y1="742.2" x2="245.6" y2="743.6" stroke="#555" stroke-width="0.7"/>
<line x1="247.6" y1="742.2" x2="247.6" y2="743.6" stroke="#555" stroke-width="0.7"/>
<line x1="249.1" y1="742.2" x2="249.1" y2="743.6" stroke="#555" stroke-width="0.7"/>
<line x1="250.6" y1="742.2" x2="250.6" y2="743.6" stroke="#555" stroke-width="0.7"/>
<rect x="183.4" y="742.5" width="4.5" height="1.8" fill="#111"/>
<line x1="162.1" y1="653" x2="164.6" y2="653" stroke="#555" stroke-width="0.9"/>
<text x="161.3" y="654.7" font-size="5" text-anchor="end" fill="#222">10<tspan font-size="3.5" dy="-2">5</tspan></text>
<line x1="162.1" y1="677" x2="164.6" y2="677" stroke="#555" stroke-width="0.9"/>
<text x="161.3" y="678.7" font-size="5" text-anchor="end" fill="#222">10<tspan font-size="3.5" dy="-2">4</tspan></text>
<line x1="162.1" y1="703" x2="164.6" y2="703" stroke="#555" stroke-width="0.9"/>
<text x="161.3" y="704.7" font-size="5" text-anchor="end" fill="#222">10<tspan font-size="3.5" dy="-2">3</tspan></text>
<line x1="162.1" y1="720" x2="164.6" y2="720" stroke="#555" stroke-width="0.9"/>
<text x="161.3" y="721.7" font-size="5" text-anchor="end" fill="#222">0</text>
<line x1="162.1" y1="735" x2="164.6" y2="735" stroke="#555" stroke-width="0.9"/>
<text x="161.3" y="736.7" font-size="5" text-anchor="end" fill="#222">-10<tspan font-size="3.5" dy="-2">3</tspan></text>
<line x1="163.2" y1="662" x2="164.6" y2="662" stroke="#555" stroke-width="0.7"/>
<line x1="163.2" y1="666" x2="164.6" y2="666" stroke="#555" stroke-width="0.7"/>
<line x1="163.2" y1="669" x2="164.6" y2="669" stroke="#555" stroke-width="0.7"/>
<line x1="163.2" y1="671" x2="164.6" y2="671" stroke="#555" stroke-width="0.7"/>
<line x1="163.2" y1="673" x2="164.6" y2="673" stroke="#555" stroke-width="0.7"/>
<line x1="163.2" y1="674.5" x2="164.6" y2="674.5" stroke="#555" stroke-width="0.7"/>
<line x1="163.2" y1="687" x2="164.6" y2="687" stroke="#555" stroke-width="0.7"/>
<line x1="163.2" y1="691" x2="164.6" y2="691" stroke="#555" stroke-width="0.7"/>
<line x1="163.2" y1="694" x2="164.6" y2="694" stroke="#555" stroke-width="0.7"/>
<line x1="163.2" y1="696" x2="164.6" y2="696" stroke="#555" stroke-width="0.7"/>
<line x1="163.2" y1="698" x2="164.6" y2="698" stroke="#555" stroke-width="0.7"/>
<line x1="163.2" y1="699.5" x2="164.6" y2="699.5" stroke="#555" stroke-width="0.7"/>
<line x1="163.2" y1="701" x2="164.6" y2="701" stroke="#555" stroke-width="0.7"/>
<line x1="163.2" y1="708" x2="164.6" y2="708" stroke="#555" stroke-width="0.7"/>
<line x1="163.2" y1="714" x2="164.6" y2="714" stroke="#555" stroke-width="0.7"/>
<line x1="163.2" y1="726" x2="164.6" y2="726" stroke="#555" stroke-width="0.7"/>
<line x1="163.2" y1="730" x2="164.6" y2="730" stroke="#555" stroke-width="0.7"/>
<rect x="162.8" y="718.5" width="1.8" height="3" fill="#111"/>
<clipPath id="c52"><rect x="286" y="644" width="99.6" height="98.2"/></clipPath>
<g clip-path="url(#c52)">
<g filter="url(#s4)"><polygon opacity="0.12" points="300,690 340,674 372,666 376,674 350,692 305,698" fill="#6a6ad8"/></g>
<g filter="url(#d3)"><ellipse cx="339" cy="683" rx="30" ry="6" fill="#4a4ad8" fill-opacity="0.55" transform="rotate(-14 339 683)"/></g>
<g filter="url(#d2)"><ellipse cx="343" cy="683" rx="16" ry="3.8" fill="#2a2ad8" fill-opacity="0.55" transform="rotate(-16 343 683)"/></g>
<g filter="url(#e1)"><ellipse cx="346.9" cy="683.3" rx="6.5" ry="3.6" fill="#3fd6ee" transform="rotate(-20 346.9 683.3)"/></g>
<g filter="url(#d1)"><ellipse cx="346.9" cy="683.3" rx="4.5" ry="2.5" fill="#8ee83a" transform="rotate(-20 346.9 683.3)"/></g>
<g filter="url(#e1)"><ellipse cx="347.3" cy="683.1" rx="2.2" ry="1.3" fill="#f2ea1a" transform="rotate(-20 347.3 683.1)"/></g>
</g>
<rect x="286" y="644" width="99.6" height="98.2" fill="none" stroke="#8a8a8a" stroke-width="1.3"/>
<line x1="291" y1="742.2" x2="291" y2="744.7" stroke="#555" stroke-width="0.9"/>
<text x="290.6" y="752.2" font-size="5" text-anchor="middle" fill="#222">-10<tspan font-size="3.5" dy="-2">3</tspan></text>
<line x1="309.5" y1="742.2" x2="309.5" y2="744.7" stroke="#555" stroke-width="0.9"/>
<text x="308.3" y="752.2" font-size="5" text-anchor="middle" fill="#222">0</text>
<line x1="323.5" y1="742.2" x2="323.5" y2="744.7" stroke="#555" stroke-width="0.9"/>
<text x="323.1" y="752.2" font-size="5" text-anchor="middle" fill="#222">10<tspan font-size="3.5" dy="-2">3</tspan></text>
<line x1="350" y1="742.2" x2="350" y2="744.7" stroke="#555" stroke-width="0.9"/>
<text x="349.6" y="752.2" font-size="5" text-anchor="middle" fill="#222">10<tspan font-size="3.5" dy="-2">4</tspan></text>
<line x1="373.5" y1="742.2" x2="373.5" y2="744.7" stroke="#555" stroke-width="0.9"/>
<text x="373.1" y="752.2" font-size="5" text-anchor="middle" fill="#222">10<tspan font-size="3.5" dy="-2">5</tspan></text>
<line x1="296" y1="742.2" x2="296" y2="743.6" stroke="#555" stroke-width="0.7"/>
<line x1="300" y1="742.2" x2="300" y2="743.6" stroke="#555" stroke-width="0.7"/>
<line x1="316" y1="742.2" x2="316" y2="743.6" stroke="#555" stroke-width="0.7"/>
<line x1="331" y1="742.2" x2="331" y2="743.6" stroke="#555" stroke-width="0.7"/>
<line x1="335" y1="742.2" x2="335" y2="743.6" stroke="#555" stroke-width="0.7"/>
<line x1="338" y1="742.2" x2="338" y2="743.6" stroke="#555" stroke-width="0.7"/>
<line x1="341" y1="742.2" x2="341" y2="743.6" stroke="#555" stroke-width="0.7"/>
<line x1="343" y1="742.2" x2="343" y2="743.6" stroke="#555" stroke-width="0.7"/>
<line x1="345" y1="742.2" x2="345" y2="743.6" stroke="#555" stroke-width="0.7"/>
<line x1="347" y1="742.2" x2="347" y2="743.6" stroke="#555" stroke-width="0.7"/>
<line x1="348.5" y1="742.2" x2="348.5" y2="743.6" stroke="#555" stroke-width="0.7"/>
<line x1="358" y1="742.2" x2="358" y2="743.6" stroke="#555" stroke-width="0.7"/>
<line x1="362" y1="742.2" x2="362" y2="743.6" stroke="#555" stroke-width="0.7"/>
<line x1="365" y1="742.2" x2="365" y2="743.6" stroke="#555" stroke-width="0.7"/>
<line x1="367" y1="742.2" x2="367" y2="743.6" stroke="#555" stroke-width="0.7"/>
<line x1="369" y1="742.2" x2="369" y2="743.6" stroke="#555" stroke-width="0.7"/>
<line x1="370.5" y1="742.2" x2="370.5" y2="743.6" stroke="#555" stroke-width="0.7"/>
<line x1="372" y1="742.2" x2="372" y2="743.6" stroke="#555" stroke-width="0.7"/>
<rect x="304.8" y="742.5" width="4.5" height="1.8" fill="#111"/>
<line x1="283.5" y1="653" x2="286" y2="653" stroke="#555" stroke-width="0.9"/>
<text x="282.7" y="654.7" font-size="5" text-anchor="end" fill="#222">10<tspan font-size="3.5" dy="-2">5</tspan></text>
<line x1="283.5" y1="677" x2="286" y2="677" stroke="#555" stroke-width="0.9"/>
<text x="282.7" y="678.7" font-size="5" text-anchor="end" fill="#222">10<tspan font-size="3.5" dy="-2">4</tspan></text>
<line x1="283.5" y1="703" x2="286" y2="703" stroke="#555" stroke-width="0.9"/>
<text x="282.7" y="704.7" font-size="5" text-anchor="end" fill="#222">10<tspan font-size="3.5" dy="-2">3</tspan></text>
<line x1="283.5" y1="720" x2="286" y2="720" stroke="#555" stroke-width="0.9"/>
<text x="282.7" y="721.7" font-size="5" text-anchor="end" fill="#222">0</text>
<line x1="283.5" y1="735" x2="286" y2="735" stroke="#555" stroke-width="0.9"/>
<text x="282.7" y="736.7" font-size="5" text-anchor="end" fill="#222">-10<tspan font-size="3.5" dy="-2">3</tspan></text>
<line x1="284.6" y1="662" x2="286" y2="662" stroke="#555" stroke-width="0.7"/>
<line x1="284.6" y1="666" x2="286" y2="666" stroke="#555" stroke-width="0.7"/>
<line x1="284.6" y1="669" x2="286" y2="669" stroke="#555" stroke-width="0.7"/>
<line x1="284.6" y1="671" x2="286" y2="671" stroke="#555" stroke-width="0.7"/>
<line x1="284.6" y1="673" x2="286" y2="673" stroke="#555" stroke-width="0.7"/>
<line x1="284.6" y1="674.5" x2="286" y2="674.5" stroke="#555" stroke-width="0.7"/>
<line x1="284.6" y1="687" x2="286" y2="687" stroke="#555" stroke-width="0.7"/>
<line x1="284.6" y1="691" x2="286" y2="691" stroke="#555" stroke-width="0.7"/>
<line x1="284.6" y1="694" x2="286" y2="694" stroke="#555" stroke-width="0.7"/>
<line x1="284.6" y1="696" x2="286" y2="696" stroke="#555" stroke-width="0.7"/>
<line x1="284.6" y1="698" x2="286" y2="698" stroke="#555" stroke-width="0.7"/>
<line x1="284.6" y1="699.5" x2="286" y2="699.5" stroke="#555" stroke-width="0.7"/>
<line x1="284.6" y1="701" x2="286" y2="701" stroke="#555" stroke-width="0.7"/>
<line x1="284.6" y1="708" x2="286" y2="708" stroke="#555" stroke-width="0.7"/>
<line x1="284.6" y1="714" x2="286" y2="714" stroke="#555" stroke-width="0.7"/>
<line x1="284.6" y1="726" x2="286" y2="726" stroke="#555" stroke-width="0.7"/>
<line x1="284.6" y1="730" x2="286" y2="730" stroke="#555" stroke-width="0.7"/>
<rect x="284.2" y="718.5" width="1.8" height="3" fill="#111"/>
<clipPath id="c53"><rect x="407.5" y="644" width="98.5" height="98.2"/></clipPath>
<g clip-path="url(#c53)">
<g filter="url(#s4)"><polygon opacity="0.1" points="420,698 440,680 470,668 498,652 502,660 472,690 460,718 444,730 426,718" fill="#6a6aee"/></g>
<g filter="url(#d3)"><polygon opacity="0.55" points="426,694 437,686 453,679 458,688 456,702 450,714 444,722 433,720 427,708" fill="#2a2af0" stroke="#2a2af0" stroke-width="3" stroke-linejoin="round"/></g>
<g filter="url(#d2)"><polygon opacity="0.7" points="434,695 441,690 451,686 453,693 450,704 445,710 438,708 434,700" fill="#2020f2"/></g>
<g filter="url(#e2)"><ellipse cx="447" cy="696.5" rx="7" ry="8" fill="#3fd6ee" fill-opacity="0.75" transform="rotate(20 447 696.5)"/></g>
<g filter="url(#d1)"><ellipse cx="446.7" cy="696" rx="4.5" ry="6" fill="#8ee83a" fill-opacity="0.9" transform="rotate(20 446.7 696)"/></g>
<g filter="url(#e1)"><ellipse cx="447.5" cy="694" rx="2.4" ry="2.4" fill="#d8d030" fill-opacity="0.9"/></g>
</g>
<rect x="407.5" y="644" width="98.5" height="98.2" fill="none" stroke="#8a8a8a" stroke-width="1.3"/>
<line x1="412.5" y1="742.2" x2="412.5" y2="744.7" stroke="#555" stroke-width="0.9"/>
<text x="412.1" y="752.2" font-size="5" text-anchor="middle" fill="#222">-10<tspan font-size="3.5" dy="-2">3</tspan></text>
<line x1="431" y1="742.2" x2="431" y2="744.7" stroke="#555" stroke-width="0.9"/>
<text x="429.8" y="752.2" font-size="5" text-anchor="middle" fill="#222">0</text>
<line x1="445" y1="742.2" x2="445" y2="744.7" stroke="#555" stroke-width="0.9"/>
<text x="444.6" y="752.2" font-size="5" text-anchor="middle" fill="#222">10<tspan font-size="3.5" dy="-2">3</tspan></text>
<line x1="471.5" y1="742.2" x2="471.5" y2="744.7" stroke="#555" stroke-width="0.9"/>
<text x="471.1" y="752.2" font-size="5" text-anchor="middle" fill="#222">10<tspan font-size="3.5" dy="-2">4</tspan></text>
<line x1="495" y1="742.2" x2="495" y2="744.7" stroke="#555" stroke-width="0.9"/>
<text x="494.6" y="752.2" font-size="5" text-anchor="middle" fill="#222">10<tspan font-size="3.5" dy="-2">5</tspan></text>
<line x1="417.5" y1="742.2" x2="417.5" y2="743.6" stroke="#555" stroke-width="0.7"/>
<line x1="421.5" y1="742.2" x2="421.5" y2="743.6" stroke="#555" stroke-width="0.7"/>
<line x1="437.5" y1="742.2" x2="437.5" y2="743.6" stroke="#555" stroke-width="0.7"/>
<line x1="452.5" y1="742.2" x2="452.5" y2="743.6" stroke="#555" stroke-width="0.7"/>
<line x1="456.5" y1="742.2" x2="456.5" y2="743.6" stroke="#555" stroke-width="0.7"/>
<line x1="459.5" y1="742.2" x2="459.5" y2="743.6" stroke="#555" stroke-width="0.7"/>
<line x1="462.5" y1="742.2" x2="462.5" y2="743.6" stroke="#555" stroke-width="0.7"/>
<line x1="464.5" y1="742.2" x2="464.5" y2="743.6" stroke="#555" stroke-width="0.7"/>
<line x1="466.5" y1="742.2" x2="466.5" y2="743.6" stroke="#555" stroke-width="0.7"/>
<line x1="468.5" y1="742.2" x2="468.5" y2="743.6" stroke="#555" stroke-width="0.7"/>
<line x1="470" y1="742.2" x2="470" y2="743.6" stroke="#555" stroke-width="0.7"/>
<line x1="479.5" y1="742.2" x2="479.5" y2="743.6" stroke="#555" stroke-width="0.7"/>
<line x1="483.5" y1="742.2" x2="483.5" y2="743.6" stroke="#555" stroke-width="0.7"/>
<line x1="486.5" y1="742.2" x2="486.5" y2="743.6" stroke="#555" stroke-width="0.7"/>
<line x1="488.5" y1="742.2" x2="488.5" y2="743.6" stroke="#555" stroke-width="0.7"/>
<line x1="490.5" y1="742.2" x2="490.5" y2="743.6" stroke="#555" stroke-width="0.7"/>
<line x1="492" y1="742.2" x2="492" y2="743.6" stroke="#555" stroke-width="0.7"/>
<line x1="493.5" y1="742.2" x2="493.5" y2="743.6" stroke="#555" stroke-width="0.7"/>
<rect x="426.3" y="742.5" width="4.5" height="1.8" fill="#111"/>
<line x1="405" y1="653" x2="407.5" y2="653" stroke="#555" stroke-width="0.9"/>
<text x="404.2" y="654.7" font-size="5" text-anchor="end" fill="#222">10<tspan font-size="3.5" dy="-2">5</tspan></text>
<line x1="405" y1="677" x2="407.5" y2="677" stroke="#555" stroke-width="0.9"/>
<text x="404.2" y="678.7" font-size="5" text-anchor="end" fill="#222">10<tspan font-size="3.5" dy="-2">4</tspan></text>
<line x1="405" y1="703" x2="407.5" y2="703" stroke="#555" stroke-width="0.9"/>
<text x="404.2" y="704.7" font-size="5" text-anchor="end" fill="#222">10<tspan font-size="3.5" dy="-2">3</tspan></text>
<line x1="405" y1="720" x2="407.5" y2="720" stroke="#555" stroke-width="0.9"/>
<text x="404.2" y="721.7" font-size="5" text-anchor="end" fill="#222">0</text>
<line x1="405" y1="735" x2="407.5" y2="735" stroke="#555" stroke-width="0.9"/>
<text x="404.2" y="736.7" font-size="5" text-anchor="end" fill="#222">-10<tspan font-size="3.5" dy="-2">3</tspan></text>
<line x1="406.1" y1="662" x2="407.5" y2="662" stroke="#555" stroke-width="0.7"/>
<line x1="406.1" y1="666" x2="407.5" y2="666" stroke="#555" stroke-width="0.7"/>
<line x1="406.1" y1="669" x2="407.5" y2="669" stroke="#555" stroke-width="0.7"/>
<line x1="406.1" y1="671" x2="407.5" y2="671" stroke="#555" stroke-width="0.7"/>
<line x1="406.1" y1="673" x2="407.5" y2="673" stroke="#555" stroke-width="0.7"/>
<line x1="406.1" y1="674.5" x2="407.5" y2="674.5" stroke="#555" stroke-width="0.7"/>
<line x1="406.1" y1="687" x2="407.5" y2="687" stroke="#555" stroke-width="0.7"/>
<line x1="406.1" y1="691" x2="407.5" y2="691" stroke="#555" stroke-width="0.7"/>
<line x1="406.1" y1="694" x2="407.5" y2="694" stroke="#555" stroke-width="0.7"/>
<line x1="406.1" y1="696" x2="407.5" y2="696" stroke="#555" stroke-width="0.7"/>
<line x1="406.1" y1="698" x2="407.5" y2="698" stroke="#555" stroke-width="0.7"/>
<line x1="406.1" y1="699.5" x2="407.5" y2="699.5" stroke="#555" stroke-width="0.7"/>
<line x1="406.1" y1="701" x2="407.5" y2="701" stroke="#555" stroke-width="0.7"/>
<line x1="406.1" y1="708" x2="407.5" y2="708" stroke="#555" stroke-width="0.7"/>
<line x1="406.1" y1="714" x2="407.5" y2="714" stroke="#555" stroke-width="0.7"/>
<line x1="406.1" y1="726" x2="407.5" y2="726" stroke="#555" stroke-width="0.7"/>
<line x1="406.1" y1="730" x2="407.5" y2="730" stroke="#555" stroke-width="0.7"/>
<rect x="405.7" y="718.5" width="1.8" height="3" fill="#111"/>
<line x1="39" y1="158.7" x2="43" y2="158.7" stroke="#111" stroke-width="1"/>
<text x="38" y="160.5" font-size="5.2" text-anchor="end" font-weight="normal" fill="#222" >600</text>
<line x1="39" y1="185.2" x2="43" y2="185.2" stroke="#111" stroke-width="1"/>
<text x="38" y="187" font-size="5.2" text-anchor="end" font-weight="normal" fill="#222" >400</text>
<line x1="39" y1="211.7" x2="43" y2="211.7" stroke="#111" stroke-width="1"/>
<text x="38" y="213.5" font-size="5.2" text-anchor="end" font-weight="normal" fill="#222" >200</text>
<line x1="39" y1="238" x2="43" y2="238" stroke="#111" stroke-width="1"/>
<text x="38" y="239.8" font-size="5.2" text-anchor="end" font-weight="normal" fill="#222" >0</text>
<line x1="41" y1="143.3" x2="43" y2="143.3" stroke="#111" stroke-width="0.9"/>
<line x1="41" y1="147.6" x2="43" y2="147.6" stroke="#111" stroke-width="0.9"/>
<line x1="41" y1="151.9" x2="43" y2="151.9" stroke="#111" stroke-width="0.9"/>
<line x1="41" y1="156.2" x2="43" y2="156.2" stroke="#111" stroke-width="0.9"/>
<line x1="41" y1="160.5" x2="43" y2="160.5" stroke="#111" stroke-width="0.9"/>
<line x1="41" y1="164.8" x2="43" y2="164.8" stroke="#111" stroke-width="0.9"/>
<line x1="41" y1="169.1" x2="43" y2="169.1" stroke="#111" stroke-width="0.9"/>
<line x1="41" y1="173.4" x2="43" y2="173.4" stroke="#111" stroke-width="0.9"/>
<line x1="41" y1="177.7" x2="43" y2="177.7" stroke="#111" stroke-width="0.9"/>
<line x1="41" y1="182" x2="43" y2="182" stroke="#111" stroke-width="0.9"/>
<line x1="41" y1="186.3" x2="43" y2="186.3" stroke="#111" stroke-width="0.9"/>
<line x1="41" y1="190.6" x2="43" y2="190.6" stroke="#111" stroke-width="0.9"/>
<line x1="41" y1="194.9" x2="43" y2="194.9" stroke="#111" stroke-width="0.9"/>
<line x1="41" y1="199.2" x2="43" y2="199.2" stroke="#111" stroke-width="0.9"/>
<line x1="41" y1="203.5" x2="43" y2="203.5" stroke="#111" stroke-width="0.9"/>
<line x1="41" y1="207.8" x2="43" y2="207.8" stroke="#111" stroke-width="0.9"/>
<line x1="41" y1="212.1" x2="43" y2="212.1" stroke="#111" stroke-width="0.9"/>
<line x1="41" y1="216.4" x2="43" y2="216.4" stroke="#111" stroke-width="0.9"/>
<line x1="41" y1="220.7" x2="43" y2="220.7" stroke="#111" stroke-width="0.9"/>
<line x1="41" y1="225" x2="43" y2="225" stroke="#111" stroke-width="0.9"/>
<line x1="41" y1="229.3" x2="43" y2="229.3" stroke="#111" stroke-width="0.9"/>
<line x1="41" y1="233.6" x2="43" y2="233.6" stroke="#111" stroke-width="0.9"/>
<line x1="158.6" y1="156.1" x2="162.6" y2="156.1" stroke="#111" stroke-width="1"/>
<text x="157.6" y="157.9" font-size="5.2" text-anchor="end" font-weight="normal" fill="#222" >800</text>
<line x1="158.6" y1="176.5" x2="162.6" y2="176.5" stroke="#111" stroke-width="1"/>
<text x="157.6" y="178.3" font-size="5.2" text-anchor="end" font-weight="normal" fill="#222" >600</text>
<line x1="158.6" y1="196.9" x2="162.6" y2="196.9" stroke="#111" stroke-width="1"/>
<text x="157.6" y="198.7" font-size="5.2" text-anchor="end" font-weight="normal" fill="#222" >400</text>
<line x1="158.6" y1="217.3" x2="162.6" y2="217.3" stroke="#111" stroke-width="1"/>
<text x="157.6" y="219.1" font-size="5.2" text-anchor="end" font-weight="normal" fill="#222" >200</text>
<line x1="158.6" y1="237.8" x2="162.6" y2="237.8" stroke="#111" stroke-width="1"/>
<text x="157.6" y="239.6" font-size="5.2" text-anchor="end" font-weight="normal" fill="#222" >0</text>
<line x1="160.6" y1="143.3" x2="162.6" y2="143.3" stroke="#111" stroke-width="0.9"/>
<line x1="160.6" y1="147.6" x2="162.6" y2="147.6" stroke="#111" stroke-width="0.9"/>
<line x1="160.6" y1="151.9" x2="162.6" y2="151.9" stroke="#111" stroke-width="0.9"/>
<line x1="160.6" y1="156.2" x2="162.6" y2="156.2" stroke="#111" stroke-width="0.9"/>
<line x1="160.6" y1="160.5" x2="162.6" y2="160.5" stroke="#111" stroke-width="0.9"/>
<line x1="160.6" y1="164.8" x2="162.6" y2="164.8" stroke="#111" stroke-width="0.9"/>
<line x1="160.6" y1="169.1" x2="162.6" y2="169.1" stroke="#111" stroke-width="0.9"/>
<line x1="160.6" y1="173.4" x2="162.6" y2="173.4" stroke="#111" stroke-width="0.9"/>
<line x1="160.6" y1="177.7" x2="162.6" y2="177.7" stroke="#111" stroke-width="0.9"/>
<line x1="160.6" y1="182" x2="162.6" y2="182" stroke="#111" stroke-width="0.9"/>
<line x1="160.6" y1="186.3" x2="162.6" y2="186.3" stroke="#111" stroke-width="0.9"/>
<line x1="160.6" y1="190.6" x2="162.6" y2="190.6" stroke="#111" stroke-width="0.9"/>
<line x1="160.6" y1="194.9" x2="162.6" y2="194.9" stroke="#111" stroke-width="0.9"/>
<line x1="160.6" y1="199.2" x2="162.6" y2="199.2" stroke="#111" stroke-width="0.9"/>
<line x1="160.6" y1="203.5" x2="162.6" y2="203.5" stroke="#111" stroke-width="0.9"/>
<line x1="160.6" y1="207.8" x2="162.6" y2="207.8" stroke="#111" stroke-width="0.9"/>
<line x1="160.6" y1="212.1" x2="162.6" y2="212.1" stroke="#111" stroke-width="0.9"/>
<line x1="160.6" y1="216.4" x2="162.6" y2="216.4" stroke="#111" stroke-width="0.9"/>
<line x1="160.6" y1="220.7" x2="162.6" y2="220.7" stroke="#111" stroke-width="0.9"/>
<line x1="160.6" y1="225" x2="162.6" y2="225" stroke="#111" stroke-width="0.9"/>
<line x1="160.6" y1="229.3" x2="162.6" y2="229.3" stroke="#111" stroke-width="0.9"/>
<line x1="160.6" y1="233.6" x2="162.6" y2="233.6" stroke="#111" stroke-width="0.9"/>
<line x1="279.5" y1="144.6" x2="283.5" y2="144.6" stroke="#111" stroke-width="1"/>
<text x="278.5" y="146.4" font-size="5.2" text-anchor="end" font-weight="normal" fill="#222" >2.0K</text>
<line x1="279.5" y1="167.3" x2="283.5" y2="167.3" stroke="#111" stroke-width="1"/>
<text x="278.5" y="169.1" font-size="5.2" text-anchor="end" font-weight="normal" fill="#222" >1.5K</text>
<line x1="279.5" y1="189.6" x2="283.5" y2="189.6" stroke="#111" stroke-width="1"/>
<text x="278.5" y="191.4" font-size="5.2" text-anchor="end" font-weight="normal" fill="#222" >1.0K</text>
<line x1="279.5" y1="212" x2="283.5" y2="212" stroke="#111" stroke-width="1"/>
<text x="278.5" y="213.8" font-size="5.2" text-anchor="end" font-weight="normal" fill="#222" >500</text>
<line x1="279.5" y1="237.8" x2="283.5" y2="237.8" stroke="#111" stroke-width="1"/>
<text x="278.5" y="239.6" font-size="5.2" text-anchor="end" font-weight="normal" fill="#222" >0</text>
<line x1="281.5" y1="143.3" x2="283.5" y2="143.3" stroke="#111" stroke-width="0.9"/>
<line x1="281.5" y1="147.6" x2="283.5" y2="147.6" stroke="#111" stroke-width="0.9"/>
<line x1="281.5" y1="151.9" x2="283.5" y2="151.9" stroke="#111" stroke-width="0.9"/>
<line x1="281.5" y1="156.2" x2="283.5" y2="156.2" stroke="#111" stroke-width="0.9"/>
<line x1="281.5" y1="160.5" x2="283.5" y2="160.5" stroke="#111" stroke-width="0.9"/>
<line x1="281.5" y1="164.8" x2="283.5" y2="164.8" stroke="#111" stroke-width="0.9"/>
<line x1="281.5" y1="169.1" x2="283.5" y2="169.1" stroke="#111" stroke-width="0.9"/>
<line x1="281.5" y1="173.4" x2="283.5" y2="173.4" stroke="#111" stroke-width="0.9"/>
<line x1="281.5" y1="177.7" x2="283.5" y2="177.7" stroke="#111" stroke-width="0.9"/>
<line x1="281.5" y1="182" x2="283.5" y2="182" stroke="#111" stroke-width="0.9"/>
<line x1="281.5" y1="186.3" x2="283.5" y2="186.3" stroke="#111" stroke-width="0.9"/>
<line x1="281.5" y1="190.6" x2="283.5" y2="190.6" stroke="#111" stroke-width="0.9"/>
<line x1="281.5" y1="194.9" x2="283.5" y2="194.9" stroke="#111" stroke-width="0.9"/>
<line x1="281.5" y1="199.2" x2="283.5" y2="199.2" stroke="#111" stroke-width="0.9"/>
<line x1="281.5" y1="203.5" x2="283.5" y2="203.5" stroke="#111" stroke-width="0.9"/>
<line x1="281.5" y1="207.8" x2="283.5" y2="207.8" stroke="#111" stroke-width="0.9"/>
<line x1="281.5" y1="212.1" x2="283.5" y2="212.1" stroke="#111" stroke-width="0.9"/>
<line x1="281.5" y1="216.4" x2="283.5" y2="216.4" stroke="#111" stroke-width="0.9"/>
<line x1="281.5" y1="220.7" x2="283.5" y2="220.7" stroke="#111" stroke-width="0.9"/>
<line x1="281.5" y1="225" x2="283.5" y2="225" stroke="#111" stroke-width="0.9"/>
<line x1="281.5" y1="229.3" x2="283.5" y2="229.3" stroke="#111" stroke-width="0.9"/>
<line x1="281.5" y1="233.6" x2="283.5" y2="233.6" stroke="#111" stroke-width="0.9"/>
<line x1="399.5" y1="143.9" x2="403.5" y2="143.9" stroke="#111" stroke-width="1"/>
<text x="398.5" y="145.7" font-size="5.2" text-anchor="end" font-weight="normal" fill="#222" >15K</text>
<line x1="399.5" y1="175.2" x2="403.5" y2="175.2" stroke="#111" stroke-width="1"/>
<text x="398.5" y="177" font-size="5.2" text-anchor="end" font-weight="normal" fill="#222" >10K</text>
<line x1="399.5" y1="206.5" x2="403.5" y2="206.5" stroke="#111" stroke-width="1"/>
<text x="398.5" y="208.3" font-size="5.2" text-anchor="end" font-weight="normal" fill="#222" >5.0K</text>
<line x1="399.5" y1="237.8" x2="403.5" y2="237.8" stroke="#111" stroke-width="1"/>
<text x="398.5" y="239.6" font-size="5.2" text-anchor="end" font-weight="normal" fill="#222" >0</text>
<line x1="401.5" y1="143.3" x2="403.5" y2="143.3" stroke="#111" stroke-width="0.9"/>
<line x1="401.5" y1="147.6" x2="403.5" y2="147.6" stroke="#111" stroke-width="0.9"/>
<line x1="401.5" y1="151.9" x2="403.5" y2="151.9" stroke="#111" stroke-width="0.9"/>
<line x1="401.5" y1="156.2" x2="403.5" y2="156.2" stroke="#111" stroke-width="0.9"/>
<line x1="401.5" y1="160.5" x2="403.5" y2="160.5" stroke="#111" stroke-width="0.9"/>
<line x1="401.5" y1="164.8" x2="403.5" y2="164.8" stroke="#111" stroke-width="0.9"/>
<line x1="401.5" y1="169.1" x2="403.5" y2="169.1" stroke="#111" stroke-width="0.9"/>
<line x1="401.5" y1="173.4" x2="403.5" y2="173.4" stroke="#111" stroke-width="0.9"/>
<line x1="401.5" y1="177.7" x2="403.5" y2="177.7" stroke="#111" stroke-width="0.9"/>
<line x1="401.5" y1="182" x2="403.5" y2="182" stroke="#111" stroke-width="0.9"/>
<line x1="401.5" y1="186.3" x2="403.5" y2="186.3" stroke="#111" stroke-width="0.9"/>
<line x1="401.5" y1="190.6" x2="403.5" y2="190.6" stroke="#111" stroke-width="0.9"/>
<line x1="401.5" y1="194.9" x2="403.5" y2="194.9" stroke="#111" stroke-width="0.9"/>
<line x1="401.5" y1="199.2" x2="403.5" y2="199.2" stroke="#111" stroke-width="0.9"/>
<line x1="401.5" y1="203.5" x2="403.5" y2="203.5" stroke="#111" stroke-width="0.9"/>
<line x1="401.5" y1="207.8" x2="403.5" y2="207.8" stroke="#111" stroke-width="0.9"/>
<line x1="401.5" y1="212.1" x2="403.5" y2="212.1" stroke="#111" stroke-width="0.9"/>
<line x1="401.5" y1="216.4" x2="403.5" y2="216.4" stroke="#111" stroke-width="0.9"/>
<line x1="401.5" y1="220.7" x2="403.5" y2="220.7" stroke="#111" stroke-width="0.9"/>
<line x1="401.5" y1="225" x2="403.5" y2="225" stroke="#111" stroke-width="0.9"/>
<line x1="401.5" y1="229.3" x2="403.5" y2="229.3" stroke="#111" stroke-width="0.9"/>
<line x1="401.5" y1="233.6" x2="403.5" y2="233.6" stroke="#111" stroke-width="0.9"/>
<line x1="24.6" y1="21.2" x2="24.6" y2="92" stroke="#111" stroke-width="1.7"/>
<polygon points="24.6,15.2 21,24.4 28.2,24.4" fill="#111"/>
<text x="24.6" y="101.8" dy="0.36em" font-size="6.4" font-weight="bold" text-anchor="middle" fill="#111" stroke="#111" stroke-width="0.2" transform="rotate(-90 24.6 101.8)" textLength="15" lengthAdjust="spacingAndGlyphs">F4/80</text>
<line x1="24.1" y1="146.1" x2="24.1" y2="218" stroke="#111" stroke-width="1.7"/>
<polygon points="24.1,140.1 20.5,149.3 27.7,149.3" fill="#111"/>
<text x="24.1" y="226.5" dy="0.36em" font-size="6.4" font-weight="bold" text-anchor="middle" fill="#111" stroke="#111" stroke-width="0.2" transform="rotate(-90 24.1 226.5)" textLength="12.4" lengthAdjust="spacingAndGlyphs">Count</text>
<line x1="21.9" y1="269.1" x2="21.9" y2="340.2" stroke="#111" stroke-width="1.7"/>
<polygon points="21.9,263.1 18.3,272.3 25.5,272.3" fill="#111"/>
<text x="21.9" y="349.9" dy="0.36em" font-size="6.4" font-weight="bold" text-anchor="middle" fill="#111" stroke="#111" stroke-width="0.2" transform="rotate(-90 21.9 349.9)" textLength="14.8" lengthAdjust="spacingAndGlyphs">CD11b</text>
<line x1="24.1" y1="396.4" x2="24.1" y2="466.7" stroke="#111" stroke-width="1.7"/>
<polygon points="24.1,390.4 20.5,399.6 27.7,399.6" fill="#111"/>
<text x="24.1" y="476.4" dy="0.36em" font-size="6.4" font-weight="bold" text-anchor="middle" fill="#111" stroke="#111" stroke-width="0.2" transform="rotate(-90 24.1 476.4)" textLength="13.2" lengthAdjust="spacingAndGlyphs">Ly-6G</text>
<line x1="27.2" y1="522.2" x2="27.2" y2="591.7" stroke="#111" stroke-width="1.7"/>
<polygon points="27.2,516.2 23.6,525.4 30.8,525.4" fill="#111"/>
<text x="27.2" y="604.1" dy="0.36em" font-size="6.4" font-weight="bold" text-anchor="middle" fill="#111" stroke="#111" stroke-width="0.2" transform="rotate(-90 27.2 604.1)" textLength="18.9" lengthAdjust="spacingAndGlyphs">M-CSFR</text>
<line x1="26.5" y1="649.6" x2="26.5" y2="720.6" stroke="#111" stroke-width="1.7"/>
<polygon points="26.5,643.6 22.9,652.8 30.1,652.8" fill="#111"/>
<text x="26.5" y="732" dy="0.36em" font-size="6.4" font-weight="bold" text-anchor="middle" fill="#111" stroke="#111" stroke-width="0.2" transform="rotate(-90 26.5 732)" textLength="18.9" lengthAdjust="spacingAndGlyphs">M-CSFR</text>
<text x="14.3" y="570.7" dy="0.36em" font-size="7.2" text-anchor="middle" fill="#111" stroke="#111" stroke-width="0.15" transform="rotate(-90 14.3 570.7)" textLength="43.5" lengthAdjust="spacingAndGlyphs">Mac2-Ly-6G+</text>
<text x="14.3" y="695.3" dy="0.36em" font-size="7.2" text-anchor="middle" fill="#111" stroke="#111" stroke-width="0.15" transform="rotate(-90 14.3 695.3)" textLength="43.5" lengthAdjust="spacingAndGlyphs">Mac2+Ly-6G+</text>
<line x1="61" y1="131.6" x2="497.8" y2="131.6" stroke="#111" stroke-width="1.7"/>
<polygon points="503.8,131.6 494.6,128.2 494.6,135" fill="#111"/>
<text x="45.3" y="133.9" font-size="6.4" font-weight="bold" fill="#111" stroke="#111" stroke-width="0.2" textLength="11.7" lengthAdjust="spacingAndGlyphs">CD45</text>
<line x1="61.5" y1="254.6" x2="497.1" y2="254.6" stroke="#111" stroke-width="1.7"/>
<polygon points="503.1,254.6 493.9,251.2 493.9,258" fill="#111"/>
<text x="44.4" y="256.9" font-size="6.4" font-weight="bold" fill="#111" stroke="#111" stroke-width="0.2" textLength="12.7" lengthAdjust="spacingAndGlyphs">CD168</text>
<line x1="61" y1="381.8" x2="497.5" y2="381.8" stroke="#111" stroke-width="1.7"/>
<polygon points="503.5,381.8 494.3,378.4 494.3,385.2" fill="#111"/>
<text x="44.5" y="384.1" font-size="6.4" font-weight="bold" fill="#111" stroke="#111" stroke-width="0.2" textLength="11.5" lengthAdjust="spacingAndGlyphs">CD68</text>
<line x1="61" y1="507.3" x2="498" y2="507.3" stroke="#111" stroke-width="1.7"/>
<polygon points="504,507.3 494.8,503.9 494.8,510.7" fill="#111"/>
<text x="46" y="509.6" font-size="6.4" font-weight="bold" fill="#111" stroke="#111" stroke-width="0.2" textLength="11.5" lengthAdjust="spacingAndGlyphs">Mac2</text>
<line x1="62" y1="635.2" x2="495.5" y2="635.2" stroke="#111" stroke-width="1.7"/>
<polygon points="501.5,635.2 492.3,631.8 492.3,638.6" fill="#111"/>
<text x="47.5" y="637.5" font-size="6.4" font-weight="bold" fill="#111" stroke="#111" stroke-width="0.2" textLength="12.8" lengthAdjust="spacingAndGlyphs">CD166</text>
<line x1="60" y1="758" x2="498" y2="758" stroke="#111" stroke-width="1.7"/>
<polygon points="504,758 494.8,754.6 494.8,761.4" fill="#111"/>
<text x="45" y="760.3" font-size="6.4" font-weight="bold" fill="#111" stroke="#111" stroke-width="0.2" textLength="12.8" lengthAdjust="spacingAndGlyphs">CD166</text>
<path d="M54 238 L54 238 L58 236.5 L64 233 L70 228 L76 222 L80 217 L83 212 L86 206 L89 201 L92 197 L95 192 L98 185 L100 178 L102 172 L104 165 L105.5 158 L107 152 L108 147.5 L108.8 146 L109.5 148 L110.2 150.5 L111.5 153 L112.5 154.5 L113.5 158 L115 163 L116.7 170 L118 180 L119.5 193 L120.8 206 L122 216 L123.8 227 L125.5 233 L128 236.5 L131 238 L131 238 Z" fill="#d9897a" stroke="#7a1020" stroke-width="1.1" stroke-linejoin="round"/>
<path d="M164 238 L164 238 L168 235.5 L171 231 L174 223 L176.5 212 L178.5 200 L180.5 188 L182.5 172 L184 160 L185.2 153 L186.5 149 L188 148 L189.5 146.5 L190.5 147.5 L191.5 151 L192.5 155 L194 160 L195.5 165 L197.5 170 L199.5 173 L201.5 176.5 L203 177 L205 181 L207 188 L208.5 196 L210 205 L211.5 214 L213 222 L214.5 228 L217 234 L220 237 L224 238 L224 238 Z" fill="#d9897a" stroke="#7a1020" stroke-width="1.1" stroke-linejoin="round"/>
<path d="M284 238 L284 238 L287 235 L290 230 L293 223 L296 212 L298.5 202 L301 188 L303 176 L304.5 168 L306 161 L307.5 158 L309 156 L311 155.5 L313 155 L315 155.5 L316.5 157.5 L318 156.5 L319.5 154 L321 153 L323 148.5 L324.5 145 L326 146.5 L327.5 148.5 L328.8 153 L330 162 L331 174 L332.2 190 L333.5 203 L335 213 L337 222 L339.5 229 L343 234 L347 237 L351 238 L351 238 Z" fill="#d9897a" stroke="#7a1020" stroke-width="1.1" stroke-linejoin="round"/>
<path d="M414 238 L414 238 L418 236.5 L421 230 L423.5 219 L425.5 200 L427.3 178 L428.8 160 L430.3 150 L431.8 146 L433.3 145 L434.8 146 L436.4 150 L438.2 157 L440.4 167 L442 180 L443.4 193 L445 206 L446.4 216 L448.5 226 L451 231.5 L455 235 L460 237 L465 238 L465 238 Z" fill="#d9897a" stroke="#7a1020" stroke-width="1.1" stroke-linejoin="round"/>
<path d="M43 210.3 H81.4 V215.2 H142.3" fill="none" stroke="#111" stroke-width="1.6"/>
<line x1="81.4" y1="208.8" x2="81.4" y2="216.7" stroke="#111" stroke-width="2.2"/>
<text x="95.5" y="212.8" font-size="7.6" text-anchor="start" font-weight="normal" fill="#222" textLength="20.5" lengthAdjust="spacingAndGlyphs">89.7%</text>
<path d="M162.6 216.2 H200 V220.8 H262" fill="none" stroke="#111" stroke-width="1.6"/>
<line x1="200" y1="214.7" x2="200" y2="222.3" stroke="#111" stroke-width="2.2"/>
<text x="215.5" y="215.6" font-size="7.6" text-anchor="start" font-weight="normal" fill="#222" textLength="20.5" lengthAdjust="spacingAndGlyphs">29.6%</text>
<path d="M283.5 209.7 H316 V214.8 H382.6" fill="none" stroke="#111" stroke-width="1.6"/>
<line x1="316" y1="208.2" x2="316" y2="216.3" stroke="#111" stroke-width="2.2"/>
<text x="338.6" y="211.2" font-size="7.6" text-anchor="start" font-weight="normal" fill="#222" textLength="20.5" lengthAdjust="spacingAndGlyphs">54.1%</text>
<path d="M403.5 212.7 H436.4 V217.8 H502.5" fill="none" stroke="#111" stroke-width="1.6"/>
<line x1="436.4" y1="211.2" x2="436.4" y2="219.3" stroke="#111" stroke-width="2.2"/>
<text x="449.5" y="214.2" font-size="7.6" text-anchor="start" font-weight="normal" fill="#222" textLength="20.5" lengthAdjust="spacingAndGlyphs">44.6%</text>
<polygon points="99.4,24.5 108.6,20.2 123.4,21.7 133.5,29.1 134.5,34.6 130.8,43.8 123.4,58.6 97.5,59 94.8,38.3" fill="none" stroke="#1e1e1e" stroke-width="1.0" stroke-linejoin="round"/>
<polygon points="227.8,28.8 242.7,28.8 245,40.4 245.8,48 241.2,53.5 230.4,64.6 221,62.2 217.3,52.7 218,45 221,38.8 225.8,31.2" fill="none" stroke="#1e1e1e" stroke-width="1.0" stroke-linejoin="round"/>
<polygon points="333.8,40.2 345.8,24.5 365.2,24.5 370.8,36.5 370.8,45.7 363.4,58.6 354.2,64.2 339.4,63.2 333.8,53.1" fill="none" stroke="#1e1e1e" stroke-width="1.0" stroke-linejoin="round"/>
<polygon points="452.9,36.5 459.4,27.2 464.9,25.4 477.8,25 483.4,32.8 488,40.2 488,54.9 483.4,60.5 467.7,71.5 455.7,66.9 452.9,54.9" fill="none" stroke="#1e1e1e" stroke-width="1.0" stroke-linejoin="round"/>
<text x="74.3" y="32.8" font-size="9.2" text-anchor="start" font-weight="normal" fill="#1a1a1a" stroke="#1a1a1a" stroke-width="0.15">4.2%</text>
<text x="194" y="33.5" font-size="9.2" text-anchor="start" font-weight="normal" fill="#1a1a1a" stroke="#1a1a1a" stroke-width="0.15">13.3%</text>
<text x="312.6" y="33.7" font-size="9.2" text-anchor="start" font-weight="normal" fill="#1a1a1a" stroke="#1a1a1a" stroke-width="0.15">18.5%</text>
<text x="427.6" y="32.8" font-size="9.2" text-anchor="start" font-weight="normal" fill="#1a1a1a" stroke="#1a1a1a" stroke-width="0.15">22.7%</text>
<polygon points="72.3,302.4 81.4,283.2 94.5,276.1 135.9,285.2 135.9,311.4 84.4,316.5 77.4,310.4" fill="none" stroke="#1e1e1e" stroke-width="1.0" stroke-linejoin="round"/>
<polygon points="200.4,282 203,276 208,274.1 226.6,273.1 250.9,277.1 261,285.2 261,302.4 242.8,304.4 204.4,305.4 200.4,297.3" fill="none" stroke="#1e1e1e" stroke-width="1.0" stroke-linejoin="round"/>
<polygon points="321.4,278.1 336.5,276.1 362.8,277.1 372.9,283.2 373.9,295.3 362.8,300.3 324.4,302.4 321.4,291.3" fill="none" stroke="#1e1e1e" stroke-width="1.0" stroke-linejoin="round"/>
<polygon points="444.7,274.5 475.1,270.2 497.3,276.3 499.1,280.9 499.1,295.7 493.6,301.2 445.6,303.1" fill="none" stroke="#1e1e1e" stroke-width="1.0" stroke-linejoin="round"/>
<text x="108.6" y="324.3" font-size="9.2" text-anchor="start" font-weight="normal" fill="#1a1a1a" stroke="#1a1a1a" stroke-width="0.15">54.8%</text>
<text x="228.6" y="315.6" font-size="9.2" text-anchor="start" font-weight="normal" fill="#1a1a1a" stroke="#1a1a1a" stroke-width="0.15">66.3%</text>
<text x="348.6" y="310.1" font-size="9.2" text-anchor="start" font-weight="normal" fill="#1a1a1a" stroke="#1a1a1a" stroke-width="0.15">50.4%</text>
<text x="476.1" y="310.8" font-size="9.2" text-anchor="start" font-weight="normal" fill="#1a1a1a" stroke="#1a1a1a" stroke-width="0.15">12.2%</text>
<line x1="85.5" y1="394" x2="85.5" y2="492.3" stroke="#2a2a2a" stroke-width="1.2"/>
<line x1="43.6" y1="420.8" x2="143.3" y2="420.8" stroke="#2a2a2a" stroke-width="1.2"/>
<text x="45.8" y="418.9" font-size="9.2" text-anchor="start" font-weight="normal" fill="#1a1a1a" stroke="#1a1a1a" stroke-width="0.15">6.3%</text>
<text x="139.3" y="418.9" font-size="9.2" text-anchor="end" font-weight="normal" fill="#1a1a1a" stroke="#1a1a1a" stroke-width="0.15">5.0%</text>
<text x="47.7" y="490" font-size="9.2" text-anchor="start" font-weight="normal" fill="#1a1a1a" stroke="#1a1a1a" stroke-width="0.15">7.9%</text>
<text x="139.3" y="490" font-size="9.2" text-anchor="end" font-weight="normal" fill="#1a1a1a" stroke="#1a1a1a" stroke-width="0.15">80.8%</text>
<line x1="199.1" y1="394" x2="199.1" y2="492.3" stroke="#2a2a2a" stroke-width="1.2"/>
<line x1="164" y1="425.8" x2="263.5" y2="425.8" stroke="#2a2a2a" stroke-width="1.2"/>
<text x="165.8" y="423.9" font-size="9.2" text-anchor="start" font-weight="normal" fill="#1a1a1a" stroke="#1a1a1a" stroke-width="0.15">89.0%</text>
<text x="260.5" y="423.9" font-size="9.2" text-anchor="end" font-weight="normal" fill="#1a1a1a" stroke="#1a1a1a" stroke-width="0.15">8.5%</text>
<text x="168.6" y="490.4" font-size="9.2" text-anchor="start" font-weight="normal" fill="#1a1a1a" stroke="#1a1a1a" stroke-width="0.15">0.5%</text>
<text x="260.5" y="490.4" font-size="9.2" text-anchor="end" font-weight="normal" fill="#1a1a1a" stroke="#1a1a1a" stroke-width="0.15">2.0%</text>
<line x1="315.8" y1="394" x2="315.8" y2="492.3" stroke="#2a2a2a" stroke-width="1.2"/>
<line x1="284.5" y1="418" x2="384.1" y2="418" stroke="#2a2a2a" stroke-width="1.2"/>
<text x="285.8" y="417" font-size="9.2" text-anchor="start" font-weight="normal" fill="#1a1a1a" stroke="#1a1a1a" stroke-width="0.15">90.4%</text>
<text x="381.2" y="417" font-size="9.2" text-anchor="end" font-weight="normal" fill="#1a1a1a" stroke="#1a1a1a" stroke-width="0.15">6.0%</text>
<text x="288.6" y="490" font-size="9.2" text-anchor="start" font-weight="normal" fill="#1a1a1a" stroke="#1a1a1a" stroke-width="0.15">2.0%</text>
<text x="381.2" y="490" font-size="9.2" text-anchor="end" font-weight="normal" fill="#1a1a1a" stroke="#1a1a1a" stroke-width="0.15">1.5%</text>
<line x1="438.2" y1="394" x2="438.2" y2="492.3" stroke="#2a2a2a" stroke-width="1.2"/>
<line x1="405.8" y1="423.2" x2="505" y2="423.2" stroke="#2a2a2a" stroke-width="1.2"/>
<text x="407.8" y="420.8" font-size="9.2" text-anchor="start" font-weight="normal" fill="#1a1a1a" stroke="#1a1a1a" stroke-width="0.15">71.5%</text>
<text x="501.8" y="420.8" font-size="9.2" text-anchor="end" font-weight="normal" fill="#1a1a1a" stroke="#1a1a1a" stroke-width="0.15">19.0%</text>
<text x="411.5" y="488.5" font-size="9.2" text-anchor="start" font-weight="normal" fill="#1a1a1a" stroke="#1a1a1a" stroke-width="0.15">2.7%</text>
<text x="501.8" y="488.5" font-size="9.2" text-anchor="end" font-weight="normal" fill="#1a1a1a" stroke="#1a1a1a" stroke-width="0.15">6.7%</text>
<line x1="86.8" y1="520.9" x2="86.8" y2="618.4" stroke="#2a2a2a" stroke-width="1.2"/>
<line x1="43.6" y1="580" x2="143.3" y2="580" stroke="#2a2a2a" stroke-width="1.2"/>
<text x="45.8" y="530.2" font-size="9.2" text-anchor="start" font-weight="normal" fill="#1a1a1a" stroke="#1a1a1a" stroke-width="0.15">16.4%</text>
<text x="140.3" y="530.2" font-size="9.2" text-anchor="end" font-weight="normal" fill="#1a1a1a" stroke="#1a1a1a" stroke-width="0.15">82.2%</text>
<text x="47.7" y="616.4" font-size="9.2" text-anchor="start" font-weight="normal" fill="#1a1a1a" stroke="#1a1a1a" stroke-width="0.15">0.9%</text>
<text x="140.3" y="616.4" font-size="9.2" text-anchor="end" font-weight="normal" fill="#1a1a1a" stroke="#1a1a1a" stroke-width="0.15">0.4%</text>
<line x1="211.1" y1="520.9" x2="211.1" y2="618.4" stroke="#2a2a2a" stroke-width="1.2"/>
<line x1="163.8" y1="572.2" x2="263.6" y2="572.2" stroke="#2a2a2a" stroke-width="1.2"/>
<text x="167.7" y="530.2" font-size="9.2" text-anchor="start" font-weight="normal" fill="#1a1a1a" stroke="#1a1a1a" stroke-width="0.15">33.5%</text>
<text x="260.8" y="530.2" font-size="9.2" text-anchor="end" font-weight="normal" fill="#1a1a1a" stroke="#1a1a1a" stroke-width="0.15">19.1%</text>
<text x="168.6" y="616.4" font-size="9.2" text-anchor="start" font-weight="normal" fill="#1a1a1a" stroke="#1a1a1a" stroke-width="0.15">39.4%</text>
<text x="260.8" y="616.4" font-size="9.2" text-anchor="end" font-weight="normal" fill="#1a1a1a" stroke="#1a1a1a" stroke-width="0.15">8.0%</text>
<line x1="323.4" y1="520.9" x2="323.4" y2="618.4" stroke="#2a2a2a" stroke-width="1.2"/>
<line x1="284.6" y1="571.3" x2="384.4" y2="571.3" stroke="#2a2a2a" stroke-width="1.2"/>
<text x="287.8" y="530.2" font-size="9.2" text-anchor="start" font-weight="normal" fill="#1a1a1a" stroke="#1a1a1a" stroke-width="0.15">28.3%</text>
<text x="381.7" y="530.2" font-size="9.2" text-anchor="end" font-weight="normal" fill="#1a1a1a" stroke="#1a1a1a" stroke-width="0.15">68.6%</text>
<text x="288.7" y="615.6" font-size="9.2" text-anchor="start" font-weight="normal" fill="#1a1a1a" stroke="#1a1a1a" stroke-width="0.15">1.8%</text>
<text x="381.7" y="615.6" font-size="9.2" text-anchor="end" font-weight="normal" fill="#1a1a1a" stroke="#1a1a1a" stroke-width="0.15">1.3%</text>
<line x1="453.6" y1="520.9" x2="453.6" y2="618.4" stroke="#2a2a2a" stroke-width="1.2"/>
<line x1="405.8" y1="570.8" x2="505.4" y2="570.8" stroke="#2a2a2a" stroke-width="1.2"/>
<text x="409.7" y="530.2" font-size="9.2" text-anchor="start" font-weight="normal" fill="#1a1a1a" stroke="#1a1a1a" stroke-width="0.15">47.0%</text>
<text x="502.2" y="530.2" font-size="9.2" text-anchor="end" font-weight="normal" fill="#1a1a1a" stroke="#1a1a1a" stroke-width="0.15">1.5%</text>
<text x="411.5" y="616" font-size="9.2" text-anchor="start" font-weight="normal" fill="#1a1a1a" stroke="#1a1a1a" stroke-width="0.15">51.3%</text>
<text x="502.2" y="616" font-size="9.2" text-anchor="end" font-weight="normal" fill="#1a1a1a" stroke="#1a1a1a" stroke-width="0.15">0.3%</text>
<line x1="86.8" y1="644" x2="86.8" y2="742.2" stroke="#2a2a2a" stroke-width="1.2"/>
<line x1="43.3" y1="703.4" x2="142.5" y2="703.4" stroke="#2a2a2a" stroke-width="1.2"/>
<text x="45.8" y="653.2" font-size="9.2" text-anchor="start" font-weight="normal" fill="#1a1a1a" stroke="#1a1a1a" stroke-width="0.15">5.3%</text>
<text x="140.3" y="653.2" font-size="9.2" text-anchor="end" font-weight="normal" fill="#1a1a1a" stroke="#1a1a1a" stroke-width="0.15">93.6%</text>
<text x="45.8" y="739.6" font-size="9.2" text-anchor="start" font-weight="normal" fill="#1a1a1a" stroke="#1a1a1a" stroke-width="0.15">0.7%</text>
<text x="140.3" y="739.6" font-size="9.2" text-anchor="end" font-weight="normal" fill="#1a1a1a" stroke="#1a1a1a" stroke-width="0.15">0.4%</text>
<line x1="212.4" y1="644" x2="212.4" y2="742.2" stroke="#2a2a2a" stroke-width="1.2"/>
<line x1="164.6" y1="694.8" x2="264.1" y2="694.8" stroke="#2a2a2a" stroke-width="1.2"/>
<text x="168.7" y="653.6" font-size="9.2" text-anchor="start" font-weight="normal" fill="#1a1a1a" stroke="#1a1a1a" stroke-width="0.15">21.5%</text>
<text x="261.3" y="653.6" font-size="9.2" text-anchor="end" font-weight="normal" fill="#1a1a1a" stroke="#1a1a1a" stroke-width="0.15">30.1%</text>
<text x="168.7" y="739" font-size="9.2" text-anchor="start" font-weight="normal" fill="#1a1a1a" stroke="#1a1a1a" stroke-width="0.15">37.2%</text>
<text x="261.3" y="739" font-size="9.2" text-anchor="end" font-weight="normal" fill="#1a1a1a" stroke="#1a1a1a" stroke-width="0.15">11.2%</text>
<line x1="324.4" y1="644" x2="324.4" y2="742.2" stroke="#2a2a2a" stroke-width="1.2"/>
<line x1="286" y1="695.1" x2="385.6" y2="695.1" stroke="#2a2a2a" stroke-width="1.2"/>
<text x="287.8" y="653.2" font-size="9.2" text-anchor="start" font-weight="normal" fill="#1a1a1a" stroke="#1a1a1a" stroke-width="0.15">6.2%</text>
<text x="382.5" y="654.7" font-size="9.2" text-anchor="end" font-weight="normal" fill="#1a1a1a" stroke="#1a1a1a" stroke-width="0.15">92.5%</text>
<text x="288.8" y="738.1" font-size="9.2" text-anchor="start" font-weight="normal" fill="#1a1a1a" stroke="#1a1a1a" stroke-width="0.15">0.7%</text>
<text x="382.5" y="738.5" font-size="9.2" text-anchor="end" font-weight="normal" fill="#1a1a1a" stroke="#1a1a1a" stroke-width="0.15">0.6%</text>
<line x1="454.6" y1="644" x2="454.6" y2="742.2" stroke="#2a2a2a" stroke-width="1.2"/>
<line x1="407.5" y1="694.4" x2="506" y2="694.4" stroke="#2a2a2a" stroke-width="1.2"/>
<text x="410.7" y="653.6" font-size="9.2" text-anchor="start" font-weight="normal" fill="#1a1a1a" stroke="#1a1a1a" stroke-width="0.15">38.1%</text>
<text x="503.3" y="653.6" font-size="9.2" text-anchor="end" font-weight="normal" fill="#1a1a1a" stroke="#1a1a1a" stroke-width="0.15">11.7%</text>
<text x="409.8" y="738.5" font-size="9.2" text-anchor="start" font-weight="normal" fill="#1a1a1a" stroke="#1a1a1a" stroke-width="0.15">48.6%</text>
<text x="503.3" y="738.5" font-size="9.2" text-anchor="end" font-weight="normal" fill="#1a1a1a" stroke="#1a1a1a" stroke-width="0.15">1.5%</text>
<rect x="0" y="0" width="1.8" height="771" fill="#000"/>
<rect x="0" y="0" width="520" height="1.3" fill="#000"/>
<rect x="518.3" y="0" width="1.7" height="771" fill="#000"/>
<rect x="0" y="768.8" width="520" height="2.2" fill="#000"/>
</svg>
</body></html>
